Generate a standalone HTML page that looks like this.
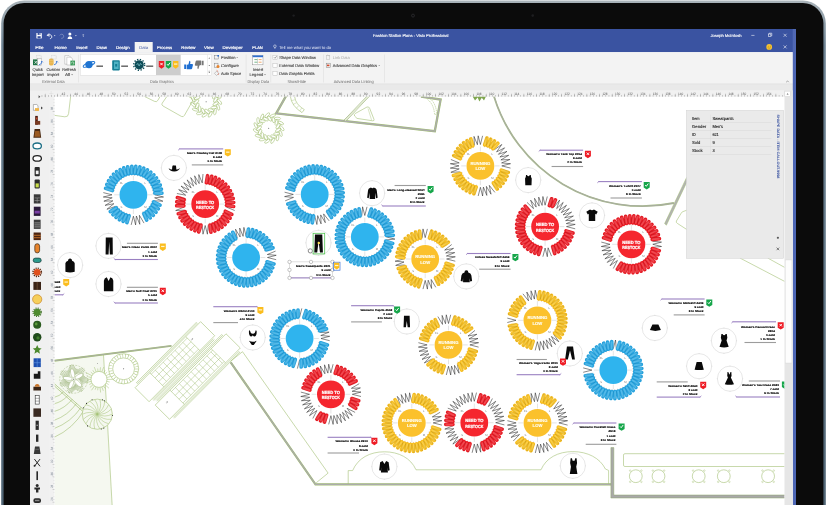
<!DOCTYPE html>
<html lang="en"><head><meta charset="utf-8"><title>Fashion Station Plans - Visio Professional</title>
<style>
html,body{margin:0;padding:0;background:#fff;overflow:hidden}
svg{display:block;font-family:"Liberation Sans", sans-serif;text-rendering:geometricPrecision}
text{white-space:pre}
</style></head>
<body>
<svg width="827" height="505" viewBox="0 0 827 505">
<defs>
<linearGradient id="edge" x1="0" y1="0" x2="0" y2="1"><stop offset="0" stop-color="#aab4ba"/><stop offset="0.08" stop-color="#6d8292"/><stop offset="1" stop-color="#4d6272"/></linearGradient>
<clipPath id="cv"><rect x="54.7" y="96.7" width="729.6" height="420"/></clipPath>
<clipPath id="scr"><rect x="30" y="29" width="766" height="480"/></clipPath>
</defs>
<rect x="0" y="0" width="827" height="505" fill="#ffffff"/>
<rect x="1.2" y="0.6" width="824.6" height="560" rx="23" ry="23" fill="url(#edge)"/>
<rect x="3.6" y="3" width="819.8" height="560" rx="20.5" ry="20.5" fill="#0b0b0b"/>
<circle cx="413" cy="15.6" r="1.5" fill="#0e0e10" stroke="#2c2c2f" stroke-width="0.8"/>
<circle cx="532.7" cy="15.6" r="1.3" fill="#1e1e20"/>
<circle cx="293.6" cy="15.6" r="1.2" fill="#1e1e20"/>
<g clip-path="url(#scr)">
<rect x="30" y="29" width="766" height="480" fill="#ffffff"/>
<rect x="30" y="29" width="766" height="23.2" fill="#3a53a1"/>
<rect x="30" y="52.2" width="766" height="31.8" fill="#f3f3f3"/>
<rect x="30" y="84" width="766" height="13" fill="#e9e9e9"/>
<rect x="30" y="83.6" width="766" height="0.6" fill="#dcdcdc"/>
<rect x="134.7" y="42" width="18" height="10.4" fill="#f3f3f3"/>
<g fill="none" stroke="#ffffff" stroke-width="0.9">
<rect x="36.4" y="33" width="5.4" height="5.4" rx="0.4" fill="#fff" stroke="none"/><rect x="37.6" y="33" width="3" height="1.9" fill="#3a53a1" stroke="none"/><rect x="37.5" y="36.2" width="3.2" height="2.2" fill="#3a53a1" stroke="none"/><rect x="39.5" y="33.3" width="0.8" height="1.3" fill="#fff" stroke="none"/>
<path d="M47.2 35.4 l1.9 -2 M47.2 35.4 l2.5 0.7 M47.6 35.2 c2 -1.2 4.2 -0.2 4.2 1.6 c0 1.1 -0.9 1.8 -1.9 1.9" />
<path d="M59.8 35.4 c0.8 -1.8 3.4 -1.6 3.9 0.4 c0.4 1.7 -1.2 2.9 -2.6 2.5" stroke-opacity="0.3"/>
</g>
<circle cx="69.9" cy="33.9" r="1.5" fill="#ffffff"/><path d="M67.6 38.9 c0 -3.6 4.6 -3.6 4.6 0 z" fill="#ffffff"/>
<path d="M53.9 35.2 h1.6 l-0.8 1z M75.1 35.2 h1.6 l-0.8 1z" fill="#ffffff"/>
<path d="M82.5 35.8 h1.6 l-0.8 1z" fill="#ffffff"/><rect x="82.5" y="34.6" width="1.6" height="0.5" fill="#ffffff"/>
<text x="373.00" y="36.70" font-size="4.1" fill="#fff" textLength="75.50" lengthAdjust="spacingAndGlyphs" stroke="#fff" stroke-width="0.12">Fashion Station Plans - Visio Professional</text>
<text x="710.50" y="36.70" font-size="4.1" fill="#fff" textLength="31.00" lengthAdjust="spacingAndGlyphs" stroke="#fff" stroke-width="0.12">Joseph McIntosh</text>
<g stroke="#ffffff" stroke-width="0.55" fill="none">
<path d="M751.3 35.4 h3.2"/>
<rect x="768.3" y="34" width="2.6" height="2.6"/><path d="M769.2 34 v-0.8 h2.6 v2.6 h-0.9"/>
<path d="M783.6 33.8 l3 3 M786.6 33.8 l-3 3"/>
<path d="M783.6 45.4 l3 3 M786.6 45.4 l-3 3"/>
</g>
<circle cx="769.2" cy="46.9" r="2.9" fill="#f6c232"/><circle cx="768.2" cy="46.2" r="0.35" fill="#7a5b00"/><circle cx="770.2" cy="46.2" r="0.35" fill="#7a5b00"/><path d="M767.7 47.6 q1.5 1.3 3 0" stroke="#7a5b00" stroke-width="0.35" fill="none"/>
<rect x="792.8" y="29" width="3.4" height="480" fill="#4d66b4"/>
<rect x="792.8" y="29" width="3.4" height="23.2" fill="#5068b3"/>
<text x="35.30" y="48.85" font-size="4.05" fill="#fff" textLength="8.20" lengthAdjust="spacingAndGlyphs" stroke="#fff" stroke-width="0.16">File</text>
<text x="54.60" y="48.85" font-size="4.05" fill="#fff" textLength="12.20" lengthAdjust="spacingAndGlyphs" stroke="#fff" stroke-width="0.16">Home</text>
<text x="76.20" y="48.85" font-size="4.05" fill="#fff" textLength="11.20" lengthAdjust="spacingAndGlyphs" stroke="#fff" stroke-width="0.16">Insert</text>
<text x="96.60" y="48.85" font-size="4.05" fill="#fff" textLength="10.20" lengthAdjust="spacingAndGlyphs" stroke="#fff" stroke-width="0.16">Draw</text>
<text x="116.00" y="48.85" font-size="4.05" fill="#fff" textLength="13.60" lengthAdjust="spacingAndGlyphs" stroke="#fff" stroke-width="0.16">Design</text>
<text x="157.00" y="48.85" font-size="4.05" fill="#fff" textLength="15.20" lengthAdjust="spacingAndGlyphs" stroke="#fff" stroke-width="0.16">Process</text>
<text x="181.30" y="48.85" font-size="4.05" fill="#fff" textLength="14.20" lengthAdjust="spacingAndGlyphs" stroke="#fff" stroke-width="0.16">Review</text>
<text x="204.10" y="48.85" font-size="4.05" fill="#fff" textLength="9.60" lengthAdjust="spacingAndGlyphs" stroke="#fff" stroke-width="0.16">View</text>
<text x="222.50" y="48.85" font-size="4.05" fill="#fff" textLength="20.20" lengthAdjust="spacingAndGlyphs" stroke="#fff" stroke-width="0.16">Developer</text>
<text x="252.20" y="48.85" font-size="4.05" fill="#fff" textLength="10.60" lengthAdjust="spacingAndGlyphs" stroke="#fff" stroke-width="0.16">PLAN</text>
<text x="139.20" y="48.85" font-size="4.05" fill="#3a53a1" textLength="9.00" lengthAdjust="spacingAndGlyphs">Data</text>
<circle cx="274.9" cy="46.2" r="1.3" fill="none" stroke="#fff" stroke-width="0.5"/><path d="M274.3 47.7 h1.2 M274.4 48.5 h1" stroke="#fff" stroke-width="0.4"/>
<text x="279.20" y="48.85" font-size="4.05" fill="#e4e9f7" textLength="52.00" lengthAdjust="spacingAndGlyphs">Tell me what you want to do</text>
<rect x="78.5" y="54.5" width="0.5" height="28" fill="#dadada"/>
<rect x="245.8" y="54.5" width="0.5" height="28" fill="#dadada"/>
<rect x="270.6" y="54.5" width="0.5" height="28" fill="#dadada"/>
<rect x="323.2" y="54.5" width="0.5" height="28" fill="#dadada"/>
<rect x="384.1" y="54.5" width="0.5" height="28" fill="#dadada"/>
<rect x="33" y="59.4" width="5.6" height="5.8" fill="#1f7244"/><path d="M34.4 60.8 l2.8 3 M37.2 60.8 l-2.8 3" stroke="#fff" stroke-width="0.7"/>
<rect x="37.4" y="58.6" width="4" height="6.6" fill="#fff" stroke="#9a9a9a" stroke-width="0.4"/>
<rect x="36.6" y="55.4" width="4.6" height="3.6" fill="none" stroke="#b5b5b5" stroke-width="0.4" stroke-dasharray="0.8 0.5"/>
<path d="M39 64.8 q2.8 -0.4 3 -3.4 l-1.1 0.5 m1.1 -0.5 l0.9 0.9" stroke="#2f6fd0" stroke-width="0.8" fill="none"/>
<rect x="49" y="58.4" width="4.6" height="7" rx="1.6" fill="#e8b44c"/><path d="M49 60.6 h4.6 M49 62.8 h4.6" stroke="#f6d995" stroke-width="0.4"/>
<rect x="51.6" y="55.4" width="4.6" height="3.6" fill="none" stroke="#b5b5b5" stroke-width="0.4" stroke-dasharray="0.8 0.5"/>
<path d="M54 64.8 q2.8 -0.4 3 -3.4 l-1.1 0.5 m1.1 -0.5 l0.9 0.9" stroke="#2f6fd0" stroke-width="0.8" fill="none"/>
<path d="M64.8 55.6 h4.2 l2 2 v6.6 h-6.2z" fill="#fff" stroke="#a2a2a2" stroke-width="0.45"/><path d="M66.8 57.2 h4 l1.8 1.8 v6 h-5.8z" fill="#fff" stroke="#a2a2a2" stroke-width="0.45"/>
<rect x="70.4" y="60.6" width="4.6" height="4.8" fill="#3c9b5a"/><path d="M71.6 63.4 a1.2 1.2 0 1 1 1.2 0.9" stroke="#fff" stroke-width="0.5" fill="none"/>
<text x="32.50" y="70.90" font-size="4.0" fill="#404040" textLength="10.40" lengthAdjust="spacingAndGlyphs" stroke="#404040" stroke-width="0.1">Quick</text>
<text x="31.70" y="76.40" font-size="4.0" fill="#404040" textLength="12.00" lengthAdjust="spacingAndGlyphs" stroke="#404040" stroke-width="0.1">Import</text>
<text x="46.40" y="70.90" font-size="4.0" fill="#404040" textLength="13.60" lengthAdjust="spacingAndGlyphs" stroke="#404040" stroke-width="0.1">Custom</text>
<text x="47.20" y="76.40" font-size="4.0" fill="#404040" textLength="12.00" lengthAdjust="spacingAndGlyphs" stroke="#404040" stroke-width="0.1">Import</text>
<text x="62.30" y="70.90" font-size="4.0" fill="#404040" textLength="13.60" lengthAdjust="spacingAndGlyphs" stroke="#404040" stroke-width="0.1">Refresh</text>
<text x="64.90" y="76.40" font-size="4.0" fill="#404040" textLength="5.20" lengthAdjust="spacingAndGlyphs" stroke="#404040" stroke-width="0.1">All</text>
<path d="M71.3 74.3 h1.6 l-0.8 0.9z" fill="#555"/>
<text x="42.15" y="83.00" font-size="4.1" fill="#666" textLength="22.50" lengthAdjust="spacingAndGlyphs">External Data</text>
<text x="150.00" y="83.00" font-size="4.1" fill="#666" textLength="24.00" lengthAdjust="spacingAndGlyphs">Data Graphics</text>
<text x="247.55" y="83.00" font-size="4.1" fill="#666" textLength="21.50" lengthAdjust="spacingAndGlyphs">Display Data</text>
<text x="287.45" y="83.00" font-size="4.1" fill="#666" textLength="18.50" lengthAdjust="spacingAndGlyphs">Show/Hide</text>
<text x="333.70" y="83.00" font-size="4.1" fill="#666" textLength="40.00" lengthAdjust="spacingAndGlyphs">Advanced Data Linking</text>
<rect x="80.4" y="54.6" width="131.2" height="20.6" fill="#ffffff" stroke="#d5d5d5" stroke-width="0.4"/>
<rect x="156" y="54.8" width="24.7" height="20.2" fill="#cdcdcd"/>
<rect x="207" y="54.8" width="0.4" height="20.2" fill="#d5d5d5"/>
<circle cx="89" cy="64.6" r="3.7" fill="#1f74d1"/><ellipse cx="89" cy="64.4" rx="6.2" ry="1.7" transform="rotate(-22 89 64.4)" fill="none" stroke="#1f74d1" stroke-width="1"/>
<rect x="96.4" y="65.6" width="6.6" height="1.1" fill="#333"/>
<rect x="112.2" y="60.2" width="7.6" height="10.2" rx="0.8" fill="#157f95"/><rect x="114" y="61.6" width="4.6" height="7.4" fill="#4fb3c4"/><rect x="115.2" y="64" width="2" height="2.6" fill="#157f95"/>
<rect x="121.2" y="65.6" width="6.8" height="1.1" fill="#333"/>
<circle cx="139.2" cy="64.8" r="4.6" fill="#0d4c57"/><circle cx="139.2" cy="64.8" r="5.5" fill="none" stroke="#0d4c57" stroke-width="1.4" stroke-dasharray="1.3 1.58"/><path d="M136.6 65 l1.2 -1.6 l1.3 2.6 l1.3 -2.6 l1.3 1.6" stroke="#8fd3dc" stroke-width="0.6" fill="none"/>
<rect x="146.2" y="65.6" width="7" height="1.1" fill="#333"/>
<path d="M158.80 60.90 h5.4 v5.85 l-2.70 2.05 l-2.70 -2.05z" fill="#ee1c25"/>
<path d="M160.30 62.86 l2.4 2.4 M162.70 62.86 l-2.4 2.4" stroke="#fff" stroke-width="0.95"/>
<path d="M165.80 60.90 h5.4 v5.85 l-2.70 2.05 l-2.70 -2.05z" fill="#16a64a"/>
<path d="M167.00 64.16 l1.1 1.2 l2 -2.7" stroke="#fff" stroke-width="0.95" fill="none"/>
<path d="M173.00 60.90 h5.4 v5.85 l-2.70 2.05 l-2.70 -2.05z" fill="#fbbd1e"/>
<rect x="174.00" y="63.46" width="3.4" height="1.2" fill="#fff4cf"/>
<path d="M184.2 64.6 h2 v4.4 h-2z M186.8 64.8 l1.6 -0.4 l1 -3.6 q1.2 0 1 1.6 l-0.3 1.6 h2.2 q1 0.2 0.6 1.2 l-0.8 3.4 q-0.2 0.6 -1 0.6 h-4.3z" fill="#1f6fd2"/>
<path d="M203.6 65.2 h-2 v-4.4 h2z M201 65 l-1.6 0.4 l-1 3.6 q-1.2 0 -1 -1.6 l0.3 -1.6 h-2.2 q-1 -0.2 -0.6 -1.2 l0.8 -3.4 q0.2 -0.6 1 -0.6 h4.3z" fill="#777"/>
<path d="M208.5 58.4 h1.6 l-0.8 -0.9z M208.5 65 h1.6 l-0.8 0.9z M208.5 72 h1.6 l-0.8 0.9z" fill="#555"/><rect x="208.5" y="70.9" width="1.6" height="0.4" fill="#555"/>
<rect x="214.6" y="55.6" width="3.6" height="3.4" fill="none" stroke="#777" stroke-width="0.45"/><rect x="217.4" y="55" width="1.6" height="1.6" fill="#2f6fd0"/>
<rect x="214.6" y="63.2" width="3.4" height="4" fill="none" stroke="#777" stroke-width="0.45"/><circle cx="218" cy="66.6" r="1.5" fill="#e8842c"/>
<path d="M214.4 73.4 l2.2 -2.2 l2.2 2.2 l-2.2 2.2z" fill="none" stroke="#999" stroke-width="0.5"/><path d="M216.6 70.4 l1.6 1.2 M218.6 73.4 l-0.6 1.6" stroke="#d24a2c" stroke-width="0.6"/>
<text x="221.00" y="59.20" font-size="4.0" fill="#404040" textLength="14.40" lengthAdjust="spacingAndGlyphs" stroke="#404040" stroke-width="0.1">Position</text>
<path d="M236.4 57.2 h1.6 l-0.8 0.9z" fill="#555"/>
<text x="221.00" y="67.30" font-size="4.0" fill="#404040" textLength="17.90" lengthAdjust="spacingAndGlyphs" stroke="#404040" stroke-width="0.1">Configure</text>
<text x="221.00" y="75.30" font-size="4.0" fill="#404040" textLength="20.10" lengthAdjust="spacingAndGlyphs" stroke="#404040" stroke-width="0.1">Auto Space</text>
<rect x="252.6" y="55.4" width="10.4" height="9.4" fill="#fff" stroke="#8a8a8a" stroke-width="0.45"/><rect x="252.6" y="55.4" width="10.4" height="1.8" fill="#2f6fd0"/>
<path d="M254.4 59.6 h3 M254.4 62.2 h3" stroke="#3c9b5a" stroke-width="0.7"/><path d="M258.6 59.6 h3 M258.6 62.2 h3" stroke="#e8842c" stroke-width="0.7"/><rect x="257.6" y="58.4" width="0.4" height="5.4" fill="#999"/>
<text x="252.80" y="70.90" font-size="4.0" fill="#404040" textLength="10.40" lengthAdjust="spacingAndGlyphs" stroke="#404040" stroke-width="0.1">Insert</text>
<text x="249.60" y="76.40" font-size="4.0" fill="#404040" textLength="13.60" lengthAdjust="spacingAndGlyphs" stroke="#404040" stroke-width="0.1">Legend</text>
<path d="M264.2 74.3 h1.6 l-0.8 0.9z" fill="#555"/>
<rect x="272.9" y="55.20" width="4.2" height="4.2" fill="#fff" stroke="#b0b0b0" stroke-width="0.4"/>
<path d="M274.1 57.30 l0.9 1 l1.6 -2.1" stroke="#444" stroke-width="0.5" fill="none"/>
<text x="279.30" y="58.95" font-size="4.0" fill="#404040" textLength="36.60" lengthAdjust="spacingAndGlyphs" stroke="#404040" stroke-width="0.1">Shape Data Window</text>
<rect x="272.9" y="63.25" width="4.2" height="4.2" fill="#fff" stroke="#b0b0b0" stroke-width="0.4"/>
<text x="279.30" y="67.00" font-size="4.0" fill="#404040" textLength="40.00" lengthAdjust="spacingAndGlyphs" stroke="#404040" stroke-width="0.1">External Data Window</text>
<rect x="272.9" y="71.30" width="4.2" height="4.2" fill="#fff" stroke="#b0b0b0" stroke-width="0.4"/>
<text x="279.30" y="75.05" font-size="4.0" fill="#404040" textLength="35.20" lengthAdjust="spacingAndGlyphs" stroke="#404040" stroke-width="0.1">Data Graphic Fields</text>
<rect x="326.4" y="55.4" width="3.4" height="3.8" fill="none" stroke="#b8b8b8" stroke-width="0.45"/><path d="M327 54.8 l2.6 1.4" stroke="#b8b8b8" stroke-width="0.5"/>
<text x="332.80" y="59.20" font-size="4.0" fill="#a6a6a6" textLength="16.90" lengthAdjust="spacingAndGlyphs">Link Data</text>
<rect x="326.2" y="63.2" width="4" height="4.4" fill="none" stroke="#777" stroke-width="0.45"/><rect x="327" y="64.6" width="2.4" height="1.6" fill="#d24a2c"/>
<text x="332.80" y="67.30" font-size="4.0" fill="#404040" textLength="44.20" lengthAdjust="spacingAndGlyphs" stroke="#404040" stroke-width="0.1">Advanced Data Graphics</text>
<path d="M378.4 65.2 h1.6 l-0.8 0.9z" fill="#555"/>
<path d="M786.2 82.2 l1.3 -1.3 l1.3 1.3" stroke="#555" stroke-width="0.5" fill="none"/>
<rect x="30" y="90.3" width="19" height="420" fill="#f0f0f0"/>
<rect x="30" y="84.2" width="19" height="6.1" fill="#e9e9e9"/>
<path d="M38.6 95.2 l1.7 1.5 l-1.7 1.5z" fill="#444"/>
<rect x="49" y="90.3" width="735.3" height="6.4" fill="#f1f1f1"/>
<rect x="49" y="96.7" width="5.7" height="420" fill="#f1f1f1"/>
<path d="M51.2 91.4 v4.2 M49.6 93.5 h3.8" stroke="#c0c0c0" stroke-width="0.4" stroke-dasharray="0.5 0.4"/>
<path d="M44.90 95.5 H784" stroke="#8a8a8a" stroke-width="3.6" stroke-dasharray="0.45 12.15" />
<path d="M41.75 96 H784" stroke="#999" stroke-width="2" stroke-dasharray="0.45 2.7" />
<text x="61.60" y="94.60" font-size="3.4" fill="#555" textLength="3.60" lengthAdjust="spacingAndGlyphs">42</text>
<text x="74.20" y="94.60" font-size="3.4" fill="#555" textLength="3.60" lengthAdjust="spacingAndGlyphs">44</text>
<text x="86.80" y="94.60" font-size="3.4" fill="#555" textLength="3.60" lengthAdjust="spacingAndGlyphs">46</text>
<text x="99.40" y="94.60" font-size="3.4" fill="#555" textLength="3.60" lengthAdjust="spacingAndGlyphs">48</text>
<text x="112.00" y="94.60" font-size="3.4" fill="#555" textLength="3.60" lengthAdjust="spacingAndGlyphs">50</text>
<text x="124.60" y="94.60" font-size="3.4" fill="#555" textLength="3.60" lengthAdjust="spacingAndGlyphs">52</text>
<text x="137.20" y="94.60" font-size="3.4" fill="#555" textLength="3.60" lengthAdjust="spacingAndGlyphs">54</text>
<text x="149.80" y="94.60" font-size="3.4" fill="#555" textLength="3.60" lengthAdjust="spacingAndGlyphs">56</text>
<text x="162.40" y="94.60" font-size="3.4" fill="#555" textLength="3.60" lengthAdjust="spacingAndGlyphs">58</text>
<text x="175.00" y="94.60" font-size="3.4" fill="#555" textLength="3.60" lengthAdjust="spacingAndGlyphs">60</text>
<text x="187.60" y="94.60" font-size="3.4" fill="#555" textLength="3.60" lengthAdjust="spacingAndGlyphs">62</text>
<text x="200.20" y="94.60" font-size="3.4" fill="#555" textLength="3.60" lengthAdjust="spacingAndGlyphs">64</text>
<text x="212.80" y="94.60" font-size="3.4" fill="#555" textLength="3.60" lengthAdjust="spacingAndGlyphs">66</text>
<text x="225.40" y="94.60" font-size="3.4" fill="#555" textLength="3.60" lengthAdjust="spacingAndGlyphs">68</text>
<text x="238.00" y="94.60" font-size="3.4" fill="#555" textLength="3.60" lengthAdjust="spacingAndGlyphs">70</text>
<text x="250.60" y="94.60" font-size="3.4" fill="#555" textLength="3.60" lengthAdjust="spacingAndGlyphs">72</text>
<text x="263.20" y="94.60" font-size="3.4" fill="#555" textLength="3.60" lengthAdjust="spacingAndGlyphs">74</text>
<text x="275.80" y="94.60" font-size="3.4" fill="#555" textLength="3.60" lengthAdjust="spacingAndGlyphs">76</text>
<text x="288.40" y="94.60" font-size="3.4" fill="#555" textLength="3.60" lengthAdjust="spacingAndGlyphs">78</text>
<text x="301.00" y="94.60" font-size="3.4" fill="#555" textLength="3.60" lengthAdjust="spacingAndGlyphs">80</text>
<text x="313.60" y="94.60" font-size="3.4" fill="#555" textLength="3.60" lengthAdjust="spacingAndGlyphs">82</text>
<text x="326.20" y="94.60" font-size="3.4" fill="#555" textLength="3.60" lengthAdjust="spacingAndGlyphs">84</text>
<text x="338.80" y="94.60" font-size="3.4" fill="#555" textLength="3.60" lengthAdjust="spacingAndGlyphs">86</text>
<text x="351.40" y="94.60" font-size="3.4" fill="#555" textLength="3.60" lengthAdjust="spacingAndGlyphs">88</text>
<text x="364.00" y="94.60" font-size="3.4" fill="#555" textLength="3.60" lengthAdjust="spacingAndGlyphs">90</text>
<text x="376.60" y="94.60" font-size="3.4" fill="#555" textLength="3.60" lengthAdjust="spacingAndGlyphs">92</text>
<text x="389.20" y="94.60" font-size="3.4" fill="#555" textLength="3.60" lengthAdjust="spacingAndGlyphs">94</text>
<text x="401.80" y="94.60" font-size="3.4" fill="#555" textLength="3.60" lengthAdjust="spacingAndGlyphs">96</text>
<text x="414.40" y="94.60" font-size="3.4" fill="#555" textLength="3.60" lengthAdjust="spacingAndGlyphs">98</text>
<text x="426.00" y="94.60" font-size="3.4" fill="#555" textLength="5.20" lengthAdjust="spacingAndGlyphs">100</text>
<text x="438.60" y="94.60" font-size="3.4" fill="#555" textLength="5.20" lengthAdjust="spacingAndGlyphs">102</text>
<text x="451.20" y="94.60" font-size="3.4" fill="#555" textLength="5.20" lengthAdjust="spacingAndGlyphs">104</text>
<text x="463.80" y="94.60" font-size="3.4" fill="#555" textLength="5.20" lengthAdjust="spacingAndGlyphs">106</text>
<text x="476.40" y="94.60" font-size="3.4" fill="#555" textLength="5.20" lengthAdjust="spacingAndGlyphs">108</text>
<text x="489.00" y="94.60" font-size="3.4" fill="#555" textLength="5.20" lengthAdjust="spacingAndGlyphs">110</text>
<text x="501.60" y="94.60" font-size="3.4" fill="#555" textLength="5.20" lengthAdjust="spacingAndGlyphs">112</text>
<text x="514.20" y="94.60" font-size="3.4" fill="#555" textLength="5.20" lengthAdjust="spacingAndGlyphs">114</text>
<text x="526.80" y="94.60" font-size="3.4" fill="#555" textLength="5.20" lengthAdjust="spacingAndGlyphs">116</text>
<text x="539.40" y="94.60" font-size="3.4" fill="#555" textLength="5.20" lengthAdjust="spacingAndGlyphs">118</text>
<text x="552.00" y="94.60" font-size="3.4" fill="#555" textLength="5.20" lengthAdjust="spacingAndGlyphs">120</text>
<text x="564.60" y="94.60" font-size="3.4" fill="#555" textLength="5.20" lengthAdjust="spacingAndGlyphs">122</text>
<text x="577.20" y="94.60" font-size="3.4" fill="#555" textLength="5.20" lengthAdjust="spacingAndGlyphs">124</text>
<text x="589.80" y="94.60" font-size="3.4" fill="#555" textLength="5.20" lengthAdjust="spacingAndGlyphs">126</text>
<text x="602.40" y="94.60" font-size="3.4" fill="#555" textLength="5.20" lengthAdjust="spacingAndGlyphs">128</text>
<text x="615.00" y="94.60" font-size="3.4" fill="#555" textLength="5.20" lengthAdjust="spacingAndGlyphs">130</text>
<text x="627.60" y="94.60" font-size="3.4" fill="#555" textLength="5.20" lengthAdjust="spacingAndGlyphs">132</text>
<text x="640.20" y="94.60" font-size="3.4" fill="#555" textLength="5.20" lengthAdjust="spacingAndGlyphs">134</text>
<text x="652.80" y="94.60" font-size="3.4" fill="#555" textLength="5.20" lengthAdjust="spacingAndGlyphs">136</text>
<text x="665.40" y="94.60" font-size="3.4" fill="#555" textLength="5.20" lengthAdjust="spacingAndGlyphs">138</text>
<text x="678.00" y="94.60" font-size="3.4" fill="#555" textLength="5.20" lengthAdjust="spacingAndGlyphs">140</text>
<text x="690.60" y="94.60" font-size="3.4" fill="#555" textLength="5.20" lengthAdjust="spacingAndGlyphs">142</text>
<text x="703.20" y="94.60" font-size="3.4" fill="#555" textLength="5.20" lengthAdjust="spacingAndGlyphs">144</text>
<text x="715.80" y="94.60" font-size="3.4" fill="#555" textLength="5.20" lengthAdjust="spacingAndGlyphs">146</text>
<text x="728.40" y="94.60" font-size="3.4" fill="#555" textLength="5.20" lengthAdjust="spacingAndGlyphs">148</text>
<text x="741.00" y="94.60" font-size="3.4" fill="#555" textLength="5.20" lengthAdjust="spacingAndGlyphs">150</text>
<text x="753.60" y="94.60" font-size="3.4" fill="#555" textLength="5.20" lengthAdjust="spacingAndGlyphs">152</text>
<text x="766.20" y="94.60" font-size="3.4" fill="#555" textLength="5.20" lengthAdjust="spacingAndGlyphs">154</text>
<path d="M54.1 99 V505" stroke="#b4b4b4" stroke-width="1.2" stroke-dasharray="0.35 2.8"/>
<text transform="translate(53.0 110.1) rotate(-90)" font-size="3.2" fill="#7d8794" textLength="3.4" lengthAdjust="spacingAndGlyphs">88</text>
<rect x="52.4" y="111.3" width="2.3" height="0.35" fill="#aaa"/>
<text transform="translate(53.0 122.7) rotate(-90)" font-size="3.2" fill="#7d8794" textLength="3.4" lengthAdjust="spacingAndGlyphs">86</text>
<rect x="52.4" y="123.9" width="2.3" height="0.35" fill="#aaa"/>
<text transform="translate(53.0 135.3) rotate(-90)" font-size="3.2" fill="#7d8794" textLength="3.4" lengthAdjust="spacingAndGlyphs">84</text>
<rect x="52.4" y="136.5" width="2.3" height="0.35" fill="#aaa"/>
<text transform="translate(53.0 147.9) rotate(-90)" font-size="3.2" fill="#7d8794" textLength="3.4" lengthAdjust="spacingAndGlyphs">82</text>
<rect x="52.4" y="149.1" width="2.3" height="0.35" fill="#aaa"/>
<text transform="translate(53.0 160.5) rotate(-90)" font-size="3.2" fill="#7d8794" textLength="3.4" lengthAdjust="spacingAndGlyphs">80</text>
<rect x="52.4" y="161.7" width="2.3" height="0.35" fill="#aaa"/>
<text transform="translate(53.0 173.1) rotate(-90)" font-size="3.2" fill="#7d8794" textLength="3.4" lengthAdjust="spacingAndGlyphs">78</text>
<rect x="52.4" y="174.3" width="2.3" height="0.35" fill="#aaa"/>
<text transform="translate(53.0 185.7) rotate(-90)" font-size="3.2" fill="#7d8794" textLength="3.4" lengthAdjust="spacingAndGlyphs">76</text>
<rect x="52.4" y="186.9" width="2.3" height="0.35" fill="#aaa"/>
<text transform="translate(53.0 198.3) rotate(-90)" font-size="3.2" fill="#7d8794" textLength="3.4" lengthAdjust="spacingAndGlyphs">74</text>
<rect x="52.4" y="199.5" width="2.3" height="0.35" fill="#aaa"/>
<text transform="translate(53.0 210.9) rotate(-90)" font-size="3.2" fill="#7d8794" textLength="3.4" lengthAdjust="spacingAndGlyphs">72</text>
<rect x="52.4" y="212.1" width="2.3" height="0.35" fill="#aaa"/>
<text transform="translate(53.0 223.5) rotate(-90)" font-size="3.2" fill="#7d8794" textLength="3.4" lengthAdjust="spacingAndGlyphs">70</text>
<rect x="52.4" y="224.7" width="2.3" height="0.35" fill="#aaa"/>
<text transform="translate(53.0 236.1) rotate(-90)" font-size="3.2" fill="#7d8794" textLength="3.4" lengthAdjust="spacingAndGlyphs">68</text>
<rect x="52.4" y="237.3" width="2.3" height="0.35" fill="#aaa"/>
<text transform="translate(53.0 248.7) rotate(-90)" font-size="3.2" fill="#7d8794" textLength="3.4" lengthAdjust="spacingAndGlyphs">66</text>
<rect x="52.4" y="249.9" width="2.3" height="0.35" fill="#aaa"/>
<text transform="translate(53.0 261.3) rotate(-90)" font-size="3.2" fill="#7d8794" textLength="3.4" lengthAdjust="spacingAndGlyphs">64</text>
<rect x="52.4" y="262.5" width="2.3" height="0.35" fill="#aaa"/>
<text transform="translate(53.0 273.9) rotate(-90)" font-size="3.2" fill="#7d8794" textLength="3.4" lengthAdjust="spacingAndGlyphs">62</text>
<rect x="52.4" y="275.1" width="2.3" height="0.35" fill="#aaa"/>
<text transform="translate(53.0 286.5) rotate(-90)" font-size="3.2" fill="#7d8794" textLength="3.4" lengthAdjust="spacingAndGlyphs">60</text>
<rect x="52.4" y="287.7" width="2.3" height="0.35" fill="#aaa"/>
<text transform="translate(53.0 299.1) rotate(-90)" font-size="3.2" fill="#7d8794" textLength="3.4" lengthAdjust="spacingAndGlyphs">58</text>
<rect x="52.4" y="300.3" width="2.3" height="0.35" fill="#aaa"/>
<text transform="translate(53.0 311.7) rotate(-90)" font-size="3.2" fill="#7d8794" textLength="3.4" lengthAdjust="spacingAndGlyphs">56</text>
<rect x="52.4" y="312.9" width="2.3" height="0.35" fill="#aaa"/>
<text transform="translate(53.0 324.3) rotate(-90)" font-size="3.2" fill="#7d8794" textLength="3.4" lengthAdjust="spacingAndGlyphs">54</text>
<rect x="52.4" y="325.5" width="2.3" height="0.35" fill="#aaa"/>
<text transform="translate(53.0 336.9) rotate(-90)" font-size="3.2" fill="#7d8794" textLength="3.4" lengthAdjust="spacingAndGlyphs">52</text>
<rect x="52.4" y="338.1" width="2.3" height="0.35" fill="#aaa"/>
<text transform="translate(53.0 349.5) rotate(-90)" font-size="3.2" fill="#7d8794" textLength="3.4" lengthAdjust="spacingAndGlyphs">50</text>
<rect x="52.4" y="350.7" width="2.3" height="0.35" fill="#aaa"/>
<text transform="translate(53.0 362.1) rotate(-90)" font-size="3.2" fill="#7d8794" textLength="3.4" lengthAdjust="spacingAndGlyphs">48</text>
<rect x="52.4" y="363.3" width="2.3" height="0.35" fill="#aaa"/>
<text transform="translate(53.0 374.7) rotate(-90)" font-size="3.2" fill="#7d8794" textLength="3.4" lengthAdjust="spacingAndGlyphs">46</text>
<rect x="52.4" y="375.9" width="2.3" height="0.35" fill="#aaa"/>
<text transform="translate(53.0 387.3) rotate(-90)" font-size="3.2" fill="#7d8794" textLength="3.4" lengthAdjust="spacingAndGlyphs">44</text>
<rect x="52.4" y="388.5" width="2.3" height="0.35" fill="#aaa"/>
<text transform="translate(53.0 399.9) rotate(-90)" font-size="3.2" fill="#7d8794" textLength="3.4" lengthAdjust="spacingAndGlyphs">42</text>
<rect x="52.4" y="401.1" width="2.3" height="0.35" fill="#aaa"/>
<text transform="translate(53.0 412.5) rotate(-90)" font-size="3.2" fill="#7d8794" textLength="3.4" lengthAdjust="spacingAndGlyphs">40</text>
<rect x="52.4" y="413.7" width="2.3" height="0.35" fill="#aaa"/>
<text transform="translate(53.0 425.1) rotate(-90)" font-size="3.2" fill="#7d8794" textLength="3.4" lengthAdjust="spacingAndGlyphs">38</text>
<rect x="52.4" y="426.3" width="2.3" height="0.35" fill="#aaa"/>
<text transform="translate(53.0 437.7) rotate(-90)" font-size="3.2" fill="#7d8794" textLength="3.4" lengthAdjust="spacingAndGlyphs">36</text>
<rect x="52.4" y="438.9" width="2.3" height="0.35" fill="#aaa"/>
<text transform="translate(53.0 450.3) rotate(-90)" font-size="3.2" fill="#7d8794" textLength="3.4" lengthAdjust="spacingAndGlyphs">34</text>
<rect x="52.4" y="451.5" width="2.3" height="0.35" fill="#aaa"/>
<text transform="translate(53.0 462.9) rotate(-90)" font-size="3.2" fill="#7d8794" textLength="3.4" lengthAdjust="spacingAndGlyphs">32</text>
<rect x="52.4" y="464.1" width="2.3" height="0.35" fill="#aaa"/>
<text transform="translate(53.0 475.5) rotate(-90)" font-size="3.2" fill="#7d8794" textLength="3.4" lengthAdjust="spacingAndGlyphs">30</text>
<rect x="52.4" y="476.7" width="2.3" height="0.35" fill="#aaa"/>
<text transform="translate(53.0 488.1) rotate(-90)" font-size="3.2" fill="#7d8794" textLength="3.4" lengthAdjust="spacingAndGlyphs">28</text>
<rect x="52.4" y="489.3" width="2.3" height="0.35" fill="#aaa"/>
<text transform="translate(53.0 500.7) rotate(-90)" font-size="3.2" fill="#7d8794" textLength="3.4" lengthAdjust="spacingAndGlyphs">26</text>
<rect x="52.4" y="501.9" width="2.3" height="0.35" fill="#aaa"/>
<rect x="784.3" y="90.3" width="8.5" height="420" fill="#e6e6e6"/>
<rect x="784.9" y="91.2" width="5.4" height="5.2" fill="#fff" stroke="#c8c8c8" stroke-width="0.3"/><path d="M786.6 94.4 h2 l-1 -1.2z" fill="#555"/>
<rect x="785.3" y="260" width="6.6" height="103" fill="#fdfdfd" stroke="#d0d0d0" stroke-width="0.3"/>
<path d="M33.4 104.5 h3.4 l1.2 1.2 v4.6 h-4.6z" fill="#fff" stroke="#666" stroke-width="0.45"/><rect x="35" y="108.1" width="4" height="2.8" fill="#f0b64a"/><path d="M41 106.5 l1.9 1.5 l-1.9 1.5z" fill="#444"/>
<rect x="35.2" y="115.9" width="2.6" height="8.8" fill="#4a1f12"/><rect x="35.2" y="120.9" width="5" height="3.8" fill="#7a3b22"/><rect x="36" y="117.5" width="1.4" height="2" fill="#c84a2a"/>
<path d="M34.6 128.9 h5.4 l1.2 8.8 h-7.8z" fill="#4a2a12"/><path d="M35.2 131.10000000000002 h4.2 l0.8 5.6 h-5.8z" fill="#9a5a22"/>
<ellipse cx="37.2" cy="145.9" rx="4.2" ry="2.9" fill="#fff" stroke="#1d6f86" stroke-width="1.3"/>
<ellipse cx="37.2" cy="158.4" rx="4.2" ry="2.7" fill="#fff" stroke="#222" stroke-width="1.3"/>
<rect x="34.6" y="167.00000000000003" width="5.2" height="9.2" rx="1" fill="#2a2a2a"/><rect x="35.8" y="170.60000000000002" width="2.8" height="3.6" fill="#f4f4f4"/>
<rect x="34.6" y="179.4" width="5.2" height="9.2" rx="1" fill="#2a2a2a"/><rect x="35.6" y="183.4" width="3.2" height="4" fill="#c9dd4a"/>
<rect x="33.8" y="194.3" width="6.8" height="9.2" fill="#3a3a3a"/><path d="M34.6 197.9 h5.2 M34.6 200.5 h5.2 M37.2 197.9 v4.6" stroke="#aaa" stroke-width="0.5"/>
<rect x="33.8" y="206.70000000000002" width="6.8" height="9.2" fill="#2a1a3a"/><rect x="34.6" y="210.70000000000002" width="5.2" height="2.8" fill="#7a3fa6"/>
<rect x="33.8" y="219.70000000000002" width="6.8" height="9.2" fill="#3c3c3c"/><path d="M34.4 222.9 h5.6 M34.4 224.9 h5.6 M34.4 226.9 h5.6" stroke="#ddd" stroke-width="0.5"/>
<rect x="33.6" y="232.5" width="7.2" height="7.6" fill="#4a2412"/><path d="M33.6 235.3 h7.2 M33.6 237.70000000000002 h7.2" stroke="#c8742a" stroke-width="0.9"/>
<rect x="34.8" y="243.70000000000002" width="4.8" height="9.2" rx="2.4" fill="#e8842c" stroke="#3a2a1a" stroke-width="0.7"/>
<rect x="33.2" y="258.1" width="8" height="4.4" rx="2.2" fill="#2b9a8c" stroke="#1a3a3a" stroke-width="0.7"/>
<circle cx="37.2" cy="272.3" r="3.4" fill="#e0501c"/><circle cx="37.2" cy="272.3" r="4.2" fill="none" stroke="#5a2a12" stroke-width="1.4" stroke-dasharray="1.2 1.0"/>
<rect x="33.4" y="281.90000000000003" width="7.6" height="8" fill="#3a2416"/><path d="M37.2 281.90000000000003 v8" stroke="#8a6a4a" stroke-width="0.5"/>
<circle cx="37.2" cy="299.3" r="4.6" fill="#f6cf5a" stroke="#c8862a" stroke-width="0.7"/>
<circle cx="37.2" cy="312.3" r="3.6" fill="#4e8a2e"/><circle cx="37.2" cy="312.3" r="4.2" fill="none" stroke="#3a6a22" stroke-width="1.2" stroke-dasharray="1 1.2"/>
<circle cx="37.2" cy="324.8" r="4" fill="#2a5a1e"/><circle cx="36.2" cy="324.0" r="1.4" fill="#5a9a3a"/>
<circle cx="37.2" cy="337.3" r="4.2" fill="#1f4a1a"/><circle cx="38.0" cy="337.90000000000003" r="1.6" fill="#3f7a2a"/>
<path d="M37.2 345.1 l1.4 3 l3 0.4 l-2.4 2 l0.8 3.2 l-2.8 -1.8 l-2.8 1.8 l0.8 -3.2 l-2.4 -2 l3 -0.4z" fill="#4e8a2e"/>
<rect x="33.6" y="358.3" width="7.2" height="8.8" fill="#1d4fb0"/><path d="M37.2 358.3 v8.8 M33.6 362.7 h7.2" stroke="#6aa0ea" stroke-width="0.5"/>
<path d="M33.8 373.7 h4 v-2.4 h2.6 v7.4 h-6.6z" fill="#1a1a1a"/>
<path d="M33.4 386.7 h7.6 v3.8 h-7.6z" fill="#3a2416"/><path d="M34.8 386.7 a2.4 2.6 0 0 1 4.8 0z" fill="#c8742a"/>
<rect x="35.2" y="395.3" width="4" height="8.8" fill="#fff" stroke="#333" stroke-width="0.6"/><path d="M35.2 398.3 h4 M35.2 401.09999999999997 h4" stroke="#333" stroke-width="0.4"/>
<rect x="33.4" y="408.40000000000003" width="7.6" height="8.4" fill="#3a2a22"/>
<rect x="35.6" y="420.7" width="3.2" height="9.2" fill="#2a2a2a"/><rect x="36.4" y="424.7" width="1.6" height="1.2" fill="#999"/>
<rect x="36" y="434.59999999999997" width="2.4" height="7.2" fill="#2a2a2a"/>
<path d="M35 446.5 h4.4 l1.2 7.6 h-6.8z" fill="#3a3a3a"/><path d="M35.4 449.3 h3.6" stroke="#aaa" stroke-width="0.4"/>
<path d="M34.4 459.09999999999997 l5.6 7.2 M40 459.09999999999997 l-5.6 7.2" stroke="#2a2a2a" stroke-width="1"/><circle cx="34.6" cy="465.7" r="1" fill="#2a2a2a"/>
<rect x="36.4" y="471.3" width="1.6" height="8.8" fill="#2a2a2a"/>
<circle cx="37.2" cy="485.4" r="1.5" fill="#2a2a2a"/><path d="M34.4 487.4 h5.6 v2 h-1.6 v3 h-2.4 v-3 h-1.6z" fill="#2a2a2a"/>
<rect x="33.4" y="498.20000000000005" width="7.6" height="4.8" rx="2" fill="#2a2a2a"/><rect x="35" y="499.8" width="4.4" height="1.4" fill="#888"/>
<rect x="54.7" y="96.7" width="729.6" height="420" fill="#ffffff"/>
<g clip-path="url(#cv)">
<g fill="none" stroke="#a3c073" stroke-width="0.6">
<path d="M70.8 95 L68.6 113.6 Q68.2 117.2 64.8 116.8 L54 115.3"/>
<path d="M143.6 96 L154.6 101.4 Q156.6 102.4 157.8 100.4 L161 95"/>
<path d="M170 92 L162.2 103.2 Q161.2 105 163 106 L181.4 116.4 Q183.4 117.4 184.4 115.4 L192.6 101 Q193.4 99.4 191.8 98.4 L186 95"/>
<path d="M290.4 96.5 Q291.5 106 302 112.6 L304.3 109.6 Q295.5 104.5 294.6 96.5" />
<path d="M291.6 100.6 l3.2 -0.8 M293.4 104.4 l2.8 -1.6 M296.6 108 l2.2 -2.4 M300 110.8 l1.6 -2.8" stroke-width="0.4"/>
<path d="M354.6 116 Q353.6 114.4 355.4 113.4 L367 107 Q369 106.4 369.6 108.2 L374 119.4 Q374.4 121 372.6 120.8 L357 118.4 Z"/>
<path d="M368 108.4 L371.6 120.2" stroke-width="0.4"/>
<path d="M427.6 99.6 Q433.8 104 434.6 114.6 L436.8 114 Q436 103 429.4 98" stroke-dasharray="1.4 0.8"/>
<path d="M739.9 258 L785 281.6 M767.7 258 L785 267.6"/>
<path d="M690 209 L683 211.6 Q681.4 212.2 680.8 213.8 L676.4 221 Q675.8 222.6 677.4 223.4 L690 231.6"/>
</g>
<g fill="none" stroke="#a3c073" stroke-width="0.55">
<ellipse cx="219.4" cy="101.8" rx="3.2" ry="1.3" transform="rotate(50 219.4 101.8)"/>
<ellipse cx="215.7" cy="103.7" rx="3.2" ry="1.3" transform="rotate(-29 215.7 103.7)"/>
<ellipse cx="218.2" cy="107.2" rx="3.2" ry="1.3" transform="rotate(74 218.2 107.2)"/>
<ellipse cx="214.1" cy="107.5" rx="3.2" ry="1.3" transform="rotate(-5 214.1 107.5)"/>
<ellipse cx="215.0" cy="111.7" rx="3.2" ry="1.3" transform="rotate(98 215.0 111.7)"/>
<ellipse cx="211.1" cy="110.2" rx="3.2" ry="1.3" transform="rotate(19 211.1 110.2)"/>
<ellipse cx="210.2" cy="114.4" rx="3.2" ry="1.3" transform="rotate(122 210.2 114.4)"/>
<ellipse cx="207.2" cy="111.5" rx="3.2" ry="1.3" transform="rotate(43 207.2 111.5)"/>
<ellipse cx="204.7" cy="115.0" rx="3.2" ry="1.3" transform="rotate(146 204.7 115.0)"/>
<ellipse cx="203.2" cy="111.1" rx="3.2" ry="1.3" transform="rotate(67 203.2 111.1)"/>
<ellipse cx="199.5" cy="113.3" rx="3.2" ry="1.3" transform="rotate(170 199.5 113.3)"/>
<ellipse cx="199.6" cy="109.1" rx="3.2" ry="1.3" transform="rotate(91 199.6 109.1)"/>
<ellipse cx="195.4" cy="109.6" rx="3.2" ry="1.3" transform="rotate(194 195.4 109.6)"/>
<ellipse cx="197.2" cy="105.9" rx="3.2" ry="1.3" transform="rotate(115 197.2 105.9)"/>
<ellipse cx="193.1" cy="104.6" rx="3.2" ry="1.3" transform="rotate(218 193.1 104.6)"/>
<ellipse cx="196.3" cy="101.9" rx="3.2" ry="1.3" transform="rotate(139 196.3 101.9)"/>
<ellipse cx="193.1" cy="99.0" rx="3.2" ry="1.3" transform="rotate(242 193.1 99.0)"/>
<ellipse cx="197.1" cy="97.9" rx="3.2" ry="1.3" transform="rotate(163 197.1 97.9)"/>
<ellipse cx="195.4" cy="94.0" rx="3.2" ry="1.3" transform="rotate(266 195.4 94.0)"/>
<ellipse cx="199.5" cy="94.6" rx="3.2" ry="1.3" transform="rotate(187 199.5 94.6)"/>
<ellipse cx="199.5" cy="90.3" rx="3.2" ry="1.3" transform="rotate(290 199.5 90.3)"/>
<ellipse cx="203.0" cy="92.5" rx="3.2" ry="1.3" transform="rotate(211 203.0 92.5)"/>
<ellipse cx="204.7" cy="88.6" rx="3.2" ry="1.3" transform="rotate(314 204.7 88.6)"/>
<ellipse cx="207.0" cy="92.0" rx="3.2" ry="1.3" transform="rotate(235 207.0 92.0)"/>
<ellipse cx="210.2" cy="89.2" rx="3.2" ry="1.3" transform="rotate(338 210.2 89.2)"/>
<ellipse cx="210.9" cy="93.3" rx="3.2" ry="1.3" transform="rotate(259 210.9 93.3)"/>
<ellipse cx="215.0" cy="91.9" rx="3.2" ry="1.3" transform="rotate(362 215.0 91.9)"/>
<ellipse cx="214.0" cy="96.0" rx="3.2" ry="1.3" transform="rotate(283 214.0 96.0)"/>
<ellipse cx="218.2" cy="96.4" rx="3.2" ry="1.3" transform="rotate(386 218.2 96.4)"/>
<ellipse cx="215.7" cy="99.7" rx="3.2" ry="1.3" transform="rotate(307 215.7 99.7)"/>
</g>
<circle cx="206.1" cy="101.8" r="0.5" fill="#555"/>
<g fill="none" stroke="#a3c073" stroke-width="0.55">
<ellipse cx="281.8" cy="128.2" rx="3.1" ry="1.3" transform="rotate(50 281.8 128.2)"/>
<ellipse cx="278.2" cy="130.1" rx="3.1" ry="1.3" transform="rotate(-29 278.2 130.1)"/>
<ellipse cx="280.7" cy="133.5" rx="3.1" ry="1.3" transform="rotate(74 280.7 133.5)"/>
<ellipse cx="276.6" cy="133.8" rx="3.1" ry="1.3" transform="rotate(-5 276.6 133.8)"/>
<ellipse cx="277.5" cy="137.9" rx="3.1" ry="1.3" transform="rotate(98 277.5 137.9)"/>
<ellipse cx="273.6" cy="136.5" rx="3.1" ry="1.3" transform="rotate(19 273.6 136.5)"/>
<ellipse cx="272.7" cy="140.7" rx="3.1" ry="1.3" transform="rotate(122 272.7 140.7)"/>
<ellipse cx="269.8" cy="137.8" rx="3.1" ry="1.3" transform="rotate(43 269.8 137.8)"/>
<ellipse cx="267.3" cy="141.2" rx="3.1" ry="1.3" transform="rotate(146 267.3 141.2)"/>
<ellipse cx="265.8" cy="137.4" rx="3.1" ry="1.3" transform="rotate(67 265.8 137.4)"/>
<ellipse cx="262.1" cy="139.5" rx="3.1" ry="1.3" transform="rotate(170 262.1 139.5)"/>
<ellipse cx="262.3" cy="135.4" rx="3.1" ry="1.3" transform="rotate(91 262.3 135.4)"/>
<ellipse cx="258.1" cy="135.9" rx="3.1" ry="1.3" transform="rotate(194 258.1 135.9)"/>
<ellipse cx="259.9" cy="132.2" rx="3.1" ry="1.3" transform="rotate(115 259.9 132.2)"/>
<ellipse cx="255.9" cy="130.9" rx="3.1" ry="1.3" transform="rotate(218 255.9 130.9)"/>
<ellipse cx="259.0" cy="128.3" rx="3.1" ry="1.3" transform="rotate(139 259.0 128.3)"/>
<ellipse cx="255.9" cy="125.5" rx="3.1" ry="1.3" transform="rotate(242 255.9 125.5)"/>
<ellipse cx="259.8" cy="124.3" rx="3.1" ry="1.3" transform="rotate(163 259.8 124.3)"/>
<ellipse cx="258.1" cy="120.5" rx="3.1" ry="1.3" transform="rotate(266 258.1 120.5)"/>
<ellipse cx="262.2" cy="121.1" rx="3.1" ry="1.3" transform="rotate(187 262.2 121.1)"/>
<ellipse cx="262.1" cy="116.9" rx="3.1" ry="1.3" transform="rotate(290 262.1 116.9)"/>
<ellipse cx="265.6" cy="119.0" rx="3.1" ry="1.3" transform="rotate(211 265.6 119.0)"/>
<ellipse cx="267.3" cy="115.2" rx="3.1" ry="1.3" transform="rotate(314 267.3 115.2)"/>
<ellipse cx="269.6" cy="118.6" rx="3.1" ry="1.3" transform="rotate(235 269.6 118.6)"/>
<ellipse cx="272.7" cy="115.7" rx="3.1" ry="1.3" transform="rotate(338 272.7 115.7)"/>
<ellipse cx="273.5" cy="119.8" rx="3.1" ry="1.3" transform="rotate(259 273.5 119.8)"/>
<ellipse cx="277.5" cy="118.5" rx="3.1" ry="1.3" transform="rotate(362 277.5 118.5)"/>
<ellipse cx="276.5" cy="122.4" rx="3.1" ry="1.3" transform="rotate(283 276.5 122.4)"/>
<ellipse cx="280.7" cy="122.9" rx="3.1" ry="1.3" transform="rotate(386 280.7 122.9)"/>
<ellipse cx="278.1" cy="126.1" rx="3.1" ry="1.3" transform="rotate(307 278.1 126.1)"/>
</g>
<circle cx="268.7" cy="128.2" r="0.5" fill="#555"/>
<path d="M472.4 96 L475 100.6 L477.6 97.6 L479.4 101.4 L481.8 97.8 L484 100.4 L486.2 96 Z" fill="#7fa650"/>
<path d="M286.6 95.0 L276.2 113.4 L434.8 131.2 L440.6 99.6 L421.0 96.6" fill="none" stroke="#a3c073" stroke-width="2.35" stroke-linejoin="miter"/>
<path d="M286.6 95.0 L276.2 113.4 L434.8 131.2 L440.6 99.6 L421.0 96.6" fill="none" stroke="#ababab" stroke-width="1.3499999999999999" stroke-linejoin="miter"/>
<path d="M369.6 96 L346.4 120.6 M367.2 96 L344 120.2" fill="none" stroke="#8fa868" stroke-width="0.7"/>
<path d="M368.4 96 L345.2 120.4" fill="none" stroke="#dfe8cf" stroke-width="1.4"/>
<path d="M493.6 95.2 A155.5 155.5 0 0 0 673.9 203.0" fill="none" stroke="#a9bd8c" stroke-width="1.8"/>
<path d="M493.6 95.2 A155.5 155.5 0 0 0 673.9 203.0" fill="none" stroke="#a8a9a4" stroke-width="0.9"/>
<path d="M688.6 178.4 L666.4 225.2 L664.6 223.6 L686.6 177.4 Z" fill="#b2b2b2" stroke="#a3c073" stroke-width="0.5"/>
<path d="M54 361 L103.4 354.8 L112.4 510 L54 510 Z" fill="#f5f8f0"/>
<path d="M103.5 355 L106.2 400 L112.4 510" fill="none" stroke="#a3c073" stroke-width="0.6"/>
<path d="M53.0 360.9 L171.4 345.8" fill="none" stroke="#a3c073" stroke-width="1.8499999999999999" stroke-linejoin="miter"/>
<path d="M53.0 360.9 L171.4 345.8" fill="none" stroke="#ababab" stroke-width="0.8499999999999999" stroke-linejoin="miter"/>
<g fill="none" stroke="#a3c073" stroke-width="0.6">
<path d="M54 397.4 Q59.6 396.2 63.4 391.9"/>
<path d="M54 403.8 Q62.2 401.9 67.8 395.6"/>
<path d="M54 411.6 Q65.1 408.3 72.3 399.2"/>
<path d="M54 420.4 Q68.1 415.4 76.7 403.2"/>
<path d="M54 428.6 Q71.0 422.3 81.2 407.2"/>
<path d="M54 437.4 Q73.4 428.6 84.0 410.2"/>
<path d="M54 383.4 L84.4 410.4 M54 385.6 L83 411.6" stroke-width="0.7"/>
</g>
<g fill="none" stroke="#8fa868" stroke-width="0.5">
<path d="M78.2 379.2 L88.7 380.4"/>
<path d="M79.1 379.8 L87.9 381.9"/>
<path d="M79.8 380.5 L86.3 382.9"/>
<path d="M80.3 381.4 L84.5 383.7"/>
<path d="M80.6 382.3 L83.2 384.4"/>
<path d="M80.5 383.1 L82.8 385.5"/>
<path d="M80.2 383.9 L83.0 387.2"/>
<path d="M79.6 384.5 L83.2 389.2"/>
<path d="M78.7 384.8 L82.7 391.0"/>
<path d="M77.8 384.8 L81.5 391.9"/>
<path d="M76.8 384.6 L79.7 391.8"/>
<path d="M75.9 384.1 L77.8 391.0"/>
<path d="M75.1 383.5 L76.3 390.1"/>
<path d="M74.8 384.5 L75.1 389.9"/>
<path d="M74.4 385.4 L74.0 390.7"/>
<path d="M73.7 386.2 L72.7 392.1"/>
<path d="M72.9 386.7 L71.1 393.3"/>
<path d="M72.1 386.9 L69.4 393.6"/>
<path d="M71.2 386.8 L68.1 392.7"/>
<path d="M70.5 386.4 L67.3 390.9"/>
<path d="M69.9 385.7 L67.0 389.0"/>
<path d="M69.6 384.8 L66.6 387.5"/>
<path d="M69.5 383.8 L65.7 386.7"/>
<path d="M69.7 382.8 L64.1 386.5"/>
<path d="M70.1 381.8 L62.1 386.3"/>
<path d="M69.0 381.9 L60.4 385.5"/>
<path d="M68.0 381.7 L59.6 384.2"/>
<path d="M67.1 381.4 L60.0 382.5"/>
<path d="M66.3 380.8 L61.1 380.8"/>
<path d="M65.9 380.0 L62.4 379.5"/>
<path d="M65.7 379.2 L62.9 378.3"/>
<path d="M65.9 378.4 L62.6 377.1"/>
<path d="M66.3 377.6 L61.5 375.6"/>
<path d="M67.1 377.0 L60.6 373.8"/>
<path d="M68.0 376.7 L60.6 372.0"/>
<path d="M69.0 376.5 L61.6 370.8"/>
<path d="M70.1 376.6 L63.4 370.4"/>
<path d="M69.7 375.6 L65.4 370.5"/>
<path d="M69.5 374.6 L67.0 370.5"/>
<path d="M69.6 373.6 L68.0 369.9"/>
<path d="M69.9 372.7 L68.6 368.5"/>
<path d="M70.5 372.0 L69.3 366.6"/>
<path d="M71.2 371.6 L70.3 365.0"/>
<path d="M72.1 371.5 L71.8 364.3"/>
<path d="M72.9 371.7 L73.3 364.9"/>
<path d="M73.7 372.2 L74.7 366.3"/>
<path d="M74.4 373.0 L75.8 367.9"/>
<path d="M74.8 373.9 L76.8 368.8"/>
<path d="M75.1 374.9 L78.0 368.9"/>
<path d="M75.9 374.3 L79.7 368.3"/>
<path d="M76.8 373.8 L81.6 367.7"/>
<path d="M77.8 373.6 L83.4 367.9"/>
<path d="M78.7 373.6 L84.5 369.0"/>
<path d="M79.6 373.9 L84.6 370.8"/>
<path d="M80.2 374.5 L84.2 372.8"/>
<path d="M80.5 375.3 L83.7 374.4"/>
<path d="M80.6 376.1 L83.9 375.6"/>
<path d="M80.3 377.0 L85.0 376.5"/>
<path d="M79.8 377.9 L86.7 377.5"/>
<path d="M79.1 378.6 L88.2 378.8"/>
<circle cx="73.7" cy="379.2" r="14.0" stroke-width="0.4" stroke-dasharray="2 1.2"/>
</g>
<ellipse cx="79.0" cy="376.3" rx="4.6" ry="1.9" transform="rotate(-29 79.0 376.3)" fill="#fff" stroke="#8fa868" stroke-width="0.4"/>
<ellipse cx="78.1" cy="383.3" rx="4.6" ry="1.9" transform="rotate(43 78.1 383.3)" fill="#fff" stroke="#8fa868" stroke-width="0.4"/>
<ellipse cx="71.1" cy="384.6" rx="4.6" ry="1.9" transform="rotate(115 71.1 384.6)" fill="#fff" stroke="#8fa868" stroke-width="0.4"/>
<ellipse cx="67.7" cy="378.4" rx="4.6" ry="1.9" transform="rotate(187 67.7 378.4)" fill="#fff" stroke="#8fa868" stroke-width="0.4"/>
<ellipse cx="72.6" cy="373.3" rx="4.6" ry="1.9" transform="rotate(259 72.6 373.3)" fill="#fff" stroke="#8fa868" stroke-width="0.4"/>
<circle cx="73.7" cy="379.2" r="0.5" fill="#555"/>
<g fill="none" stroke="#a3c073" stroke-width="0.5">
<path d="M107.0 379.4 L113.4 379.4"/>
<path d="M106.8 381.3 L109.7 382.0"/>
<path d="M106.1 383.1 L108.7 384.5"/>
<path d="M105.0 384.7 L108.9 388.2"/>
<path d="M103.5 386.0 L105.2 388.5"/>
<path d="M101.8 386.9 L103.3 390.8"/>
<path d="M100.0 387.3 L100.6 392.5"/>
<path d="M98.0 387.3 L97.7 390.3"/>
<path d="M96.2 386.9 L95.1 389.7"/>
<path d="M94.5 386.0 L91.5 390.3"/>
<path d="M93.0 384.7 L89.9 387.5"/>
<path d="M91.9 383.1 L89.3 384.5"/>
<path d="M91.2 381.3 L86.2 382.6"/>
<path d="M91.0 379.4 L88.0 379.4"/>
<path d="M91.2 377.5 L88.3 376.8"/>
<path d="M91.9 375.7 L86.2 372.7"/>
<path d="M93.0 374.1 L90.8 372.1"/>
<path d="M94.5 372.8 L92.8 370.3"/>
<path d="M96.2 371.9 L94.3 367.1"/>
<path d="M98.0 371.5 L97.7 368.5"/>
<path d="M100.0 371.5 L100.5 367.3"/>
<path d="M101.8 371.9 L103.7 367.1"/>
<path d="M103.5 372.8 L105.2 370.3"/>
<path d="M105.0 374.1 L107.2 372.1"/>
<path d="M106.1 375.7 L110.7 373.3"/>
<path d="M106.8 377.5 L110.8 376.5"/>
</g>
<circle cx="99.0" cy="379.4" r="8" fill="#fff" stroke="#a3c073" stroke-width="0.6"/>
<circle cx="97.6" cy="363.6" r="0.45" fill="#555"/>
<circle cx="123.6" cy="368.8" r="15.1" fill="#fff" stroke="#a3c073" stroke-width="0.6"/>
<circle cx="123.6" cy="368.8" r="13" fill="none" stroke="#a3c073" stroke-width="3.6" stroke-dasharray="0.5 2.22"/>
<circle cx="123.6" cy="368.8" r="10.9" fill="#fff" stroke="#a3c073" stroke-width="0.6"/>
<circle cx="123.6" cy="368.8" r="0.5" fill="#555"/>
<circle cx="97.3" cy="414.2" r="15.1" fill="#f5f8f0" stroke="#a3c073" stroke-width="0.6"/>
<g fill="none" stroke="#a3c073" stroke-width="0.5">
<path d="M97.3 414.2 Q104.8 417.8 112.1 414.2"/>
<path d="M97.3 414.2 Q103.1 420.2 111.2 419.3"/>
<path d="M97.3 414.2 Q100.7 421.8 108.6 423.7"/>
<path d="M97.3 414.2 Q97.9 422.5 104.7 427.0"/>
<path d="M97.3 414.2 Q95.0 422.2 99.9 428.8"/>
<path d="M97.3 414.2 Q92.4 420.9 94.7 428.8"/>
<path d="M97.3 414.2 Q90.4 418.9 89.9 427.0"/>
<path d="M97.3 414.2 Q89.2 416.2 86.0 423.7"/>
<path d="M97.3 414.2 Q89.0 413.4 83.4 419.3"/>
<path d="M97.3 414.2 Q89.8 410.6 82.5 414.2"/>
<path d="M97.3 414.2 Q91.5 408.2 83.4 409.1"/>
<path d="M97.3 414.2 Q93.9 406.6 86.0 404.7"/>
<path d="M97.3 414.2 Q96.7 405.9 89.9 401.4"/>
<path d="M97.3 414.2 Q99.6 406.2 94.7 399.6"/>
<path d="M97.3 414.2 Q102.2 407.5 99.9 399.6"/>
<path d="M97.3 414.2 Q104.2 409.5 104.7 401.4"/>
<path d="M97.3 414.2 Q105.4 412.2 108.6 404.7"/>
<path d="M97.3 414.2 Q105.6 415.0 111.2 409.1"/>
</g>
<circle cx="86.5" cy="403.4" r="0.55" fill="#333"/>
<circle cx="92.1" cy="399.8" r="0.55" fill="#333"/>
<circle cx="102.5" cy="399.8" r="0.55" fill="#333"/>
<circle cx="104.5" cy="400.7" r="0.55" fill="#333"/>
<circle cx="112.5" cy="415.5" r="0.55" fill="#333"/>
<circle cx="103.8" cy="428.1" r="0.55" fill="#333"/>
<circle cx="101.3" cy="429.0" r="0.55" fill="#333"/>
<circle cx="87.5" cy="425.9" r="0.55" fill="#333"/>
<circle cx="83.4" cy="407.7" r="0.55" fill="#333"/>
<path d="M136.1 383.0 L196.7 322.0" fill="none" stroke="#98b866" stroke-width="0.5"/>
<path d="M137.0 383.9 L197.6 322.9" fill="none" stroke="#98b866" stroke-width="0.5"/>
<path d="M152.9 399.7 L213.5 338.7" fill="none" stroke="#98b866" stroke-width="0.5"/>
<path d="M153.8 400.6 L214.4 339.6" fill="none" stroke="#98b866" stroke-width="0.5"/>
<path d="M135.1 387.7 L200.6 321.7 L214.7 335.7 L149.1 401.7 Z" fill="#fff" stroke="#a3c073" stroke-width="0.6"/>
<path d="M149.9 372.8 L163.9 386.8" fill="none" stroke="#98b866" stroke-width="0.5"/>
<path d="M185.8 336.6 L199.9 350.6" fill="none" stroke="#98b866" stroke-width="0.5"/>
<path d="M151.3 374.2 L187.3 338.0" fill="none" stroke="#98b866" stroke-width="0.45"/>
<path d="M162.5 385.3 L198.5 349.2" fill="none" stroke="#98b866" stroke-width="0.45"/>
<path d="M155.1 377.9 L191.0 341.7" fill="none" stroke="#98b866" stroke-width="0.45"/>
<path d="M158.8 381.6 L194.7 345.4" fill="none" stroke="#98b866" stroke-width="0.45"/>
<path d="M155.3 370.2 L166.5 381.4" fill="none" stroke="#98b866" stroke-width="0.45"/>
<path d="M159.2 366.3 L170.4 377.4" fill="none" stroke="#98b866" stroke-width="0.45"/>
<path d="M163.2 362.3 L174.4 373.4" fill="none" stroke="#98b866" stroke-width="0.45"/>
<path d="M167.1 358.3 L178.3 369.4" fill="none" stroke="#98b866" stroke-width="0.45"/>
<path d="M171.0 354.3 L182.3 365.5" fill="none" stroke="#98b866" stroke-width="0.45"/>
<path d="M175.0 350.4 L186.2 361.5" fill="none" stroke="#98b866" stroke-width="0.45"/>
<path d="M178.9 346.4 L190.1 357.5" fill="none" stroke="#98b866" stroke-width="0.45"/>
<path d="M182.9 342.4 L194.1 353.6" fill="none" stroke="#98b866" stroke-width="0.45"/>
<path d="M156.2 400.4 L222.1 334.1" fill="none" stroke="#98b866" stroke-width="0.5"/>
<path d="M157.1 401.3 L223.0 335.0" fill="none" stroke="#98b866" stroke-width="0.5"/>
<path d="M173.3 417.4 L239.2 351.1" fill="none" stroke="#98b866" stroke-width="0.5"/>
<path d="M174.2 418.3 L240.1 352.0" fill="none" stroke="#98b866" stroke-width="0.5"/>
<path d="M155.2 405.1 L226.0 333.8 L240.3 348.0 L169.5 419.3 Z" fill="#fff" stroke="#a3c073" stroke-width="0.6"/>
<path d="M170.0 390.2 L184.3 404.4" fill="none" stroke="#98b866" stroke-width="0.5"/>
<path d="M211.2 348.7 L225.6 362.9" fill="none" stroke="#98b866" stroke-width="0.5"/>
<path d="M171.4 391.6 L212.6 350.1" fill="none" stroke="#98b866" stroke-width="0.45"/>
<path d="M182.9 403.0 L224.1 361.5" fill="none" stroke="#98b866" stroke-width="0.45"/>
<path d="M175.2 395.4 L216.5 353.9" fill="none" stroke="#98b866" stroke-width="0.45"/>
<path d="M179.1 399.2 L220.3 357.7" fill="none" stroke="#98b866" stroke-width="0.45"/>
<path d="M175.4 387.6 L186.9 399.0" fill="none" stroke="#98b866" stroke-width="0.45"/>
<path d="M179.3 383.7 L190.8 395.1" fill="none" stroke="#98b866" stroke-width="0.45"/>
<path d="M183.3 379.7 L194.7 391.1" fill="none" stroke="#98b866" stroke-width="0.45"/>
<path d="M187.2 375.7 L198.7 387.1" fill="none" stroke="#98b866" stroke-width="0.45"/>
<path d="M191.1 371.7 L202.6 383.2" fill="none" stroke="#98b866" stroke-width="0.45"/>
<path d="M195.1 367.8 L206.6 379.2" fill="none" stroke="#98b866" stroke-width="0.45"/>
<path d="M199.0 363.8 L210.5 375.2" fill="none" stroke="#98b866" stroke-width="0.45"/>
<path d="M203.0 359.8 L214.5 371.2" fill="none" stroke="#98b866" stroke-width="0.45"/>
<path d="M206.9 355.8 L218.4 367.3" fill="none" stroke="#98b866" stroke-width="0.45"/>
<path d="M210.9 351.9 L222.4 363.3" fill="none" stroke="#98b866" stroke-width="0.45"/>
<text x="191.6" y="340.4" font-size="2.2" fill="#555" transform="rotate(-45 191.6 340.4)">up</text>
<text x="166.4" y="403.4" font-size="2.2" fill="#555" transform="rotate(-45 166.4 403.4)">up</text>
<path d="M230.7 361.2 L242.5 351.7 L328.1 473.1 L316.2 482.8" fill="none" stroke="#a3c073" stroke-width="0.6"/>
<path d="M230.7 362.4 L315.5 484.4 L611.4 484.4" fill="none" stroke="#a3c073" stroke-width="2.2" stroke-linejoin="miter"/>
<path d="M230.7 362.4 L315.5 484.4 L611.4 484.4" fill="none" stroke="#ababab" stroke-width="1.2" stroke-linejoin="miter"/>
<g fill="none" stroke="#a3c073" stroke-width="0.6">
<path d="M348.2 484 V470.6 H352.6 C358 458 370 451.8 384.4 451.8 C398.8 451.8 410.8 458 416 469.8 H541 C546 458 558 451.6 572.8 451.6 C587.6 451.6 600 458 605.4 469 L608.6 470.4 V484"/>
<rect x="623.5" y="453.7" width="175" height="12.8" rx="1.4"/>
<circle cx="635.8" cy="476.2" r="6.4"/>
<circle cx="630.2" cy="470.6" r="0.8" stroke-width="0.4"/>
<circle cx="641.4" cy="470.6" r="0.8" stroke-width="0.4"/>
<circle cx="630.2" cy="481.8" r="0.8" stroke-width="0.4"/>
<circle cx="641.4" cy="481.8" r="0.8" stroke-width="0.4"/>
<circle cx="658.5" cy="476.2" r="6.4"/>
<circle cx="652.9" cy="470.6" r="0.8" stroke-width="0.4"/>
<circle cx="664.1" cy="470.6" r="0.8" stroke-width="0.4"/>
<circle cx="652.9" cy="481.8" r="0.8" stroke-width="0.4"/>
<circle cx="664.1" cy="481.8" r="0.8" stroke-width="0.4"/>
<circle cx="698.7" cy="476.2" r="6.4"/>
<circle cx="693.1" cy="470.6" r="0.8" stroke-width="0.4"/>
<circle cx="704.3" cy="470.6" r="0.8" stroke-width="0.4"/>
<circle cx="693.1" cy="481.8" r="0.8" stroke-width="0.4"/>
<circle cx="704.3" cy="481.8" r="0.8" stroke-width="0.4"/>
<circle cx="723.8" cy="476.2" r="6.4"/>
<circle cx="718.2" cy="470.6" r="0.8" stroke-width="0.4"/>
<circle cx="729.4" cy="470.6" r="0.8" stroke-width="0.4"/>
<circle cx="718.2" cy="481.8" r="0.8" stroke-width="0.4"/>
<circle cx="729.4" cy="481.8" r="0.8" stroke-width="0.4"/>
<circle cx="768.1" cy="476.2" r="6.4"/>
<circle cx="762.5" cy="470.6" r="0.8" stroke-width="0.4"/>
<circle cx="773.7" cy="470.6" r="0.8" stroke-width="0.4"/>
<circle cx="762.5" cy="481.8" r="0.8" stroke-width="0.4"/>
<circle cx="773.7" cy="481.8" r="0.8" stroke-width="0.4"/>
</g>
<path d="M610.9 447.6 H613.8 V495 H800 V498 H610.9 Z" fill="#a8a8a8" stroke="#8fa868" stroke-width="0.5"/>
<path d="M154.8 194.8 L163.5 197.0 L154.6 197.8 L162.9 201.2 L153.9 200.8M144.0 223.1 L139.4 215.3 L139.8 224.3 L136.4 216.0 L135.6 224.9 L133.4 216.2 L131.2 224.9M115.4 206.4 L106.9 209.3 L113.9 203.7 L105.1 205.4 L112.9 200.8 L103.9 201.2 L112.2 197.8 L103.3 197.0 L112.0 194.8 L103.3 192.6" fill="none" stroke="#1c1c1c" stroke-width="0.52" stroke-linejoin="round"/>
<path d="M134.6 173.4 L135.8 166.4M137.7 173.8 L139.9 167.0M140.6 174.6 L143.7 168.2M143.4 175.8 L147.4 169.9M146.0 177.5 L150.8 172.2M148.4 179.4 L153.9 174.9M150.4 181.7 L156.5 178.0M152.1 184.3 L158.6 181.5M153.4 187.0 L160.3 185.2M154.3 189.9 L161.4 189.1M154.8 193.0 L161.9 193.2M153.6 202.0 L160.0 205.1M152.4 204.8 L158.3 208.8M150.7 207.4 L156.0 212.2M148.8 209.8 L153.3 215.3M146.5 211.8 L150.2 217.9M143.9 213.5 L146.7 220.0M129.1 215.8 L126.9 222.6M126.2 215.0 L123.1 221.4M123.4 213.8 L119.4 219.7M120.8 212.1 L116.0 217.4M118.4 210.2 L112.9 214.7M116.4 207.9 L110.3 211.6M112.4 190.5 L105.6 188.3M113.2 187.6 L106.8 184.5M114.4 184.8 L108.5 180.8M116.1 182.2 L110.8 177.4M118.0 179.8 L113.5 174.3M120.3 177.8 L116.6 171.7M122.9 176.1 L120.1 169.6M125.6 174.8 L123.8 167.9M128.5 173.9 L127.7 166.8M131.6 173.4 L131.8 166.3" fill="none" stroke="#27a6e2" stroke-width="3.7" stroke-linecap="round"/>
<path d="M136.1 174.8 L137.4 168.3M138.9 175.4 L141.1 169.1M141.6 176.3 L144.7 170.5M144.1 177.7 L148.0 172.4M146.5 179.4 L151.1 174.7M148.5 181.4 L153.8 177.4M150.3 183.7 L156.0 180.5M151.7 186.2 L157.9 183.8M152.7 188.9 L159.2 187.4M153.4 191.7 L160.0 191.2M153.6 194.6 L160.2 195.0M151.9 203.0 L157.7 206.1M150.5 205.5 L155.8 209.4M148.8 207.9 L153.5 212.5M146.8 209.9 L150.8 215.2M144.5 211.7 L147.7 217.4M142.0 213.1 L144.4 219.3M127.9 214.2 L125.7 220.5M125.2 213.3 L122.1 219.1M122.7 211.9 L118.8 217.2M120.3 210.2 L115.7 214.9M118.3 208.2 L113.0 212.2M116.5 205.9 L110.8 209.1M114.0 189.3 L107.7 187.1M114.9 186.6 L109.1 183.5M116.3 184.1 L111.0 180.2M118.0 181.7 L113.3 177.1M120.0 179.7 L116.0 174.4M122.3 177.9 L119.1 172.2M124.8 176.5 L122.4 170.3M127.5 175.5 L126.0 169.0M130.3 174.8 L129.8 168.2M133.2 174.6 L133.6 168.0" fill="none" stroke="#1a86c0" stroke-width="0.5" stroke-opacity="0.55"/>
<path d="M134.6 172.8 L135.6 166.8M137.7 173.2 L139.6 167.4M140.8 174.1 L143.4 168.6M143.6 175.3 L147.1 170.3M146.3 177.0 L150.4 172.5M148.7 179.0 L153.4 175.1M150.8 181.3 L156.0 178.2M152.5 184.0 L158.2 181.5M153.9 186.8 L159.8 185.2M154.8 189.8 L160.9 189.1M155.3 192.9 L161.4 193.0M154.1 202.2 L159.6 204.8M152.9 205.0 L157.9 208.5M151.2 207.7 L155.7 211.8M149.2 210.1 L153.1 214.8M146.9 212.2 L150.0 217.4M144.2 213.9 L146.7 219.6M129.1 216.4 L127.2 222.2M126.0 215.5 L123.4 221.0M123.2 214.3 L119.7 219.3M120.5 212.6 L116.4 217.1M118.1 210.6 L113.4 214.5M116.0 208.3 L110.8 211.4M111.8 190.5 L106.0 188.6M112.7 187.4 L107.2 184.8M113.9 184.6 L108.9 181.1M115.6 181.9 L111.1 177.8M117.6 179.5 L113.7 174.8M119.9 177.4 L116.8 172.2M122.6 175.7 L120.1 170.0M125.4 174.3 L123.8 168.4M128.4 173.4 L127.7 167.3M131.5 172.9 L131.6 166.8" fill="none" stroke="#8edaf9" stroke-width="1.9" stroke-opacity="0.42" stroke-linecap="round"/>
<path d="M133.4 173.4 L135.6 164.7 L136.4 173.6 L139.8 165.3 L139.4 174.3 L144.0 166.5 L142.3 175.3 L147.9 168.3 L145.0 176.8 L151.5 170.6 L147.4 178.6 L154.8 173.4 L149.6 180.8 L157.6 176.7 L151.4 183.2 L159.9 180.3 L152.9 185.9 L161.7 184.2 L153.9 188.8 L162.9 188.4 L154.6 191.8 L163.5 192.6M161.7 205.4 L152.9 203.7 L159.9 209.3 L151.4 206.4 L157.6 212.9 L149.6 208.8 L154.8 216.2 L147.4 211.0 L151.5 219.0 L145.0 212.8 L147.9 221.3 L142.3 214.3M130.4 216.0 L127.0 224.3 L127.4 215.3 L122.8 223.1 L124.5 214.3 L118.9 221.3 L121.8 212.8 L115.3 219.0 L119.4 211.0 L112.0 216.2 L117.2 208.8 L109.2 212.9M112.2 191.8 L103.9 188.4 L112.9 188.8 L105.1 184.2 L113.9 185.9 L106.9 180.3 L115.4 183.2 L109.2 176.7 L117.2 180.8 L112.0 173.4 L119.4 178.6 L115.3 170.6 L121.8 176.8 L118.9 168.3 L124.5 175.3 L122.8 166.5 L127.4 174.3 L127.0 165.3 L130.4 173.6 L131.2 164.7 L133.4 173.4" fill="none" stroke="#1a1a2a" stroke-width="0.45" stroke-opacity="0.12" stroke-linejoin="round"/>
<path d="M134.5 175.3 h0.6M137.2 175.7 h0.6M139.9 176.5 h0.6M142.4 177.7 h0.6M144.8 179.2 h0.6M146.9 181.0 h0.6M148.7 183.1 h0.6M150.2 185.5 h0.6M151.4 188.0 h0.6M152.2 190.7 h0.6M152.6 193.4 h0.6M151.4 201.6 h0.6M150.2 204.1 h0.6M148.7 206.5 h0.6M146.9 208.6 h0.6M144.8 210.4 h0.6M142.4 211.9 h0.6M129.0 213.9 h0.6M126.3 213.1 h0.6M123.8 211.9 h0.6M121.4 210.4 h0.6M119.3 208.6 h0.6M117.5 206.5 h0.6M114.0 190.7 h0.6M114.8 188.0 h0.6M116.0 185.5 h0.6M117.5 183.1 h0.6M119.3 181.0 h0.6M121.4 179.2 h0.6M123.8 177.7 h0.6M126.3 176.5 h0.6M129.0 175.7 h0.6M131.7 175.3 h0.6" stroke="#8a5a48" stroke-width="0.5" stroke-opacity="0.7"/>
<path d="M133.4 175.60000000000002 V180.4 M133.4 209.20000000000002 V214.0 M114.2 194.8 H119.0 M147.8 194.8 H152.6" stroke="#c9c9c9" stroke-width="0.5"/>
<text x="121.4" y="183.7" font-size="2.8" fill="#777" text-anchor="middle">XL</text>
<text x="145.4" y="183.7" font-size="2.8" fill="#777" text-anchor="middle">L</text>
<text x="145.4" y="207.7" font-size="2.8" fill="#777" text-anchor="middle">M</text>
<text x="121.4" y="207.7" font-size="2.8" fill="#777" text-anchor="middle">S</text>
<circle cx="133.4" cy="194.8" r="13.9" fill="#2fb4ee"/>
<path d="M226.4 207.1 L234.7 210.5M208.2 225.3 L207.4 234.2 L205.2 225.5 L203.0 234.2 L202.2 225.3M184.7 210.1 L175.7 210.5 L184.0 207.1M176.9 193.5 L185.7 195.2 L178.7 189.6 L187.2 192.5 L181.0 186.0 L189.0 190.1 L183.8 182.7 L191.2 187.9 L187.1 179.9 L193.6 186.1 L190.7 177.6 L196.3 184.6 L194.6 175.8 L199.2 183.6 L198.8 174.6 L202.2 182.9 L203.0 174.0" fill="none" stroke="#1c1c1c" stroke-width="0.52" stroke-linejoin="round"/>
<path d="M206.4 182.7 L207.6 175.7M209.5 183.1 L211.7 176.3M212.4 183.9 L215.5 177.5M215.2 185.1 L219.2 179.2M217.8 186.8 L222.6 181.5M220.2 188.7 L225.7 184.2M222.2 191.0 L228.3 187.3M223.9 193.6 L230.4 190.8M225.2 196.3 L232.1 194.5M226.1 199.2 L233.2 198.4M226.6 202.3 L233.7 202.5M226.6 205.3 L233.6 206.5M225.4 211.3 L231.8 214.4M224.2 214.1 L230.1 218.1M222.5 216.7 L227.8 221.5M220.6 219.1 L225.1 224.6M218.3 221.1 L222.0 227.2M215.7 222.8 L218.5 229.3M213.0 224.1 L214.8 231.0M210.1 225.0 L210.9 232.1M200.9 225.1 L198.7 231.9M198.0 224.3 L194.9 230.7M195.2 223.1 L191.2 229.0M192.6 221.4 L187.8 226.7M190.2 219.5 L184.7 224.0M188.2 217.2 L182.1 220.9M186.5 214.6 L180.0 217.4M185.2 211.9 L178.3 213.7M183.8 205.9 L176.7 205.7M183.8 202.9 L176.8 201.7M184.2 199.8 L177.4 197.6" fill="none" stroke="#ee1c25" stroke-width="3.7" stroke-linecap="round"/>
<path d="M207.9 184.1 L209.2 177.6M210.7 184.7 L212.9 178.4M213.4 185.6 L216.5 179.8M215.9 187.0 L219.8 181.7M218.3 188.7 L222.9 184.0M220.3 190.7 L225.6 186.7M222.1 193.0 L227.8 189.8M223.5 195.5 L229.7 193.1M224.5 198.2 L231.0 196.7M225.2 201.0 L231.8 200.5M225.4 203.9 L232.0 204.3M225.2 206.8 L231.7 208.1M223.7 212.3 L229.5 215.4M222.3 214.8 L227.6 218.7M220.6 217.2 L225.3 221.8M218.6 219.2 L222.6 224.5M216.3 221.0 L219.5 226.7M213.8 222.4 L216.2 228.6M211.1 223.4 L212.6 229.9M208.3 224.1 L208.8 230.7M199.7 223.5 L197.5 229.8M197.0 222.6 L193.9 228.4M194.5 221.2 L190.6 226.5M192.1 219.5 L187.5 224.2M190.1 217.5 L184.8 221.5M188.3 215.2 L182.6 218.4M186.9 212.7 L180.7 215.1M185.9 210.0 L179.4 211.5M185.0 204.3 L178.4 203.9M185.2 201.4 L178.7 200.1M185.8 198.6 L179.5 196.4" fill="none" stroke="#b80f17" stroke-width="0.5" stroke-opacity="0.55"/>
<path d="M206.4 182.1 L207.4 176.1M209.5 182.5 L211.4 176.7M212.6 183.4 L215.2 177.9M215.4 184.6 L218.9 179.6M218.1 186.3 L222.2 181.8M220.5 188.3 L225.2 184.4M222.6 190.6 L227.8 187.5M224.3 193.3 L230.0 190.8M225.7 196.1 L231.6 194.5M226.6 199.1 L232.7 198.4M227.1 202.2 L233.2 202.3M227.2 205.3 L233.2 206.3M225.9 211.5 L231.4 214.1M224.7 214.3 L229.7 217.8M223.0 217.0 L227.5 221.1M221.0 219.4 L224.9 224.1M218.7 221.5 L221.8 226.7M216.0 223.2 L218.5 228.9M213.2 224.6 L214.8 230.5M210.2 225.5 L210.9 231.6M200.9 225.7 L199.0 231.5M197.8 224.8 L195.2 230.3M195.0 223.6 L191.5 228.6M192.3 221.9 L188.2 226.4M189.9 219.9 L185.2 223.8M187.8 217.6 L182.6 220.7M186.1 214.9 L180.4 217.4M184.7 212.1 L178.8 213.7M183.3 206.0 L177.2 205.9M183.2 202.9 L177.2 201.9M183.6 199.8 L177.8 197.9" fill="none" stroke="#ff8488" stroke-width="1.9" stroke-opacity="0.42" stroke-linecap="round"/>
<path d="M205.2 182.7 L207.4 174.0 L208.2 182.9 L211.6 174.6 L211.2 183.6 L215.8 175.8 L214.1 184.6 L219.7 177.6 L216.8 186.1 L223.3 179.9 L219.2 187.9 L226.6 182.7 L221.4 190.1 L229.4 186.0 L223.2 192.5 L231.7 189.6 L224.7 195.2 L233.5 193.5 L225.7 198.1 L234.7 197.7 L226.4 201.1 L235.3 201.9 L226.6 204.1 L235.3 206.3M225.7 210.1 L233.5 214.7 L224.7 213.0 L231.7 218.6 L223.2 215.7 L229.4 222.2 L221.4 218.1 L226.6 225.5 L219.2 220.3 L223.3 228.3 L216.8 222.1 L219.7 230.6 L214.1 223.6 L215.8 232.4 L211.2 224.6 L211.6 233.6M198.8 233.6 L199.2 224.6 L194.6 232.4 L196.3 223.6 L190.7 230.6 L193.6 222.1 L187.1 228.3 L191.2 220.3 L183.8 225.5 L189.0 218.1 L181.0 222.2 L187.2 215.7 L178.7 218.6 L185.7 213.0 L176.9 214.7M175.1 206.3 L183.8 204.1 L175.1 201.9 L184.0 201.1 L175.7 197.7 L184.7 198.1" fill="none" stroke="#1a1a2a" stroke-width="0.45" stroke-opacity="0.16" stroke-linejoin="round"/>
<path d="M206.3 184.6 h0.6M209.0 185.0 h0.6M211.7 185.8 h0.6M214.2 187.0 h0.6M216.6 188.5 h0.6M218.7 190.3 h0.6M220.5 192.4 h0.6M222.0 194.8 h0.6M223.2 197.3 h0.6M224.0 200.0 h0.6M224.4 202.7 h0.6M224.4 205.5 h0.6M223.2 210.9 h0.6M222.0 213.4 h0.6M220.5 215.8 h0.6M218.7 217.9 h0.6M216.6 219.7 h0.6M214.2 221.2 h0.6M211.7 222.4 h0.6M209.0 223.2 h0.6M200.8 223.2 h0.6M198.1 222.4 h0.6M195.6 221.2 h0.6M193.2 219.7 h0.6M191.1 217.9 h0.6M189.3 215.8 h0.6M187.8 213.4 h0.6M186.6 210.9 h0.6M185.4 205.5 h0.6M185.4 202.7 h0.6M185.8 200.0 h0.6" stroke="#8a5a48" stroke-width="0.5" stroke-opacity="0.7"/>
<path d="M205.2 184.9 V189.7 M205.2 218.5 V223.29999999999998 M186.0 204.1 H190.79999999999998 M219.6 204.1 H224.39999999999998" stroke="#c9c9c9" stroke-width="0.5"/>
<text x="193.2" y="193.0" font-size="2.8" fill="#777" text-anchor="middle">XL</text>
<text x="217.2" y="193.0" font-size="2.8" fill="#777" text-anchor="middle">L</text>
<text x="217.2" y="217.0" font-size="2.8" fill="#777" text-anchor="middle">M</text>
<text x="193.2" y="217.0" font-size="2.8" fill="#777" text-anchor="middle">S</text>
<circle cx="205.2" cy="204.1" r="13.9" fill="#f5262e"/>
<text x="196.10" y="203.70" font-size="4.4" fill="#fff" font-weight="bold" textLength="18.20" lengthAdjust="spacingAndGlyphs" stroke="#fff" stroke-width="0.22">NEED TO</text>
<text x="196.10" y="209.00" font-size="4.4" fill="#fff" font-weight="bold" textLength="18.20" lengthAdjust="spacingAndGlyphs" stroke="#fff" stroke-width="0.22">RESTOCK</text>
<path d="M275.6 251.1 L267.3 254.5 L276.2 255.3 L267.5 257.5 L276.2 259.7M237.2 238.0 L235.5 229.2 L240.1 237.0 L239.7 228.0 L243.1 236.3 L243.9 227.4 L246.1 236.1" fill="none" stroke="#1c1c1c" stroke-width="0.52" stroke-linejoin="round"/>
<path d="M247.3 236.1 L248.5 229.1M250.4 236.5 L252.6 229.7M253.3 237.3 L256.4 230.9M256.1 238.5 L260.1 232.6M258.7 240.2 L263.5 234.9M261.1 242.1 L266.6 237.6M263.1 244.4 L269.2 240.7M264.8 247.0 L271.3 244.2M266.1 249.7 L273.0 247.9M267.1 261.8 L273.9 264.0M266.3 264.7 L272.7 267.8M265.1 267.5 L271.0 271.5M263.4 270.1 L268.7 274.9M261.5 272.5 L266.0 278.0M259.2 274.5 L262.9 280.6M256.6 276.2 L259.4 282.7M253.9 277.5 L255.7 284.4M251.0 278.4 L251.8 285.5M247.9 278.9 L247.7 286.0M244.9 278.9 L243.7 285.9M241.8 278.5 L239.6 285.3M238.9 277.7 L235.8 284.1M236.1 276.5 L232.1 282.4M233.5 274.8 L228.7 280.1M231.1 272.9 L225.6 277.4M229.1 270.6 L223.0 274.3M227.4 268.0 L220.9 270.8M226.1 265.3 L219.2 267.1M225.2 262.4 L218.1 263.2M224.7 259.3 L217.6 259.1M224.7 256.3 L217.7 255.1M225.1 253.2 L218.3 251.0M225.9 250.3 L219.5 247.2M227.1 247.5 L221.2 243.5M228.8 244.9 L223.5 240.1M230.7 242.5 L226.2 237.0M233.0 240.5 L229.3 234.4M235.6 238.8 L232.8 232.3" fill="none" stroke="#27a6e2" stroke-width="3.7" stroke-linecap="round"/>
<path d="M248.8 237.5 L250.1 231.0M251.6 238.1 L253.8 231.8M254.3 239.0 L257.4 233.2M256.8 240.4 L260.7 235.1M259.2 242.1 L263.8 237.4M261.2 244.1 L266.5 240.1M263.0 246.4 L268.7 243.2M264.4 248.9 L270.6 246.5M265.4 251.6 L271.9 250.1M265.5 263.0 L271.8 265.2M264.6 265.7 L270.4 268.8M263.2 268.2 L268.5 272.1M261.5 270.6 L266.2 275.2M259.5 272.6 L263.5 277.9M257.2 274.4 L260.4 280.1M254.7 275.8 L257.1 282.0M252.0 276.8 L253.5 283.3M249.2 277.5 L249.7 284.1M246.3 277.7 L245.9 284.3M243.4 277.5 L242.1 284.0M240.6 276.9 L238.4 283.2M237.9 276.0 L234.8 281.8M235.4 274.6 L231.5 279.9M233.0 272.9 L228.4 277.6M231.0 270.9 L225.7 274.9M229.2 268.6 L223.5 271.8M227.8 266.1 L221.6 268.5M226.8 263.4 L220.3 264.9M226.1 260.6 L219.5 261.1M225.9 257.7 L219.3 257.3M226.1 254.8 L219.6 253.5M226.7 252.0 L220.4 249.8M227.6 249.3 L221.8 246.2M229.0 246.8 L223.7 242.9M230.7 244.4 L226.0 239.8M232.7 242.4 L228.7 237.1M235.0 240.6 L231.8 234.9M237.5 239.2 L235.1 233.0" fill="none" stroke="#1a86c0" stroke-width="0.5" stroke-opacity="0.55"/>
<path d="M247.3 235.5 L248.3 229.5M250.4 235.9 L252.3 230.1M253.5 236.8 L256.1 231.3M256.3 238.0 L259.8 233.0M259.0 239.7 L263.1 235.2M261.4 241.7 L266.1 237.8M263.5 244.0 L268.7 240.9M265.2 246.7 L270.9 244.2M266.6 249.5 L272.5 247.9M267.7 261.8 L273.5 263.7M266.8 264.9 L272.3 267.5M265.6 267.7 L270.6 271.2M263.9 270.4 L268.4 274.5M261.9 272.8 L265.8 277.5M259.6 274.9 L262.7 280.1M256.9 276.6 L259.4 282.3M254.1 278.0 L255.7 283.9M251.1 278.9 L251.8 285.0M248.0 279.4 L247.9 285.5M244.9 279.5 L243.9 285.5M241.8 279.1 L239.9 284.9M238.7 278.2 L236.1 283.7M235.9 277.0 L232.4 282.0M233.2 275.3 L229.1 279.8M230.8 273.3 L226.1 277.2M228.7 271.0 L223.5 274.1M227.0 268.3 L221.3 270.8M225.6 265.5 L219.7 267.1M224.7 262.5 L218.6 263.2M224.2 259.4 L218.1 259.3M224.1 256.3 L218.1 255.3M224.5 253.2 L218.7 251.3M225.4 250.1 L219.9 247.5M226.6 247.3 L221.6 243.8M228.3 244.6 L223.8 240.5M230.3 242.2 L226.4 237.5M232.6 240.1 L229.5 234.9M235.3 238.4 L232.8 232.7" fill="none" stroke="#8edaf9" stroke-width="1.9" stroke-opacity="0.42" stroke-linecap="round"/>
<path d="M248.3 227.4 L249.1 236.3 L252.5 228.0 L252.1 237.0 L256.7 229.2 L255.0 238.0 L260.6 231.0 L257.7 239.5 L264.2 233.3 L260.1 241.3 L267.5 236.1 L262.3 243.5 L270.3 239.4 L264.1 245.9 L272.6 243.0 L265.6 248.6 L274.4 246.9 L266.6 251.5M267.3 260.5 L275.6 263.9 L266.6 263.5 L274.4 268.1 L265.6 266.4 L272.6 272.0 L264.1 269.1 L270.3 275.6 L262.3 271.5 L267.5 278.9 L260.1 273.7 L264.2 281.7 L257.7 275.5 L260.6 284.0 L255.0 277.0 L256.7 285.8 L252.1 278.0 L252.5 287.0 L249.1 278.7 L248.3 287.6 L246.1 278.9 L243.9 287.6 L243.1 278.7 L239.7 287.0 L240.1 278.0 L235.5 285.8 L237.2 277.0 L231.6 284.0 L234.5 275.5 L228.0 281.7 L232.1 273.7 L224.7 278.9 L229.9 271.5 L221.9 275.6 L228.1 269.1 L219.6 272.0 L226.6 266.4 L217.8 268.1 L225.6 263.5 L216.6 263.9 L224.9 260.5 L216.0 259.7 L224.7 257.5 L216.0 255.3 L224.9 254.5 L216.6 251.1 L225.6 251.5 L217.8 246.9 L226.6 248.6 L219.6 243.0 L228.1 245.9 L221.9 239.4 L229.9 243.5 L224.7 236.1 L232.1 241.3 L228.0 233.3 L234.5 239.5 L231.6 231.0" fill="none" stroke="#1a1a2a" stroke-width="0.45" stroke-opacity="0.12" stroke-linejoin="round"/>
<path d="M247.2 238.0 h0.6M249.9 238.4 h0.6M252.6 239.2 h0.6M255.1 240.4 h0.6M257.5 241.9 h0.6M259.6 243.7 h0.6M261.4 245.8 h0.6M262.9 248.2 h0.6M264.1 250.7 h0.6M264.9 261.6 h0.6M264.1 264.3 h0.6M262.9 266.8 h0.6M261.4 269.2 h0.6M259.6 271.3 h0.6M257.5 273.1 h0.6M255.1 274.6 h0.6M252.6 275.8 h0.6M249.9 276.6 h0.6M247.2 277.0 h0.6M244.4 277.0 h0.6M241.7 276.6 h0.6M239.0 275.8 h0.6M236.5 274.6 h0.6M234.1 273.1 h0.6M232.0 271.3 h0.6M230.2 269.2 h0.6M228.7 266.8 h0.6M227.5 264.3 h0.6M226.7 261.6 h0.6M226.3 258.9 h0.6M226.3 256.1 h0.6M226.7 253.4 h0.6M227.5 250.7 h0.6M228.7 248.2 h0.6M230.2 245.8 h0.6M232.0 243.7 h0.6M234.1 241.9 h0.6M236.5 240.4 h0.6" stroke="#8a5a48" stroke-width="0.5" stroke-opacity="0.7"/>
<path d="M246.1 238.3 V243.1 M246.1 271.9 V276.7 M226.9 257.5 H231.7 M260.5 257.5 H265.3" stroke="#c9c9c9" stroke-width="0.5"/>
<text x="234.1" y="246.4" font-size="2.8" fill="#777" text-anchor="middle">XL</text>
<text x="258.1" y="246.4" font-size="2.8" fill="#777" text-anchor="middle">L</text>
<text x="258.1" y="270.4" font-size="2.8" fill="#777" text-anchor="middle">M</text>
<text x="234.1" y="270.4" font-size="2.8" fill="#777" text-anchor="middle">S</text>
<circle cx="246.1" cy="257.5" r="13.9" fill="#2fb4ee"/>
<path d="M329.2 220.9 L323.6 213.9 L325.3 222.7 L320.7 214.9 L321.1 223.9 L317.7 215.6 L316.9 224.5 L314.7 215.8M285.2 200.8 L293.5 197.4 L284.6 196.6 L293.3 194.4 L284.6 192.2" fill="none" stroke="#1c1c1c" stroke-width="0.52" stroke-linejoin="round"/>
<path d="M315.9 173.0 L317.1 166.0M319.0 173.4 L321.2 166.6M321.9 174.2 L325.0 167.8M324.7 175.4 L328.7 169.5M327.3 177.1 L332.1 171.8M329.7 179.0 L335.2 174.5M331.7 181.3 L337.8 177.6M333.4 183.9 L339.9 181.1M334.7 186.6 L341.6 184.8M335.6 189.5 L342.7 188.7M336.1 192.6 L343.2 192.8M336.1 195.6 L343.1 196.8M335.7 198.7 L342.5 200.9M334.9 201.6 L341.3 204.7M333.7 204.4 L339.6 208.4M332.0 207.0 L337.3 211.8M330.1 209.4 L334.6 214.9M327.8 211.4 L331.5 217.5M313.5 215.8 L312.3 222.8M310.4 215.4 L308.2 222.2M307.5 214.6 L304.4 221.0M304.7 213.4 L300.7 219.3M302.1 211.7 L297.3 217.0M299.7 209.8 L294.2 214.3M297.7 207.5 L291.6 211.2M296.0 204.9 L289.5 207.7M294.7 202.2 L287.8 204.0M293.7 190.1 L286.9 187.9M294.5 187.2 L288.1 184.1M295.7 184.4 L289.8 180.4M297.4 181.8 L292.1 177.0M299.3 179.4 L294.8 173.9M301.6 177.4 L297.9 171.3M304.2 175.7 L301.4 169.2M306.9 174.4 L305.1 167.5M309.8 173.5 L309.0 166.4M312.9 173.0 L313.1 165.9" fill="none" stroke="#27a6e2" stroke-width="3.7" stroke-linecap="round"/>
<path d="M317.4 174.4 L318.7 167.9M320.2 175.0 L322.4 168.7M322.9 175.9 L326.0 170.1M325.4 177.3 L329.3 172.0M327.8 179.0 L332.4 174.3M329.8 181.0 L335.1 177.0M331.6 183.3 L337.3 180.1M333.0 185.8 L339.2 183.4M334.0 188.5 L340.5 187.0M334.7 191.3 L341.3 190.8M334.9 194.2 L341.5 194.6M334.7 197.1 L341.2 198.4M334.1 199.9 L340.4 202.1M333.2 202.6 L339.0 205.7M331.8 205.1 L337.1 209.0M330.1 207.5 L334.8 212.1M328.1 209.5 L332.1 214.8M325.8 211.3 L329.0 217.0M312.0 214.4 L310.7 220.9M309.2 213.8 L307.0 220.1M306.5 212.9 L303.4 218.7M304.0 211.5 L300.1 216.8M301.6 209.8 L297.0 214.5M299.6 207.8 L294.3 211.8M297.8 205.5 L292.1 208.7M296.4 203.0 L290.2 205.4M295.4 200.3 L288.9 201.8M295.3 188.9 L289.0 186.7M296.2 186.2 L290.4 183.1M297.6 183.7 L292.3 179.8M299.3 181.3 L294.6 176.7M301.3 179.3 L297.3 174.0M303.6 177.5 L300.4 171.8M306.1 176.1 L303.7 169.9M308.8 175.1 L307.3 168.6M311.6 174.4 L311.1 167.8M314.5 174.2 L314.9 167.6" fill="none" stroke="#1a86c0" stroke-width="0.5" stroke-opacity="0.55"/>
<path d="M315.9 172.4 L316.9 166.4M319.0 172.8 L320.9 167.0M322.1 173.7 L324.7 168.2M324.9 174.9 L328.4 169.9M327.6 176.6 L331.7 172.1M330.0 178.6 L334.7 174.7M332.1 180.9 L337.3 177.8M333.8 183.6 L339.5 181.1M335.2 186.4 L341.1 184.8M336.1 189.4 L342.2 188.7M336.6 192.5 L342.7 192.6M336.7 195.6 L342.7 196.6M336.3 198.7 L342.1 200.6M335.4 201.8 L340.9 204.4M334.2 204.6 L339.2 208.1M332.5 207.3 L337.0 211.4M330.5 209.7 L334.4 214.4M328.2 211.8 L331.3 217.0M313.5 216.4 L312.5 222.4M310.4 216.0 L308.5 221.8M307.3 215.1 L304.7 220.6M304.5 213.9 L301.0 218.9M301.8 212.2 L297.7 216.7M299.4 210.2 L294.7 214.1M297.3 207.9 L292.1 211.0M295.6 205.2 L289.9 207.7M294.2 202.4 L288.3 204.0M293.1 190.1 L287.3 188.2M294.0 187.0 L288.5 184.4M295.2 184.2 L290.2 180.7M296.9 181.5 L292.4 177.4M298.9 179.1 L295.0 174.4M301.2 177.0 L298.1 171.8M303.9 175.3 L301.4 169.6M306.7 173.9 L305.1 168.0M309.7 173.0 L309.0 166.9M312.8 172.5 L312.9 166.4" fill="none" stroke="#8edaf9" stroke-width="1.9" stroke-opacity="0.42" stroke-linecap="round"/>
<path d="M314.7 173.0 L316.9 164.3 L317.7 173.2 L321.1 164.9 L320.7 173.9 L325.3 166.1 L323.6 174.9 L329.2 167.9 L326.3 176.4 L332.8 170.2 L328.7 178.2 L336.1 173.0 L330.9 180.4 L338.9 176.3 L332.7 182.8 L341.2 179.9 L334.2 185.5 L343.0 183.8 L335.2 188.4 L344.2 188.0 L335.9 191.4 L344.8 192.2 L336.1 194.4 L344.8 196.6 L335.9 197.4 L344.2 200.8 L335.2 200.4 L343.0 205.0 L334.2 203.3 L341.2 208.9 L332.7 206.0 L338.9 212.5 L330.9 208.4 L336.1 215.8 L328.7 210.6 L332.8 218.6 L326.3 212.4M312.5 224.5 L311.7 215.6 L308.3 223.9 L308.7 214.9 L304.1 222.7 L305.8 213.9 L300.2 220.9 L303.1 212.4 L296.6 218.6 L300.7 210.6 L293.3 215.8 L298.5 208.4 L290.5 212.5 L296.7 206.0 L288.2 208.9 L295.2 203.3 L286.4 205.0 L294.2 200.4M293.5 191.4 L285.2 188.0 L294.2 188.4 L286.4 183.8 L295.2 185.5 L288.2 179.9 L296.7 182.8 L290.5 176.3 L298.5 180.4 L293.3 173.0 L300.7 178.2 L296.6 170.2 L303.1 176.4 L300.2 167.9 L305.8 174.9 L304.1 166.1 L308.7 173.9 L308.3 164.9 L311.7 173.2 L312.5 164.3 L314.7 173.0" fill="none" stroke="#1a1a2a" stroke-width="0.45" stroke-opacity="0.12" stroke-linejoin="round"/>
<path d="M315.8 174.9 h0.6M318.5 175.3 h0.6M321.2 176.1 h0.6M323.7 177.3 h0.6M326.1 178.8 h0.6M328.2 180.6 h0.6M330.0 182.7 h0.6M331.5 185.1 h0.6M332.7 187.6 h0.6M333.5 190.3 h0.6M333.9 193.0 h0.6M333.9 195.8 h0.6M333.5 198.5 h0.6M332.7 201.2 h0.6M331.5 203.7 h0.6M330.0 206.1 h0.6M328.2 208.2 h0.6M326.1 210.0 h0.6M313.0 213.9 h0.6M310.3 213.5 h0.6M307.6 212.7 h0.6M305.1 211.5 h0.6M302.7 210.0 h0.6M300.6 208.2 h0.6M298.8 206.1 h0.6M297.3 203.7 h0.6M296.1 201.2 h0.6M295.3 190.3 h0.6M296.1 187.6 h0.6M297.3 185.1 h0.6M298.8 182.7 h0.6M300.6 180.6 h0.6M302.7 178.8 h0.6M305.1 177.3 h0.6M307.6 176.1 h0.6M310.3 175.3 h0.6M313.0 174.9 h0.6" stroke="#8a5a48" stroke-width="0.5" stroke-opacity="0.7"/>
<path d="M314.7 175.20000000000002 V180.0 M314.7 208.8 V213.6 M295.5 194.4 H300.3 M329.09999999999997 194.4 H333.9" stroke="#c9c9c9" stroke-width="0.5"/>
<text x="302.7" y="183.3" font-size="2.8" fill="#777" text-anchor="middle">XL</text>
<text x="326.7" y="183.3" font-size="2.8" fill="#777" text-anchor="middle">L</text>
<text x="326.7" y="207.3" font-size="2.8" fill="#777" text-anchor="middle">M</text>
<text x="302.7" y="207.3" font-size="2.8" fill="#777" text-anchor="middle">S</text>
<circle cx="314.7" cy="194.4" r="13.9" fill="#2fb4ee"/>
<path d="M364.8 215.5 L367.0 206.8M386.2 236.9 L394.9 239.1 L386.0 239.9M361.8 215.7 L362.6 206.8 L364.8 215.5" fill="none" stroke="#1c1c1c" stroke-width="0.52" stroke-linejoin="round"/>
<path d="M369.1 215.9 L371.3 209.1M372.0 216.7 L375.1 210.3M374.8 217.9 L378.8 212.0M377.4 219.6 L382.2 214.3M379.8 221.5 L385.3 217.0M381.8 223.8 L387.9 220.1M383.5 226.4 L390.0 223.6M384.8 229.1 L391.7 227.3M385.7 232.0 L392.8 231.2M386.2 235.1 L393.3 235.3M385.8 241.2 L392.6 243.4M385.0 244.1 L391.4 247.2M383.8 246.9 L389.7 250.9M382.1 249.5 L387.4 254.3M380.2 251.9 L384.7 257.4M377.9 253.9 L381.6 260.0M375.3 255.6 L378.1 262.1M372.6 256.9 L374.4 263.8M369.7 257.8 L370.5 264.9M366.6 258.3 L366.4 265.4M363.6 258.3 L362.4 265.3M360.5 257.9 L358.3 264.7M357.6 257.1 L354.5 263.5M354.8 255.9 L350.8 261.8M352.2 254.2 L347.4 259.5M349.8 252.3 L344.3 256.8M347.8 250.0 L341.7 253.7M346.1 247.4 L339.6 250.2M344.8 244.7 L337.9 246.5M343.9 241.8 L336.8 242.6M343.4 238.7 L336.3 238.5M343.4 235.7 L336.4 234.5M343.8 232.6 L337.0 230.4M344.6 229.7 L338.2 226.6M345.8 226.9 L339.9 222.9M347.5 224.3 L342.2 219.5M349.4 221.9 L344.9 216.4M351.7 219.9 L348.0 213.8M354.3 218.2 L351.5 211.7M357.0 216.9 L355.2 210.0M359.9 216.0 L359.1 208.9" fill="none" stroke="#27a6e2" stroke-width="3.7" stroke-linecap="round"/>
<path d="M370.3 217.5 L372.5 211.2M373.0 218.4 L376.1 212.6M375.5 219.8 L379.4 214.5M377.9 221.5 L382.5 216.8M379.9 223.5 L385.2 219.5M381.7 225.8 L387.4 222.6M383.1 228.3 L389.3 225.9M384.1 231.0 L390.6 229.5M384.8 233.8 L391.4 233.3M385.0 236.7 L391.6 237.1M384.2 242.4 L390.5 244.6M383.3 245.1 L389.1 248.2M381.9 247.6 L387.2 251.5M380.2 250.0 L384.9 254.6M378.2 252.0 L382.2 257.3M375.9 253.8 L379.1 259.5M373.4 255.2 L375.8 261.4M370.7 256.2 L372.2 262.7M367.9 256.9 L368.4 263.5M365.0 257.1 L364.6 263.7M362.1 256.9 L360.8 263.4M359.3 256.3 L357.1 262.6M356.6 255.4 L353.5 261.2M354.1 254.0 L350.2 259.3M351.7 252.3 L347.1 257.0M349.7 250.3 L344.4 254.3M347.9 248.0 L342.2 251.2M346.5 245.5 L340.3 247.9M345.5 242.8 L339.0 244.3M344.8 240.0 L338.2 240.5M344.6 237.1 L338.0 236.7M344.8 234.2 L338.3 232.9M345.4 231.4 L339.1 229.2M346.3 228.7 L340.5 225.6M347.7 226.2 L342.4 222.3M349.4 223.8 L344.7 219.2M351.4 221.8 L347.4 216.5M353.7 220.0 L350.5 214.3M356.2 218.6 L353.8 212.4M358.9 217.6 L357.4 211.1M361.7 216.9 L361.2 210.3" fill="none" stroke="#1a86c0" stroke-width="0.5" stroke-opacity="0.55"/>
<path d="M369.1 215.3 L371.0 209.5M372.2 216.2 L374.8 210.7M375.0 217.4 L378.5 212.4M377.7 219.1 L381.8 214.6M380.1 221.1 L384.8 217.2M382.2 223.4 L387.4 220.3M383.9 226.1 L389.6 223.6M385.3 228.9 L391.2 227.3M386.2 231.9 L392.3 231.2M386.7 235.0 L392.8 235.1M386.4 241.2 L392.2 243.1M385.5 244.3 L391.0 246.9M384.3 247.1 L389.3 250.6M382.6 249.8 L387.1 253.9M380.6 252.2 L384.5 256.9M378.3 254.3 L381.4 259.5M375.6 256.0 L378.1 261.7M372.8 257.4 L374.4 263.3M369.8 258.3 L370.5 264.4M366.7 258.8 L366.6 264.9M363.6 258.9 L362.6 264.9M360.5 258.5 L358.6 264.3M357.4 257.6 L354.8 263.1M354.6 256.4 L351.1 261.4M351.9 254.7 L347.8 259.2M349.5 252.7 L344.8 256.6M347.4 250.4 L342.2 253.5M345.7 247.7 L340.0 250.2M344.3 244.9 L338.4 246.5M343.4 241.9 L337.3 242.6M342.9 238.8 L336.8 238.7M342.8 235.7 L336.8 234.7M343.2 232.6 L337.4 230.7M344.1 229.5 L338.6 226.9M345.3 226.7 L340.3 223.2M347.0 224.0 L342.5 219.9M349.0 221.6 L345.1 216.9M351.3 219.5 L348.2 214.3M354.0 217.8 L351.5 212.1M356.8 216.4 L355.2 210.5M359.8 215.5 L359.1 209.4" fill="none" stroke="#8edaf9" stroke-width="1.9" stroke-opacity="0.42" stroke-linecap="round"/>
<path d="M367.8 215.7 L371.2 207.4 L370.8 216.4 L375.4 208.6 L373.7 217.4 L379.3 210.4 L376.4 218.9 L382.9 212.7 L378.8 220.7 L386.2 215.5 L381.0 222.9 L389.0 218.8 L382.8 225.3 L391.3 222.4 L384.3 228.0 L393.1 226.3 L385.3 230.9 L394.3 230.5 L386.0 233.9 L394.9 234.7M394.3 243.3 L385.3 242.9 L393.1 247.5 L384.3 245.8 L391.3 251.4 L382.8 248.5 L389.0 255.0 L381.0 250.9 L386.2 258.3 L378.8 253.1 L382.9 261.1 L376.4 254.9 L379.3 263.4 L373.7 256.4 L375.4 265.2 L370.8 257.4 L371.2 266.4 L367.8 258.1 L367.0 267.0 L364.8 258.3 L362.6 267.0 L361.8 258.1 L358.4 266.4 L358.8 257.4 L354.2 265.2 L355.9 256.4 L350.3 263.4 L353.2 254.9 L346.7 261.1 L350.8 253.1 L343.4 258.3 L348.6 250.9 L340.6 255.0 L346.8 248.5 L338.3 251.4 L345.3 245.8 L336.5 247.5 L344.3 242.9 L335.3 243.3 L343.6 239.9 L334.7 239.1 L343.4 236.9 L334.7 234.7 L343.6 233.9 L335.3 230.5 L344.3 230.9 L336.5 226.3 L345.3 228.0 L338.3 222.4 L346.8 225.3 L340.6 218.8 L348.6 222.9 L343.4 215.5 L350.8 220.7 L346.7 212.7 L353.2 218.9 L350.3 210.4 L355.9 217.4 L354.2 208.6 L358.8 216.4 L358.4 207.4" fill="none" stroke="#1a1a2a" stroke-width="0.45" stroke-opacity="0.12" stroke-linejoin="round"/>
<path d="M368.6 217.8 h0.6M371.3 218.6 h0.6M373.8 219.8 h0.6M376.2 221.3 h0.6M378.3 223.1 h0.6M380.1 225.2 h0.6M381.6 227.6 h0.6M382.8 230.1 h0.6M383.6 232.8 h0.6M384.0 235.5 h0.6M383.6 241.0 h0.6M382.8 243.7 h0.6M381.6 246.2 h0.6M380.1 248.6 h0.6M378.3 250.7 h0.6M376.2 252.5 h0.6M373.8 254.0 h0.6M371.3 255.2 h0.6M368.6 256.0 h0.6M365.9 256.4 h0.6M363.1 256.4 h0.6M360.4 256.0 h0.6M357.7 255.2 h0.6M355.2 254.0 h0.6M352.8 252.5 h0.6M350.7 250.7 h0.6M348.9 248.6 h0.6M347.4 246.2 h0.6M346.2 243.7 h0.6M345.4 241.0 h0.6M345.0 238.3 h0.6M345.0 235.5 h0.6M345.4 232.8 h0.6M346.2 230.1 h0.6M347.4 227.6 h0.6M348.9 225.2 h0.6M350.7 223.1 h0.6M352.8 221.3 h0.6M355.2 219.8 h0.6M357.7 218.6 h0.6M360.4 217.8 h0.6" stroke="#8a5a48" stroke-width="0.5" stroke-opacity="0.7"/>
<path d="M364.8 217.70000000000002 V222.5 M364.8 251.3 V256.1 M345.6 236.9 H350.40000000000003 M379.2 236.9 H384.0" stroke="#c9c9c9" stroke-width="0.5"/>
<text x="352.8" y="225.8" font-size="2.8" fill="#777" text-anchor="middle">XL</text>
<text x="376.8" y="225.8" font-size="2.8" fill="#777" text-anchor="middle">L</text>
<text x="376.8" y="249.8" font-size="2.8" fill="#777" text-anchor="middle">M</text>
<text x="352.8" y="249.8" font-size="2.8" fill="#777" text-anchor="middle">S</text>
<circle cx="364.8" cy="236.9" r="13.9" fill="#2fb4ee"/>
<path d="M480.4 144.5 L482.6 135.8M494.4 149.7 L501.8 144.5 L496.6 151.9 L504.6 147.8 L498.4 154.3 L506.9 151.4 L499.9 157.0 L508.7 155.3 L500.9 159.9 L509.9 159.5 L501.6 162.9 L510.5 163.7 L501.8 165.9 L510.5 168.1M494.9 192.4 L489.3 185.4 L491.0 194.2 L486.4 186.4 L486.8 195.4 L483.4 187.1 L482.6 196.0 L480.4 187.3 L478.2 196.0M459.9 171.9 L450.9 172.3 L459.2 168.9 L450.3 168.1 L459.0 165.9 L450.3 163.7 L459.2 162.9 L450.9 159.5M474.4 145.4 L474.0 136.4 L477.4 144.7 L478.2 135.8 L480.4 144.5" fill="none" stroke="#1c1c1c" stroke-width="0.52" stroke-linejoin="round"/>
<path d="M484.7 144.9 L486.9 138.1M487.6 145.7 L490.7 139.3M490.4 146.9 L494.4 141.0M493.0 148.6 L497.8 143.3M501.4 170.2 L508.2 172.4M500.6 173.1 L507.0 176.2M499.4 175.9 L505.3 179.9M497.7 178.5 L503.0 183.3M495.8 180.9 L500.3 186.4M493.5 182.9 L497.2 189.0M476.1 186.9 L473.9 193.7M473.2 186.1 L470.1 192.5M470.4 184.9 L466.4 190.8M467.8 183.2 L463.0 188.5M465.4 181.3 L459.9 185.8M463.4 179.0 L457.3 182.7M461.7 176.4 L455.2 179.2M460.4 173.7 L453.5 175.5M460.2 158.7 L453.8 155.6M461.4 155.9 L455.5 151.9M463.1 153.3 L457.8 148.5M465.0 150.9 L460.5 145.4M467.3 148.9 L463.6 142.8M469.9 147.2 L467.1 140.7M472.6 145.9 L470.8 139.0" fill="none" stroke="#fac01f" stroke-width="3.7" stroke-linecap="round"/>
<path d="M485.9 146.5 L488.1 140.2M488.6 147.4 L491.7 141.6M491.1 148.8 L495.0 143.5M493.5 150.5 L498.1 145.8M499.8 171.4 L506.1 173.6M498.9 174.1 L504.7 177.2M497.5 176.6 L502.8 180.5M495.8 179.0 L500.5 183.6M493.8 181.0 L497.8 186.3M491.5 182.8 L494.7 188.5M474.9 185.3 L472.7 191.6M472.2 184.4 L469.1 190.2M469.7 183.0 L465.8 188.3M467.3 181.3 L462.7 186.0M465.3 179.3 L460.0 183.3M463.5 177.0 L457.8 180.2M462.1 174.5 L455.9 176.9M461.1 171.8 L454.6 173.3M461.9 157.7 L456.1 154.6M463.3 155.2 L458.0 151.3M465.0 152.8 L460.3 148.2M467.0 150.8 L463.0 145.5M469.3 149.0 L466.1 143.3M471.8 147.6 L469.4 141.4M474.5 146.6 L473.0 140.1" fill="none" stroke="#cf9f14" stroke-width="0.5" stroke-opacity="0.55"/>
<path d="M484.7 144.3 L486.6 138.5M487.8 145.2 L490.4 139.7M490.6 146.4 L494.1 141.4M493.3 148.1 L497.4 143.6M502.0 170.2 L507.8 172.1M501.1 173.3 L506.6 175.9M499.9 176.1 L504.9 179.6M498.2 178.8 L502.7 182.9M496.2 181.2 L500.1 185.9M493.9 183.3 L497.0 188.5M476.1 187.5 L474.2 193.3M473.0 186.6 L470.4 192.1M470.2 185.4 L466.7 190.4M467.5 183.7 L463.4 188.2M465.1 181.7 L460.4 185.6M463.0 179.4 L457.8 182.5M461.3 176.7 L455.6 179.2M459.9 173.9 L454.0 175.5M459.7 158.5 L454.2 155.9M460.9 155.7 L455.9 152.2M462.6 153.0 L458.1 148.9M464.6 150.6 L460.7 145.9M466.9 148.5 L463.8 143.3M469.6 146.8 L467.1 141.1M472.4 145.4 L470.8 139.5" fill="none" stroke="#ffe57a" stroke-width="1.9" stroke-opacity="0.42" stroke-linecap="round"/>
<path d="M483.4 144.7 L486.8 136.4 L486.4 145.4 L491.0 137.6 L489.3 146.4 L494.9 139.4 L492.0 147.9 L498.5 141.7M501.6 168.9 L509.9 172.3 L500.9 171.9 L508.7 176.5 L499.9 174.8 L506.9 180.4 L498.4 177.5 L504.6 184.0 L496.6 179.9 L501.8 187.3 L494.4 182.1 L498.5 190.1 L492.0 183.9M477.4 187.1 L474.0 195.4 L474.4 186.4 L469.8 194.2 L471.5 185.4 L465.9 192.4 L468.8 183.9 L462.3 190.1 L466.4 182.1 L459.0 187.3 L464.2 179.9 L456.2 184.0 L462.4 177.5 L453.9 180.4 L460.9 174.8 L452.1 176.5M459.9 159.9 L452.1 155.3 L460.9 157.0 L453.9 151.4 L462.4 154.3 L456.2 147.8 L464.2 151.9 L459.0 144.5 L466.4 149.7 L462.3 141.7 L468.8 147.9 L465.9 139.4 L471.5 146.4 L469.8 137.6" fill="none" stroke="#1a1a2a" stroke-width="0.45" stroke-opacity="0.2" stroke-linejoin="round"/>
<path d="M484.2 146.8 h0.6M486.9 147.6 h0.6M489.4 148.8 h0.6M491.8 150.3 h0.6M499.2 170.0 h0.6M498.4 172.7 h0.6M497.2 175.2 h0.6M495.7 177.6 h0.6M493.9 179.7 h0.6M491.8 181.5 h0.6M476.0 185.0 h0.6M473.3 184.2 h0.6M470.8 183.0 h0.6M468.4 181.5 h0.6M466.3 179.7 h0.6M464.5 177.6 h0.6M463.0 175.2 h0.6M461.8 172.7 h0.6M461.8 159.1 h0.6M463.0 156.6 h0.6M464.5 154.2 h0.6M466.3 152.1 h0.6M468.4 150.3 h0.6M470.8 148.8 h0.6M473.3 147.6 h0.6" stroke="#8a5a48" stroke-width="0.5" stroke-opacity="0.7"/>
<path d="M480.4 146.70000000000002 V151.5 M480.4 180.3 V185.1 M461.2 165.9 H466.0 M494.79999999999995 165.9 H499.59999999999997" stroke="#c9c9c9" stroke-width="0.5"/>
<text x="468.4" y="154.8" font-size="2.8" fill="#777" text-anchor="middle">XL</text>
<text x="492.4" y="154.8" font-size="2.8" fill="#777" text-anchor="middle">L</text>
<text x="492.4" y="178.8" font-size="2.8" fill="#777" text-anchor="middle">M</text>
<text x="468.4" y="178.8" font-size="2.8" fill="#777" text-anchor="middle">S</text>
<circle cx="480.4" cy="165.9" r="13.9" fill="#fbc12c"/>
<text x="470.40" y="164.70" font-size="4.3" fill="#fffdf2" font-weight="bold" textLength="20.00" lengthAdjust="spacingAndGlyphs" stroke="#fffdf2" stroke-width="0.12">RUNNING</text>
<text x="475.50" y="170.40" font-size="4.3" fill="#fffdf2" font-weight="bold" textLength="9.80" lengthAdjust="spacingAndGlyphs" stroke="#fffdf2" stroke-width="0.12">LOW</text>
<path d="M545.1 205.2 L547.3 196.5M554.0 207.1 L559.6 200.1 L556.7 208.6 L563.2 202.4 L559.1 210.4 L566.5 205.2 L561.3 212.6 L569.3 208.5 L563.1 215.0 L571.6 212.1 L564.6 217.7 L573.4 216.0 L565.6 220.6 L574.6 220.2 L566.3 223.6 L575.2 224.4 L566.5 226.6 L575.2 228.8M551.5 256.1 L548.1 247.8 L547.3 256.7 L545.1 248.0 L542.9 256.7M527.0 202.4 L533.5 208.6 L530.6 200.1 L536.2 207.1 L534.5 198.3 L539.1 206.1 L538.7 197.1 L542.1 205.4 L542.9 196.5 L545.1 205.2" fill="none" stroke="#1c1c1c" stroke-width="0.52" stroke-linejoin="round"/>
<path d="M549.4 205.6 L551.6 198.8M552.3 206.4 L555.4 200.0M566.1 230.9 L572.9 233.1M565.3 233.8 L571.7 236.9M564.1 236.6 L570.0 240.6M562.4 239.2 L567.7 244.0M560.5 241.6 L565.0 247.1M558.2 243.6 L561.9 249.7M555.6 245.3 L558.4 251.8M552.9 246.6 L554.7 253.5M540.8 247.6 L538.6 254.4M537.9 246.8 L534.8 253.2M535.1 245.6 L531.1 251.5M532.5 243.9 L527.7 249.2M530.1 242.0 L524.6 246.5M528.1 239.7 L522.0 243.4M526.4 237.1 L519.9 239.9M525.1 234.4 L518.2 236.2M524.2 231.5 L517.1 232.3M523.7 228.4 L516.6 228.2M523.7 225.4 L516.7 224.2M524.1 222.3 L517.3 220.1M524.9 219.4 L518.5 216.3M526.1 216.6 L520.2 212.6M527.8 214.0 L522.5 209.2M529.7 211.6 L525.2 206.1" fill="none" stroke="#ee1c25" stroke-width="3.7" stroke-linecap="round"/>
<path d="M550.6 207.2 L552.8 200.9M553.3 208.1 L556.4 202.3M564.5 232.1 L570.8 234.3M563.6 234.8 L569.4 237.9M562.2 237.3 L567.5 241.2M560.5 239.7 L565.2 244.3M558.5 241.7 L562.5 247.0M556.2 243.5 L559.4 249.2M553.7 244.9 L556.1 251.1M551.0 245.9 L552.5 252.4M539.6 246.0 L537.4 252.3M536.9 245.1 L533.8 250.9M534.4 243.7 L530.5 249.0M532.0 242.0 L527.4 246.7M530.0 240.0 L524.7 244.0M528.2 237.7 L522.5 240.9M526.8 235.2 L520.6 237.6M525.8 232.5 L519.3 234.0M525.1 229.7 L518.5 230.2M524.9 226.8 L518.3 226.4M525.1 223.9 L518.6 222.6M525.7 221.1 L519.4 218.9M526.6 218.4 L520.8 215.3M528.0 215.9 L522.7 212.0M529.7 213.5 L525.0 208.9M531.7 211.5 L527.7 206.2" fill="none" stroke="#b80f17" stroke-width="0.5" stroke-opacity="0.55"/>
<path d="M549.4 205.0 L551.3 199.2M552.5 205.9 L555.1 200.4M566.7 230.9 L572.5 232.8M565.8 234.0 L571.3 236.6M564.6 236.8 L569.6 240.3M562.9 239.5 L567.4 243.6M560.9 241.9 L564.8 246.6M558.6 244.0 L561.7 249.2M555.9 245.7 L558.4 251.4M553.1 247.1 L554.7 253.0M540.8 248.2 L538.9 254.0M537.7 247.3 L535.1 252.8M534.9 246.1 L531.4 251.1M532.2 244.4 L528.1 248.9M529.8 242.4 L525.1 246.3M527.7 240.1 L522.5 243.2M526.0 237.4 L520.3 239.9M524.6 234.6 L518.7 236.2M523.7 231.6 L517.6 232.3M523.2 228.5 L517.1 228.4M523.1 225.4 L517.1 224.4M523.5 222.3 L517.7 220.4M524.4 219.2 L518.9 216.6M525.6 216.4 L520.6 212.9M527.3 213.7 L522.8 209.6M529.3 211.3 L525.4 206.6" fill="none" stroke="#ff8488" stroke-width="1.9" stroke-opacity="0.42" stroke-linecap="round"/>
<path d="M548.1 205.4 L551.5 197.1 L551.1 206.1 L555.7 198.3M566.3 229.6 L574.6 233.0 L565.6 232.6 L573.4 237.2 L564.6 235.5 L571.6 241.1 L563.1 238.2 L569.3 244.7 L561.3 240.6 L566.5 248.0 L559.1 242.8 L563.2 250.8 L556.7 244.6 L559.6 253.1 L554.0 246.1 L555.7 254.9 L551.1 247.1M542.1 247.8 L538.7 256.1 L539.1 247.1 L534.5 254.9 L536.2 246.1 L530.6 253.1 L533.5 244.6 L527.0 250.8 L531.1 242.8 L523.7 248.0 L528.9 240.6 L520.9 244.7 L527.1 238.2 L518.6 241.1 L525.6 235.5 L516.8 237.2 L524.6 232.6 L515.6 233.0 L523.9 229.6 L515.0 228.8 L523.7 226.6 L515.0 224.4 L523.9 223.6 L515.6 220.2 L524.6 220.6 L516.8 216.0 L525.6 217.7 L518.6 212.1 L527.1 215.0 L520.9 208.5 L528.9 212.6 L523.7 205.2 L531.1 210.4" fill="none" stroke="#1a1a2a" stroke-width="0.45" stroke-opacity="0.16" stroke-linejoin="round"/>
<path d="M548.9 207.5 h0.6M551.6 208.3 h0.6M563.9 230.7 h0.6M563.1 233.4 h0.6M561.9 235.9 h0.6M560.4 238.3 h0.6M558.6 240.4 h0.6M556.5 242.2 h0.6M554.1 243.7 h0.6M551.6 244.9 h0.6M540.7 245.7 h0.6M538.0 244.9 h0.6M535.5 243.7 h0.6M533.1 242.2 h0.6M531.0 240.4 h0.6M529.2 238.3 h0.6M527.7 235.9 h0.6M526.5 233.4 h0.6M525.7 230.7 h0.6M525.3 228.0 h0.6M525.3 225.2 h0.6M525.7 222.5 h0.6M526.5 219.8 h0.6M527.7 217.3 h0.6M529.2 214.9 h0.6M531.0 212.8 h0.6" stroke="#8a5a48" stroke-width="0.5" stroke-opacity="0.7"/>
<path d="M545.1 207.4 V212.2 M545.1 241.0 V245.79999999999998 M525.9 226.6 H530.7 M559.5 226.6 H564.3000000000001" stroke="#c9c9c9" stroke-width="0.5"/>
<text x="533.1" y="215.5" font-size="2.8" fill="#777" text-anchor="middle">XL</text>
<text x="557.1" y="215.5" font-size="2.8" fill="#777" text-anchor="middle">L</text>
<text x="557.1" y="239.5" font-size="2.8" fill="#777" text-anchor="middle">M</text>
<text x="533.1" y="239.5" font-size="2.8" fill="#777" text-anchor="middle">S</text>
<circle cx="545.1" cy="226.6" r="13.9" fill="#f5262e"/>
<text x="536.00" y="226.20" font-size="4.4" fill="#fff" font-weight="bold" textLength="18.20" lengthAdjust="spacingAndGlyphs" stroke="#fff" stroke-width="0.22">NEED TO</text>
<text x="536.00" y="231.50" font-size="4.4" fill="#fff" font-weight="bold" textLength="18.20" lengthAdjust="spacingAndGlyphs" stroke="#fff" stroke-width="0.22">RESTOCK</text>
<path d="M652.6 241.3 L661.5 242.1 L652.8 244.3 L661.5 246.5 L652.6 247.3M613.3 268.5 L617.4 260.5 L610.0 265.7 L615.2 258.3 L607.2 262.4 L613.4 255.9 L604.9 258.8 L611.9 253.2 L603.1 254.9 L610.9 250.3 L601.9 250.7 L610.2 247.3 L601.3 246.5 L610.0 244.3 L601.3 242.1" fill="none" stroke="#1c1c1c" stroke-width="0.52" stroke-linejoin="round"/>
<path d="M632.6 222.9 L633.8 215.9M635.7 223.3 L637.9 216.5M638.6 224.1 L641.7 217.7M641.4 225.3 L645.4 219.4M644.0 227.0 L648.8 221.7M646.4 228.9 L651.9 224.4M648.4 231.2 L654.5 227.5M650.1 233.8 L656.6 231.0M651.4 236.5 L658.3 234.7M652.3 239.4 L659.4 238.6M652.4 248.6 L659.2 250.8M651.6 251.5 L658.0 254.6M650.4 254.3 L656.3 258.3M648.7 256.9 L654.0 261.7M646.8 259.3 L651.3 264.8M644.5 261.3 L648.2 267.4M641.9 263.0 L644.7 269.5M639.2 264.3 L641.0 271.2M636.3 265.2 L637.1 272.3M633.2 265.7 L633.0 272.8M630.2 265.7 L629.0 272.7M627.1 265.3 L624.9 272.1M624.2 264.5 L621.1 270.9M621.4 263.3 L617.4 269.2M610.4 240.0 L603.6 237.8M611.2 237.1 L604.8 234.0M612.4 234.3 L606.5 230.3M614.1 231.7 L608.8 226.9M616.0 229.3 L611.5 223.8M618.3 227.3 L614.6 221.2M620.9 225.6 L618.1 219.1M623.6 224.3 L621.8 217.4M626.5 223.4 L625.7 216.3M629.6 222.9 L629.8 215.8" fill="none" stroke="#ee1c25" stroke-width="3.7" stroke-linecap="round"/>
<path d="M634.1 224.3 L635.4 217.8M636.9 224.9 L639.1 218.6M639.6 225.8 L642.7 220.0M642.1 227.2 L646.0 221.9M644.5 228.9 L649.1 224.2M646.5 230.9 L651.8 226.9M648.3 233.2 L654.0 230.0M649.7 235.7 L655.9 233.3M650.7 238.4 L657.2 236.9M651.4 241.2 L658.0 240.7M650.8 249.8 L657.1 252.0M649.9 252.5 L655.7 255.6M648.5 255.0 L653.8 258.9M646.8 257.4 L651.5 262.0M644.8 259.4 L648.8 264.7M642.5 261.2 L645.7 266.9M640.0 262.6 L642.4 268.8M637.3 263.6 L638.8 270.1M634.5 264.3 L635.0 270.9M631.6 264.5 L631.2 271.1M628.7 264.3 L627.4 270.8M625.9 263.7 L623.7 270.0M623.2 262.8 L620.1 268.6M620.7 261.4 L616.8 266.7M612.0 238.8 L605.7 236.6M612.9 236.1 L607.1 233.0M614.3 233.6 L609.0 229.7M616.0 231.2 L611.3 226.6M618.0 229.2 L614.0 223.9M620.3 227.4 L617.1 221.7M622.8 226.0 L620.4 219.8M625.5 225.0 L624.0 218.5M628.3 224.3 L627.8 217.7M631.2 224.1 L631.6 217.5" fill="none" stroke="#b80f17" stroke-width="0.5" stroke-opacity="0.55"/>
<path d="M632.6 222.3 L633.6 216.3M635.7 222.7 L637.6 216.9M638.8 223.6 L641.4 218.1M641.6 224.8 L645.1 219.8M644.3 226.5 L648.4 222.0M646.7 228.5 L651.4 224.6M648.8 230.8 L654.0 227.7M650.5 233.5 L656.2 231.0M651.9 236.3 L657.8 234.7M652.8 239.3 L658.9 238.6M653.0 248.6 L658.8 250.5M652.1 251.7 L657.6 254.3M650.9 254.5 L655.9 258.0M649.2 257.2 L653.7 261.3M647.2 259.6 L651.1 264.3M644.9 261.7 L648.0 266.9M642.2 263.4 L644.7 269.1M639.4 264.8 L641.0 270.7M636.4 265.7 L637.1 271.8M633.3 266.2 L633.2 272.3M630.2 266.3 L629.2 272.3M627.1 265.9 L625.2 271.7M624.0 265.0 L621.4 270.5M621.2 263.8 L617.7 268.8M609.8 240.0 L604.0 238.1M610.7 236.9 L605.2 234.3M611.9 234.1 L606.9 230.6M613.6 231.4 L609.1 227.3M615.6 229.0 L611.7 224.3M617.9 226.9 L614.8 221.7M620.6 225.2 L618.1 219.5M623.4 223.8 L621.8 217.9M626.4 222.9 L625.7 216.8M629.5 222.4 L629.6 216.3" fill="none" stroke="#ff8488" stroke-width="1.9" stroke-opacity="0.42" stroke-linecap="round"/>
<path d="M631.4 222.9 L633.6 214.2 L634.4 223.1 L637.8 214.8 L637.4 223.8 L642.0 216.0 L640.3 224.8 L645.9 217.8 L643.0 226.3 L649.5 220.1 L645.4 228.1 L652.8 222.9 L647.6 230.3 L655.6 226.2 L649.4 232.7 L657.9 229.8 L650.9 235.4 L659.7 233.7 L651.9 238.3 L660.9 237.9M660.9 250.7 L651.9 250.3 L659.7 254.9 L650.9 253.2 L657.9 258.8 L649.4 255.9 L655.6 262.4 L647.6 258.3 L652.8 265.7 L645.4 260.5 L649.5 268.5 L643.0 262.3 L645.9 270.8 L640.3 263.8 L642.0 272.6 L637.4 264.8 L637.8 273.8 L634.4 265.5 L633.6 274.4M629.2 274.4 L628.4 265.5 L625.0 273.8 L625.4 264.8 L620.8 272.6 L622.5 263.8 L616.9 270.8 L619.8 262.3M610.2 241.3 L601.9 237.9 L610.9 238.3 L603.1 233.7 L611.9 235.4 L604.9 229.8 L613.4 232.7 L607.2 226.2 L615.2 230.3 L610.0 222.9 L617.4 228.1 L613.3 220.1 L619.8 226.3 L616.9 217.8 L622.5 224.8 L620.8 216.0 L625.4 223.8 L625.0 214.8 L628.4 223.1 L629.2 214.2 L631.4 222.9" fill="none" stroke="#1a1a2a" stroke-width="0.45" stroke-opacity="0.16" stroke-linejoin="round"/>
<path d="M632.5 224.8 h0.6M635.2 225.2 h0.6M637.9 226.0 h0.6M640.4 227.2 h0.6M642.8 228.7 h0.6M644.9 230.5 h0.6M646.7 232.6 h0.6M648.2 235.0 h0.6M649.4 237.5 h0.6M650.2 240.2 h0.6M650.2 248.4 h0.6M649.4 251.1 h0.6M648.2 253.6 h0.6M646.7 256.0 h0.6M644.9 258.1 h0.6M642.8 259.9 h0.6M640.4 261.4 h0.6M637.9 262.6 h0.6M635.2 263.4 h0.6M632.5 263.8 h0.6M629.7 263.8 h0.6M627.0 263.4 h0.6M624.3 262.6 h0.6M621.8 261.4 h0.6M612.0 240.2 h0.6M612.8 237.5 h0.6M614.0 235.0 h0.6M615.5 232.6 h0.6M617.3 230.5 h0.6M619.4 228.7 h0.6M621.8 227.2 h0.6M624.3 226.0 h0.6M627.0 225.2 h0.6M629.7 224.8 h0.6" stroke="#8a5a48" stroke-width="0.5" stroke-opacity="0.7"/>
<path d="M631.4 225.10000000000002 V229.9 M631.4 258.7 V263.5 M612.1999999999999 244.3 H617.0 M645.8 244.3 H650.6" stroke="#c9c9c9" stroke-width="0.5"/>
<text x="619.4" y="233.2" font-size="2.8" fill="#777" text-anchor="middle">XL</text>
<text x="643.4" y="233.2" font-size="2.8" fill="#777" text-anchor="middle">L</text>
<text x="643.4" y="257.2" font-size="2.8" fill="#777" text-anchor="middle">M</text>
<text x="619.4" y="257.2" font-size="2.8" fill="#777" text-anchor="middle">S</text>
<circle cx="631.4" cy="244.3" r="13.9" fill="#f5262e"/>
<text x="622.30" y="243.90" font-size="4.4" fill="#fff" font-weight="bold" textLength="18.20" lengthAdjust="spacingAndGlyphs" stroke="#fff" stroke-width="0.22">NEED TO</text>
<text x="622.30" y="249.20" font-size="4.4" fill="#fff" font-weight="bold" textLength="18.20" lengthAdjust="spacingAndGlyphs" stroke="#fff" stroke-width="0.22">RESTOCK</text>
<path d="M425.2 237.6 L427.4 228.9M451.7 244.5 L444.7 250.1 L453.5 248.4 L445.7 253.0 L454.7 252.6 L446.4 256.0 L455.3 256.8 L446.6 259.0 L455.3 261.2M435.8 287.3 L431.2 279.5 L431.6 288.5 L428.2 280.2 L427.4 289.1 L425.2 280.4 L423.0 289.1M404.7 265.0 L395.7 265.4 L404.0 262.0 L395.1 261.2 L403.8 259.0M422.2 237.8 L423.0 228.9 L425.2 237.6" fill="none" stroke="#1c1c1c" stroke-width="0.52" stroke-linejoin="round"/>
<path d="M429.5 238.0 L431.7 231.2M432.4 238.8 L435.5 232.4M435.2 240.0 L439.2 234.1M437.8 241.7 L442.6 236.4M440.2 243.6 L445.7 239.1M442.2 245.9 L448.3 242.2M446.2 263.3 L453.0 265.5M445.4 266.2 L451.8 269.3M444.2 269.0 L450.1 273.0M442.5 271.6 L447.8 276.4M440.6 274.0 L445.1 279.5M438.3 276.0 L442.0 282.1M435.7 277.7 L438.5 284.2M420.9 280.0 L418.7 286.8M418.0 279.2 L414.9 285.6M415.2 278.0 L411.2 283.9M412.6 276.3 L407.8 281.6M410.2 274.4 L404.7 278.9M408.2 272.1 L402.1 275.8M406.5 269.5 L400.0 272.3M405.2 266.8 L398.3 268.6M403.8 257.8 L396.8 256.6M404.2 254.7 L397.4 252.5M405.0 251.8 L398.6 248.7M406.2 249.0 L400.3 245.0M407.9 246.4 L402.6 241.6M409.8 244.0 L405.3 238.5M412.1 242.0 L408.4 235.9M414.7 240.3 L411.9 233.8M417.4 239.0 L415.6 232.1M420.3 238.1 L419.5 231.0" fill="none" stroke="#fac01f" stroke-width="3.7" stroke-linecap="round"/>
<path d="M430.7 239.6 L432.9 233.3M433.4 240.5 L436.5 234.7M435.9 241.9 L439.8 236.6M438.3 243.6 L442.9 238.9M440.3 245.6 L445.6 241.6M442.1 247.9 L447.8 244.7M444.6 264.5 L450.9 266.7M443.7 267.2 L449.5 270.3M442.3 269.7 L447.6 273.6M440.6 272.1 L445.3 276.7M438.6 274.1 L442.6 279.4M436.3 275.9 L439.5 281.6M433.8 277.3 L436.2 283.5M419.7 278.4 L417.5 284.7M417.0 277.5 L413.9 283.3M414.5 276.1 L410.6 281.4M412.1 274.4 L407.5 279.1M410.1 272.4 L404.8 276.4M408.3 270.1 L402.6 273.3M406.9 267.6 L400.7 270.0M405.9 264.9 L399.4 266.4M405.2 256.3 L398.7 255.0M405.8 253.5 L399.5 251.3M406.7 250.8 L400.9 247.7M408.1 248.3 L402.8 244.4M409.8 245.9 L405.1 241.3M411.8 243.9 L407.8 238.6M414.1 242.1 L410.9 236.4M416.6 240.7 L414.2 234.5M419.3 239.7 L417.8 233.2M422.1 239.0 L421.6 232.4" fill="none" stroke="#cf9f14" stroke-width="0.5" stroke-opacity="0.55"/>
<path d="M429.5 237.4 L431.4 231.6M432.6 238.3 L435.2 232.8M435.4 239.5 L438.9 234.5M438.1 241.2 L442.2 236.7M440.5 243.2 L445.2 239.3M442.6 245.5 L447.8 242.4M446.8 263.3 L452.6 265.2M445.9 266.4 L451.4 269.0M444.7 269.2 L449.7 272.7M443.0 271.9 L447.5 276.0M441.0 274.3 L444.9 279.0M438.7 276.4 L441.8 281.6M436.0 278.1 L438.5 283.8M420.9 280.6 L419.0 286.4M417.8 279.7 L415.2 285.2M415.0 278.5 L411.5 283.5M412.3 276.8 L408.2 281.3M409.9 274.8 L405.2 278.7M407.8 272.5 L402.6 275.6M406.1 269.8 L400.4 272.3M404.7 267.0 L398.8 268.6M403.2 257.8 L397.2 256.8M403.6 254.7 L397.8 252.8M404.5 251.6 L399.0 249.0M405.7 248.8 L400.7 245.3M407.4 246.1 L402.9 242.0M409.4 243.7 L405.5 239.0M411.7 241.6 L408.6 236.4M414.4 239.9 L411.9 234.2M417.2 238.5 L415.6 232.6M420.2 237.6 L419.5 231.5" fill="none" stroke="#ffe57a" stroke-width="1.9" stroke-opacity="0.42" stroke-linecap="round"/>
<path d="M428.2 237.8 L431.6 229.5 L431.2 238.5 L435.8 230.7 L434.1 239.5 L439.7 232.5 L436.8 241.0 L443.3 234.8 L439.2 242.8 L446.6 237.6 L441.4 245.0 L449.4 240.9 L443.2 247.4M446.4 262.0 L454.7 265.4 L445.7 265.0 L453.5 269.6 L444.7 267.9 L451.7 273.5 L443.2 270.6 L449.4 277.1 L441.4 273.0 L446.6 280.4 L439.2 275.2 L443.3 283.2 L436.8 277.0 L439.7 285.5 L434.1 278.5M422.2 280.2 L418.8 288.5 L419.2 279.5 L414.6 287.3 L416.3 278.5 L410.7 285.5 L413.6 277.0 L407.1 283.2 L411.2 275.2 L403.8 280.4 L409.0 273.0 L401.0 277.1 L407.2 270.6 L398.7 273.5 L405.7 267.9 L396.9 269.6M395.1 256.8 L404.0 256.0 L395.7 252.6 L404.7 253.0 L396.9 248.4 L405.7 250.1 L398.7 244.5 L407.2 247.4 L401.0 240.9 L409.0 245.0 L403.8 237.6 L411.2 242.8 L407.1 234.8 L413.6 241.0 L410.7 232.5 L416.3 239.5 L414.6 230.7 L419.2 238.5 L418.8 229.5" fill="none" stroke="#1a1a2a" stroke-width="0.45" stroke-opacity="0.2" stroke-linejoin="round"/>
<path d="M429.0 239.9 h0.6M431.7 240.7 h0.6M434.2 241.9 h0.6M436.6 243.4 h0.6M438.7 245.2 h0.6M440.5 247.3 h0.6M444.0 263.1 h0.6M443.2 265.8 h0.6M442.0 268.3 h0.6M440.5 270.7 h0.6M438.7 272.8 h0.6M436.6 274.6 h0.6M434.2 276.1 h0.6M420.8 278.1 h0.6M418.1 277.3 h0.6M415.6 276.1 h0.6M413.2 274.6 h0.6M411.1 272.8 h0.6M409.3 270.7 h0.6M407.8 268.3 h0.6M406.6 265.8 h0.6M405.4 257.6 h0.6M405.8 254.9 h0.6M406.6 252.2 h0.6M407.8 249.7 h0.6M409.3 247.3 h0.6M411.1 245.2 h0.6M413.2 243.4 h0.6M415.6 241.9 h0.6M418.1 240.7 h0.6M420.8 239.9 h0.6" stroke="#8a5a48" stroke-width="0.5" stroke-opacity="0.7"/>
<path d="M425.2 239.8 V244.6 M425.2 273.4 V278.2 M406.0 259.0 H410.8 M439.59999999999997 259.0 H444.4" stroke="#c9c9c9" stroke-width="0.5"/>
<text x="413.2" y="247.9" font-size="2.8" fill="#777" text-anchor="middle">XL</text>
<text x="437.2" y="247.9" font-size="2.8" fill="#777" text-anchor="middle">L</text>
<text x="437.2" y="271.9" font-size="2.8" fill="#777" text-anchor="middle">M</text>
<text x="413.2" y="271.9" font-size="2.8" fill="#777" text-anchor="middle">S</text>
<circle cx="425.2" cy="259.0" r="13.9" fill="#fbc12c"/>
<text x="415.20" y="257.80" font-size="4.3" fill="#fffdf2" font-weight="bold" textLength="20.00" lengthAdjust="spacingAndGlyphs" stroke="#fffdf2" stroke-width="0.12">RUNNING</text>
<text x="420.30" y="263.50" font-size="4.3" fill="#fffdf2" font-weight="bold" textLength="9.80" lengthAdjust="spacingAndGlyphs" stroke="#fffdf2" stroke-width="0.12">LOW</text>
<path d="M299.6 317.1 L301.8 308.4M320.1 332.5 L329.1 332.1 L320.8 335.5 L329.7 336.3 L321.0 338.5 L329.7 340.7M299.6 359.9 L297.4 368.6" fill="none" stroke="#1c1c1c" stroke-width="0.52" stroke-linejoin="round"/>
<path d="M303.9 317.5 L306.1 310.7M306.8 318.3 L309.9 311.9M309.6 319.5 L313.6 313.6M312.2 321.2 L317.0 315.9M314.6 323.1 L320.1 318.6M316.6 325.4 L322.7 321.7M318.3 328.0 L324.8 325.2M319.6 330.7 L326.5 328.9M320.6 342.8 L327.4 345.0M319.8 345.7 L326.2 348.8M318.6 348.5 L324.5 352.5M316.9 351.1 L322.2 355.9M315.0 353.5 L319.5 359.0M312.7 355.5 L316.4 361.6M310.1 357.2 L312.9 363.7M307.4 358.5 L309.2 365.4M304.5 359.4 L305.3 366.5M301.4 359.9 L301.2 367.0M295.3 359.5 L293.1 366.3M292.4 358.7 L289.3 365.1M289.6 357.5 L285.6 363.4M287.0 355.8 L282.2 361.1M284.6 353.9 L279.1 358.4M282.6 351.6 L276.5 355.3M280.9 349.0 L274.4 351.8M279.6 346.3 L272.7 348.1M278.7 343.4 L271.6 344.2M278.2 340.3 L271.1 340.1M278.2 337.3 L271.2 336.1M278.6 334.2 L271.8 332.0M279.4 331.3 L273.0 328.2M280.6 328.5 L274.7 324.5M282.3 325.9 L277.0 321.1M284.2 323.5 L279.7 318.0M286.5 321.5 L282.8 315.4M289.1 319.8 L286.3 313.3M291.8 318.5 L290.0 311.6M294.7 317.6 L293.9 310.5M297.8 317.1 L298.0 310.0" fill="none" stroke="#27a6e2" stroke-width="3.7" stroke-linecap="round"/>
<path d="M305.1 319.1 L307.3 312.8M307.8 320.0 L310.9 314.2M310.3 321.4 L314.2 316.1M312.7 323.1 L317.3 318.4M314.7 325.1 L320.0 321.1M316.5 327.4 L322.2 324.2M317.9 329.9 L324.1 327.5M318.9 332.6 L325.4 331.1M319.0 344.0 L325.3 346.2M318.1 346.7 L323.9 349.8M316.7 349.2 L322.0 353.1M315.0 351.6 L319.7 356.2M313.0 353.6 L317.0 358.9M310.7 355.4 L313.9 361.1M308.2 356.8 L310.6 363.0M305.5 357.8 L307.0 364.3M302.7 358.5 L303.2 365.1M299.8 358.7 L299.4 365.3M294.1 357.9 L291.9 364.2M291.4 357.0 L288.3 362.8M288.9 355.6 L285.0 360.9M286.5 353.9 L281.9 358.6M284.5 351.9 L279.2 355.9M282.7 349.6 L277.0 352.8M281.3 347.1 L275.1 349.5M280.3 344.4 L273.8 345.9M279.6 341.6 L273.0 342.1M279.4 338.7 L272.8 338.3M279.6 335.8 L273.1 334.5M280.2 333.0 L273.9 330.8M281.1 330.3 L275.3 327.2M282.5 327.8 L277.2 323.9M284.2 325.4 L279.5 320.8M286.2 323.4 L282.2 318.1M288.5 321.6 L285.3 315.9M291.0 320.2 L288.6 314.0M293.7 319.2 L292.2 312.7M296.5 318.5 L296.0 311.9M299.4 318.3 L299.8 311.7" fill="none" stroke="#1a86c0" stroke-width="0.5" stroke-opacity="0.55"/>
<path d="M303.9 316.9 L305.8 311.1M307.0 317.8 L309.6 312.3M309.8 319.0 L313.3 314.0M312.5 320.7 L316.6 316.2M314.9 322.7 L319.6 318.8M317.0 325.0 L322.2 321.9M318.7 327.7 L324.4 325.2M320.1 330.5 L326.0 328.9M321.2 342.8 L327.0 344.7M320.3 345.9 L325.8 348.5M319.1 348.7 L324.1 352.2M317.4 351.4 L321.9 355.5M315.4 353.8 L319.3 358.5M313.1 355.9 L316.2 361.1M310.4 357.6 L312.9 363.3M307.6 359.0 L309.2 364.9M304.6 359.9 L305.3 366.0M301.5 360.4 L301.4 366.5M295.3 360.1 L293.4 365.9M292.2 359.2 L289.6 364.7M289.4 358.0 L285.9 363.0M286.7 356.3 L282.6 360.8M284.3 354.3 L279.6 358.2M282.2 352.0 L277.0 355.1M280.5 349.3 L274.8 351.8M279.1 346.5 L273.2 348.1M278.2 343.5 L272.1 344.2M277.7 340.4 L271.6 340.3M277.6 337.3 L271.6 336.3M278.0 334.2 L272.2 332.3M278.9 331.1 L273.4 328.5M280.1 328.3 L275.1 324.8M281.8 325.6 L277.3 321.5M283.8 323.2 L279.9 318.5M286.1 321.1 L283.0 315.9M288.8 319.4 L286.3 313.7M291.6 318.0 L290.0 312.1M294.6 317.1 L293.9 311.0M297.7 316.6 L297.8 310.5" fill="none" stroke="#8edaf9" stroke-width="1.9" stroke-opacity="0.42" stroke-linecap="round"/>
<path d="M302.6 317.3 L306.0 309.0 L305.6 318.0 L310.2 310.2 L308.5 319.0 L314.1 312.0 L311.2 320.5 L317.7 314.3 L313.6 322.3 L321.0 317.1 L315.8 324.5 L323.8 320.4 L317.6 326.9 L326.1 324.0 L319.1 329.6 L327.9 327.9M320.8 341.5 L329.1 344.9 L320.1 344.5 L327.9 349.1 L319.1 347.4 L326.1 353.0 L317.6 350.1 L323.8 356.6 L315.8 352.5 L321.0 359.9 L313.6 354.7 L317.7 362.7 L311.2 356.5 L314.1 365.0 L308.5 358.0 L310.2 366.8 L305.6 359.0 L306.0 368.0 L302.6 359.7 L301.8 368.6M296.6 359.7 L293.2 368.0 L293.6 359.0 L289.0 366.8 L290.7 358.0 L285.1 365.0 L288.0 356.5 L281.5 362.7 L285.6 354.7 L278.2 359.9 L283.4 352.5 L275.4 356.6 L281.6 350.1 L273.1 353.0 L280.1 347.4 L271.3 349.1 L279.1 344.5 L270.1 344.9 L278.4 341.5 L269.5 340.7 L278.2 338.5 L269.5 336.3 L278.4 335.5 L270.1 332.1 L279.1 332.5 L271.3 327.9 L280.1 329.6 L273.1 324.0 L281.6 326.9 L275.4 320.4 L283.4 324.5 L278.2 317.1 L285.6 322.3 L281.5 314.3 L288.0 320.5 L285.1 312.0 L290.7 319.0 L289.0 310.2 L293.6 318.0 L293.2 309.0 L296.6 317.3 L297.4 308.4" fill="none" stroke="#1a1a2a" stroke-width="0.45" stroke-opacity="0.12" stroke-linejoin="round"/>
<path d="M303.4 319.4 h0.6M306.1 320.2 h0.6M308.6 321.4 h0.6M311.0 322.9 h0.6M313.1 324.7 h0.6M314.9 326.8 h0.6M316.4 329.2 h0.6M317.6 331.7 h0.6M318.4 342.6 h0.6M317.6 345.3 h0.6M316.4 347.8 h0.6M314.9 350.2 h0.6M313.1 352.3 h0.6M311.0 354.1 h0.6M308.6 355.6 h0.6M306.1 356.8 h0.6M303.4 357.6 h0.6M300.7 358.0 h0.6M295.2 357.6 h0.6M292.5 356.8 h0.6M290.0 355.6 h0.6M287.6 354.1 h0.6M285.5 352.3 h0.6M283.7 350.2 h0.6M282.2 347.8 h0.6M281.0 345.3 h0.6M280.2 342.6 h0.6M279.8 339.9 h0.6M279.8 337.1 h0.6M280.2 334.4 h0.6M281.0 331.7 h0.6M282.2 329.2 h0.6M283.7 326.8 h0.6M285.5 324.7 h0.6M287.6 322.9 h0.6M290.0 321.4 h0.6M292.5 320.2 h0.6M295.2 319.4 h0.6M297.9 319.0 h0.6" stroke="#8a5a48" stroke-width="0.5" stroke-opacity="0.7"/>
<path d="M299.6 319.3 V324.1 M299.6 352.9 V357.7 M280.40000000000003 338.5 H285.20000000000005 M314.0 338.5 H318.8" stroke="#c9c9c9" stroke-width="0.5"/>
<text x="287.6" y="327.4" font-size="2.8" fill="#777" text-anchor="middle">XL</text>
<text x="311.6" y="327.4" font-size="2.8" fill="#777" text-anchor="middle">L</text>
<text x="311.6" y="351.4" font-size="2.8" fill="#777" text-anchor="middle">M</text>
<text x="287.6" y="351.4" font-size="2.8" fill="#777" text-anchor="middle">S</text>
<circle cx="299.6" cy="338.5" r="13.9" fill="#2fb4ee"/>
<path d="M553.6 334.3 L558.8 341.7 L551.4 336.5 L555.5 344.5 L549.0 338.3 L551.9 346.8 L546.3 339.8 L548.0 348.6 L543.4 340.8 L543.8 349.8 L540.4 341.5 L539.6 350.4 L537.4 341.7 L535.2 350.4M507.3 322.5 L516.0 320.3 L507.3 318.1M522.9 293.8 L528.5 300.8 L526.8 292.0 L531.4 299.8 L531.0 290.8 L534.4 299.1 L535.2 290.2 L537.4 298.9" fill="none" stroke="#1c1c1c" stroke-width="0.52" stroke-linejoin="round"/>
<path d="M538.6 298.9 L539.8 291.9M541.7 299.3 L543.9 292.5M544.6 300.1 L547.7 293.7M547.4 301.3 L551.4 295.4M550.0 303.0 L554.8 297.7M552.4 304.9 L557.9 300.4M554.4 307.2 L560.5 303.5M556.1 309.8 L562.6 307.0M557.4 312.5 L564.3 310.7M558.3 315.4 L565.4 314.6M558.8 318.5 L565.9 318.7M558.8 321.5 L565.8 322.7M558.4 324.6 L565.2 326.8M557.6 327.5 L564.0 330.6M556.4 330.3 L562.3 334.3M554.7 332.9 L560.0 337.7M533.1 341.3 L530.9 348.1M530.2 340.5 L527.1 346.9M527.4 339.3 L523.4 345.2M524.8 337.6 L520.0 342.9M522.4 335.7 L516.9 340.2M520.4 333.4 L514.3 337.1M518.7 330.8 L512.2 333.6M517.4 328.1 L510.5 329.9M516.5 325.2 L509.4 326.0M516.4 316.0 L509.6 313.8M517.2 313.1 L510.8 310.0M518.4 310.3 L512.5 306.3M520.1 307.7 L514.8 302.9M522.0 305.3 L517.5 299.8M524.3 303.3 L520.6 297.2" fill="none" stroke="#fac01f" stroke-width="3.7" stroke-linecap="round"/>
<path d="M540.1 300.3 L541.4 293.8M542.9 300.9 L545.1 294.6M545.6 301.8 L548.7 296.0M548.1 303.2 L552.0 297.9M550.5 304.9 L555.1 300.2M552.5 306.9 L557.8 302.9M554.3 309.2 L560.0 306.0M555.7 311.7 L561.9 309.3M556.7 314.4 L563.2 312.9M557.4 317.2 L564.0 316.7M557.6 320.1 L564.2 320.5M557.4 323.0 L563.9 324.3M556.8 325.8 L563.1 328.0M555.9 328.5 L561.7 331.6M554.5 331.0 L559.8 334.9M552.8 333.4 L557.5 338.0M531.9 339.7 L529.7 346.0M529.2 338.8 L526.1 344.6M526.7 337.4 L522.8 342.7M524.3 335.7 L519.7 340.4M522.3 333.7 L517.0 337.7M520.5 331.4 L514.8 334.6M519.1 328.9 L512.9 331.3M518.1 326.2 L511.6 327.7M517.4 323.4 L510.8 323.9M518.0 314.8 L511.7 312.6M518.9 312.1 L513.1 309.0M520.3 309.6 L515.0 305.7M522.0 307.2 L517.3 302.6M524.0 305.2 L520.0 299.9M526.3 303.4 L523.1 297.7" fill="none" stroke="#cf9f14" stroke-width="0.5" stroke-opacity="0.55"/>
<path d="M538.6 298.3 L539.6 292.3M541.7 298.7 L543.6 292.9M544.8 299.6 L547.4 294.1M547.6 300.8 L551.1 295.8M550.3 302.5 L554.4 298.0M552.7 304.5 L557.4 300.6M554.8 306.8 L560.0 303.7M556.5 309.5 L562.2 307.0M557.9 312.3 L563.8 310.7M558.8 315.3 L564.9 314.6M559.3 318.4 L565.4 318.5M559.4 321.5 L565.4 322.5M559.0 324.6 L564.8 326.5M558.1 327.7 L563.6 330.3M556.9 330.5 L561.9 334.0M555.2 333.2 L559.7 337.3M533.1 341.9 L531.2 347.7M530.0 341.0 L527.4 346.5M527.2 339.8 L523.7 344.8M524.5 338.1 L520.4 342.6M522.1 336.1 L517.4 340.0M520.0 333.8 L514.8 336.9M518.3 331.1 L512.6 333.6M516.9 328.3 L511.0 329.9M516.0 325.3 L509.9 326.0M515.8 316.0 L510.0 314.1M516.7 312.9 L511.2 310.3M517.9 310.1 L512.9 306.6M519.6 307.4 L515.1 303.3M521.6 305.0 L517.7 300.3M523.9 302.9 L520.8 297.7" fill="none" stroke="#ffe57a" stroke-width="1.9" stroke-opacity="0.42" stroke-linecap="round"/>
<path d="M539.6 290.2 L540.4 299.1 L543.8 290.8 L543.4 299.8 L548.0 292.0 L546.3 300.8 L551.9 293.8 L549.0 302.3 L555.5 296.1 L551.4 304.1 L558.8 298.9 L553.6 306.3 L561.6 302.2 L555.4 308.7 L563.9 305.8 L556.9 311.4 L565.7 309.7 L557.9 314.3 L566.9 313.9 L558.6 317.3 L567.5 318.1 L558.8 320.3 L567.5 322.5 L558.6 323.3 L566.9 326.7 L557.9 326.3 L565.7 330.9 L556.9 329.2 L563.9 334.8 L555.4 331.9 L561.6 338.4M534.4 341.5 L531.0 349.8 L531.4 340.8 L526.8 348.6 L528.5 339.8 L522.9 346.8 L525.8 338.3 L519.3 344.5 L523.4 336.5 L516.0 341.7 L521.2 334.3 L513.2 338.4 L519.4 331.9 L510.9 334.8 L517.9 329.2 L509.1 330.9 L516.9 326.3 L507.9 326.7 L516.2 323.3M516.2 317.3 L507.9 313.9 L516.9 314.3 L509.1 309.7 L517.9 311.4 L510.9 305.8 L519.4 308.7 L513.2 302.2 L521.2 306.3 L516.0 298.9 L523.4 304.1 L519.3 296.1 L525.8 302.3" fill="none" stroke="#1a1a2a" stroke-width="0.45" stroke-opacity="0.2" stroke-linejoin="round"/>
<path d="M538.5 300.8 h0.6M541.2 301.2 h0.6M543.9 302.0 h0.6M546.4 303.2 h0.6M548.8 304.7 h0.6M550.9 306.5 h0.6M552.7 308.6 h0.6M554.2 311.0 h0.6M555.4 313.5 h0.6M556.2 316.2 h0.6M556.6 318.9 h0.6M556.6 321.7 h0.6M556.2 324.4 h0.6M555.4 327.1 h0.6M554.2 329.6 h0.6M552.7 332.0 h0.6M533.0 339.4 h0.6M530.3 338.6 h0.6M527.8 337.4 h0.6M525.4 335.9 h0.6M523.3 334.1 h0.6M521.5 332.0 h0.6M520.0 329.6 h0.6M518.8 327.1 h0.6M518.0 324.4 h0.6M518.0 316.2 h0.6M518.8 313.5 h0.6M520.0 311.0 h0.6M521.5 308.6 h0.6M523.3 306.5 h0.6M525.4 304.7 h0.6" stroke="#8a5a48" stroke-width="0.5" stroke-opacity="0.7"/>
<path d="M537.4 301.1 V305.90000000000003 M537.4 334.7 V339.5 M518.1999999999999 320.3 H523.0 M551.8 320.3 H556.6" stroke="#c9c9c9" stroke-width="0.5"/>
<text x="525.4" y="309.2" font-size="2.8" fill="#777" text-anchor="middle">XL</text>
<text x="549.4" y="309.2" font-size="2.8" fill="#777" text-anchor="middle">L</text>
<text x="549.4" y="333.2" font-size="2.8" fill="#777" text-anchor="middle">M</text>
<text x="525.4" y="333.2" font-size="2.8" fill="#777" text-anchor="middle">S</text>
<circle cx="537.4" cy="320.3" r="13.9" fill="#fbc12c"/>
<text x="527.40" y="319.10" font-size="4.3" fill="#fffdf2" font-weight="bold" textLength="20.00" lengthAdjust="spacingAndGlyphs" stroke="#fffdf2" stroke-width="0.12">RUNNING</text>
<text x="532.50" y="324.80" font-size="4.3" fill="#fffdf2" font-weight="bold" textLength="9.80" lengthAdjust="spacingAndGlyphs" stroke="#fffdf2" stroke-width="0.12">LOW</text>
<path d="M448.5 323.5 L450.7 314.8M475.0 330.4 L468.0 336.0 L476.8 334.3 L469.0 338.9 L478.0 338.5 L469.7 341.9 L478.6 342.7 L469.9 344.9 L478.6 347.1M457.4 364.4 L459.1 373.2 L454.5 365.4 L454.9 374.4 L451.5 366.1 L450.7 375.0 L448.5 366.3 L446.3 375.0M432.3 358.9 L424.3 363.0 L430.5 356.5 L422.0 359.4 L429.0 353.8 L420.2 355.5 L428.0 350.9 L419.0 351.3 L427.3 347.9 L418.4 347.1 L427.1 344.9 L418.4 342.7M437.9 316.6 L442.5 324.4 L442.1 315.4 L445.5 323.7 L446.3 314.8 L448.5 323.5" fill="none" stroke="#1c1c1c" stroke-width="0.52" stroke-linejoin="round"/>
<path d="M452.8 323.9 L455.0 317.1M455.7 324.7 L458.8 318.3M458.5 325.9 L462.5 320.0M461.1 327.6 L465.9 322.3M463.5 329.5 L469.0 325.0M465.5 331.8 L471.6 328.1M469.5 349.2 L476.3 351.4M468.7 352.1 L475.1 355.2M467.5 354.9 L473.4 358.9M465.8 357.5 L471.1 362.3M463.9 359.9 L468.4 365.4M461.6 361.9 L465.3 368.0M459.0 363.6 L461.8 370.1M444.2 365.9 L442.0 372.7M441.3 365.1 L438.2 371.5M438.5 363.9 L434.5 369.8M435.9 362.2 L431.1 367.5M433.5 360.3 L428.0 364.8M427.5 340.6 L420.7 338.4M428.3 337.7 L421.9 334.6M429.5 334.9 L423.6 330.9M431.2 332.3 L425.9 327.5M433.1 329.9 L428.6 324.4M435.4 327.9 L431.7 321.8M438.0 326.2 L435.2 319.7" fill="none" stroke="#fac01f" stroke-width="3.7" stroke-linecap="round"/>
<path d="M454.0 325.5 L456.2 319.2M456.7 326.4 L459.8 320.6M459.2 327.8 L463.1 322.5M461.6 329.5 L466.2 324.8M463.6 331.5 L468.9 327.5M465.4 333.8 L471.1 330.6M467.9 350.4 L474.2 352.6M467.0 353.1 L472.8 356.2M465.6 355.6 L470.9 359.5M463.9 358.0 L468.6 362.6M461.9 360.0 L465.9 365.3M459.6 361.8 L462.8 367.5M457.1 363.2 L459.5 369.4M443.0 364.3 L440.8 370.6M440.3 363.4 L437.2 369.2M437.8 362.0 L433.9 367.3M435.4 360.3 L430.8 365.0M433.4 358.3 L428.1 362.3M429.1 339.4 L422.8 337.2M430.0 336.7 L424.2 333.6M431.4 334.2 L426.1 330.3M433.1 331.8 L428.4 327.2M435.1 329.8 L431.1 324.5M437.4 328.0 L434.2 322.3M439.9 326.6 L437.5 320.4" fill="none" stroke="#cf9f14" stroke-width="0.5" stroke-opacity="0.55"/>
<path d="M452.8 323.3 L454.7 317.5M455.9 324.2 L458.5 318.7M458.7 325.4 L462.2 320.4M461.4 327.1 L465.5 322.6M463.8 329.1 L468.5 325.2M465.9 331.4 L471.1 328.3M470.1 349.2 L475.9 351.1M469.2 352.3 L474.7 354.9M468.0 355.1 L473.0 358.6M466.3 357.8 L470.8 361.9M464.3 360.2 L468.2 364.9M462.0 362.3 L465.1 367.5M459.3 364.0 L461.8 369.7M444.2 366.5 L442.3 372.3M441.1 365.6 L438.5 371.1M438.3 364.4 L434.8 369.4M435.6 362.7 L431.5 367.2M433.2 360.7 L428.5 364.6M426.9 340.6 L421.1 338.7M427.8 337.5 L422.3 334.9M429.0 334.7 L424.0 331.2M430.7 332.0 L426.2 327.9M432.7 329.6 L428.8 324.9M435.0 327.5 L431.9 322.3M437.7 325.8 L435.2 320.1" fill="none" stroke="#ffe57a" stroke-width="1.9" stroke-opacity="0.42" stroke-linecap="round"/>
<path d="M451.5 323.7 L454.9 315.4 L454.5 324.4 L459.1 316.6 L457.4 325.4 L463.0 318.4 L460.1 326.9 L466.6 320.7 L462.5 328.7 L469.9 323.5 L464.7 330.9 L472.7 326.8 L466.5 333.3M469.7 347.9 L478.0 351.3 L469.0 350.9 L476.8 355.5 L468.0 353.8 L475.0 359.4 L466.5 356.5 L472.7 363.0 L464.7 358.9 L469.9 366.3 L462.5 361.1 L466.6 369.1 L460.1 362.9 L463.0 371.4M445.5 366.1 L442.1 374.4 L442.5 365.4 L437.9 373.2 L439.6 364.4 L434.0 371.4 L436.9 362.9 L430.4 369.1 L434.5 361.1 L427.1 366.3M427.3 341.9 L419.0 338.5 L428.0 338.9 L420.2 334.3 L429.0 336.0 L422.0 330.4 L430.5 333.3 L424.3 326.8 L432.3 330.9 L427.1 323.5 L434.5 328.7 L430.4 320.7 L436.9 326.9 L434.0 318.4 L439.6 325.4" fill="none" stroke="#1a1a2a" stroke-width="0.45" stroke-opacity="0.2" stroke-linejoin="round"/>
<path d="M452.3 325.8 h0.6M455.0 326.6 h0.6M457.5 327.8 h0.6M459.9 329.3 h0.6M462.0 331.1 h0.6M463.8 333.2 h0.6M467.3 349.0 h0.6M466.5 351.7 h0.6M465.3 354.2 h0.6M463.8 356.6 h0.6M462.0 358.7 h0.6M459.9 360.5 h0.6M457.5 362.0 h0.6M444.1 364.0 h0.6M441.4 363.2 h0.6M438.9 362.0 h0.6M436.5 360.5 h0.6M434.4 358.7 h0.6M429.1 340.8 h0.6M429.9 338.1 h0.6M431.1 335.6 h0.6M432.6 333.2 h0.6M434.4 331.1 h0.6M436.5 329.3 h0.6M438.9 327.8 h0.6" stroke="#8a5a48" stroke-width="0.5" stroke-opacity="0.7"/>
<path d="M448.5 325.7 V330.5 M448.5 359.29999999999995 V364.09999999999997 M429.3 344.9 H434.1 M462.9 344.9 H467.7" stroke="#c9c9c9" stroke-width="0.5"/>
<text x="436.5" y="333.8" font-size="2.8" fill="#777" text-anchor="middle">XL</text>
<text x="460.5" y="333.8" font-size="2.8" fill="#777" text-anchor="middle">L</text>
<text x="460.5" y="357.8" font-size="2.8" fill="#777" text-anchor="middle">M</text>
<text x="436.5" y="357.8" font-size="2.8" fill="#777" text-anchor="middle">S</text>
<circle cx="448.5" cy="344.9" r="13.9" fill="#fbc12c"/>
<text x="438.50" y="343.70" font-size="4.3" fill="#fffdf2" font-weight="bold" textLength="20.00" lengthAdjust="spacingAndGlyphs" stroke="#fffdf2" stroke-width="0.12">RUNNING</text>
<text x="443.60" y="349.40" font-size="4.3" fill="#fffdf2" font-weight="bold" textLength="9.80" lengthAdjust="spacingAndGlyphs" stroke="#fffdf2" stroke-width="0.12">LOW</text>
<path d="M613.3 348.7 L615.5 340.0 L616.3 348.9M583.2 372.3 L591.9 370.1 L583.2 367.9" fill="none" stroke="#1c1c1c" stroke-width="0.52" stroke-linejoin="round"/>
<path d="M617.6 349.1 L619.8 342.3M620.5 349.9 L623.6 343.5M623.3 351.1 L627.3 345.2M625.9 352.8 L630.7 347.5M628.3 354.7 L633.8 350.2M630.3 357.0 L636.4 353.3M632.0 359.6 L638.5 356.8M633.3 362.3 L640.2 360.5M634.2 365.2 L641.3 364.4M634.7 368.3 L641.8 368.5M634.7 371.3 L641.7 372.5M634.3 374.4 L641.1 376.6M633.5 377.3 L639.9 380.4M632.3 380.1 L638.2 384.1M630.6 382.7 L635.9 387.5M628.7 385.1 L633.2 390.6M626.4 387.1 L630.1 393.2M623.8 388.8 L626.6 395.3M621.1 390.1 L622.9 397.0M618.2 391.0 L619.0 398.1M615.1 391.5 L614.9 398.6M612.1 391.5 L610.9 398.5M609.0 391.1 L606.8 397.9M606.1 390.3 L603.0 396.7M603.3 389.1 L599.3 395.0M600.7 387.4 L595.9 392.7M598.3 385.5 L592.8 390.0M596.3 383.2 L590.2 386.9M594.6 380.6 L588.1 383.4M593.3 377.9 L586.4 379.7M592.4 375.0 L585.3 375.8M592.3 365.8 L585.5 363.6M593.1 362.9 L586.7 359.8M594.3 360.1 L588.4 356.1M596.0 357.5 L590.7 352.7M597.9 355.1 L593.4 349.6M600.2 353.1 L596.5 347.0M602.8 351.4 L600.0 344.9M605.5 350.1 L603.7 343.2M608.4 349.2 L607.6 342.1M611.5 348.7 L611.7 341.6" fill="none" stroke="#27a6e2" stroke-width="3.7" stroke-linecap="round"/>
<path d="M618.8 350.7 L621.0 344.4M621.5 351.6 L624.6 345.8M624.0 353.0 L627.9 347.7M626.4 354.7 L631.0 350.0M628.4 356.7 L633.7 352.7M630.2 359.0 L635.9 355.8M631.6 361.5 L637.8 359.1M632.6 364.2 L639.1 362.7M633.3 367.0 L639.9 366.5M633.5 369.9 L640.1 370.3M633.3 372.8 L639.8 374.1M632.7 375.6 L639.0 377.8M631.8 378.3 L637.6 381.4M630.4 380.8 L635.7 384.7M628.7 383.2 L633.4 387.8M626.7 385.2 L630.7 390.5M624.4 387.0 L627.6 392.7M621.9 388.4 L624.3 394.6M619.2 389.4 L620.7 395.9M616.4 390.1 L616.9 396.7M613.5 390.3 L613.1 396.9M610.6 390.1 L609.3 396.6M607.8 389.5 L605.6 395.8M605.1 388.6 L602.0 394.4M602.6 387.2 L598.7 392.5M600.2 385.5 L595.6 390.2M598.2 383.5 L592.9 387.5M596.4 381.2 L590.7 384.4M595.0 378.7 L588.8 381.1M594.0 376.0 L587.5 377.5M593.3 373.2 L586.7 373.7M593.9 364.6 L587.6 362.4M594.8 361.9 L589.0 358.8M596.2 359.4 L590.9 355.5M597.9 357.0 L593.2 352.4M599.9 355.0 L595.9 349.7M602.2 353.2 L599.0 347.5M604.7 351.8 L602.3 345.6M607.4 350.8 L605.9 344.3M610.2 350.1 L609.7 343.5M613.1 349.9 L613.5 343.3" fill="none" stroke="#1a86c0" stroke-width="0.5" stroke-opacity="0.55"/>
<path d="M617.6 348.5 L619.5 342.7M620.7 349.4 L623.3 343.9M623.5 350.6 L627.0 345.6M626.2 352.3 L630.3 347.8M628.6 354.3 L633.3 350.4M630.7 356.6 L635.9 353.5M632.4 359.3 L638.1 356.8M633.8 362.1 L639.7 360.5M634.7 365.1 L640.8 364.4M635.2 368.2 L641.3 368.3M635.3 371.3 L641.3 372.3M634.9 374.4 L640.7 376.3M634.0 377.5 L639.5 380.1M632.8 380.3 L637.8 383.8M631.1 383.0 L635.6 387.1M629.1 385.4 L633.0 390.1M626.8 387.5 L629.9 392.7M624.1 389.2 L626.6 394.9M621.3 390.6 L622.9 396.5M618.3 391.5 L619.0 397.6M615.2 392.0 L615.1 398.1M612.1 392.1 L611.1 398.1M609.0 391.7 L607.1 397.5M605.9 390.8 L603.3 396.3M603.1 389.6 L599.6 394.6M600.4 387.9 L596.3 392.4M598.0 385.9 L593.3 389.8M595.9 383.6 L590.7 386.7M594.2 380.9 L588.5 383.4M592.8 378.1 L586.9 379.7M591.9 375.1 L585.8 375.8M591.7 365.8 L585.9 363.9M592.6 362.7 L587.1 360.1M593.8 359.9 L588.8 356.4M595.5 357.2 L591.0 353.1M597.5 354.8 L593.6 350.1M599.8 352.7 L596.7 347.5M602.5 351.0 L600.0 345.3M605.3 349.6 L603.7 343.7M608.3 348.7 L607.6 342.6M611.4 348.2 L611.5 342.1" fill="none" stroke="#8edaf9" stroke-width="1.9" stroke-opacity="0.42" stroke-linecap="round"/>
<path d="M619.7 340.6 L619.3 349.6 L623.9 341.8 L622.2 350.6 L627.8 343.6 L624.9 352.1 L631.4 345.9 L627.3 353.9 L634.7 348.7 L629.5 356.1 L637.5 352.0 L631.3 358.5 L639.8 355.6 L632.8 361.2 L641.6 359.5 L633.8 364.1 L642.8 363.7 L634.5 367.1 L643.4 367.9 L634.7 370.1 L643.4 372.3 L634.5 373.1 L642.8 376.5 L633.8 376.1 L641.6 380.7 L632.8 379.0 L639.8 384.6 L631.3 381.7 L637.5 388.2 L629.5 384.1 L634.7 391.5 L627.3 386.3 L631.4 394.3 L624.9 388.1 L627.8 396.6 L622.2 389.6 L623.9 398.4 L619.3 390.6 L619.7 399.6 L616.3 391.3 L615.5 400.2 L613.3 391.5 L611.1 400.2 L610.3 391.3 L606.9 399.6 L607.3 390.6 L602.7 398.4 L604.4 389.6 L598.8 396.6 L601.7 388.1 L595.2 394.3 L599.3 386.3 L591.9 391.5 L597.1 384.1 L589.1 388.2 L595.3 381.7 L586.8 384.6 L593.8 379.0 L585.0 380.7 L592.8 376.1 L583.8 376.5 L592.1 373.1M592.1 367.1 L583.8 363.7 L592.8 364.1 L585.0 359.5 L593.8 361.2 L586.8 355.6 L595.3 358.5 L589.1 352.0 L597.1 356.1 L591.9 348.7 L599.3 353.9 L595.2 345.9 L601.7 352.1 L598.8 343.6 L604.4 350.6 L602.7 341.8 L607.3 349.6 L606.9 340.6 L610.3 348.9 L611.1 340.0" fill="none" stroke="#1a1a2a" stroke-width="0.45" stroke-opacity="0.12" stroke-linejoin="round"/>
<path d="M617.1 351.0 h0.6M619.8 351.8 h0.6M622.3 353.0 h0.6M624.7 354.5 h0.6M626.8 356.3 h0.6M628.6 358.4 h0.6M630.1 360.8 h0.6M631.3 363.3 h0.6M632.1 366.0 h0.6M632.5 368.7 h0.6M632.5 371.5 h0.6M632.1 374.2 h0.6M631.3 376.9 h0.6M630.1 379.4 h0.6M628.6 381.8 h0.6M626.8 383.9 h0.6M624.7 385.7 h0.6M622.3 387.2 h0.6M619.8 388.4 h0.6M617.1 389.2 h0.6M614.4 389.6 h0.6M611.6 389.6 h0.6M608.9 389.2 h0.6M606.2 388.4 h0.6M603.7 387.2 h0.6M601.3 385.7 h0.6M599.2 383.9 h0.6M597.4 381.8 h0.6M595.9 379.4 h0.6M594.7 376.9 h0.6M593.9 374.2 h0.6M593.9 366.0 h0.6M594.7 363.3 h0.6M595.9 360.8 h0.6M597.4 358.4 h0.6M599.2 356.3 h0.6M601.3 354.5 h0.6M603.7 353.0 h0.6M606.2 351.8 h0.6M608.9 351.0 h0.6M611.6 350.6 h0.6" stroke="#8a5a48" stroke-width="0.5" stroke-opacity="0.7"/>
<path d="M613.3 350.90000000000003 V355.70000000000005 M613.3 384.5 V389.3 M594.0999999999999 370.1 H598.9 M627.6999999999999 370.1 H632.5" stroke="#c9c9c9" stroke-width="0.5"/>
<text x="601.3" y="359.0" font-size="2.8" fill="#777" text-anchor="middle">XL</text>
<text x="625.3" y="359.0" font-size="2.8" fill="#777" text-anchor="middle">L</text>
<text x="625.3" y="383.0" font-size="2.8" fill="#777" text-anchor="middle">M</text>
<text x="601.3" y="383.0" font-size="2.8" fill="#777" text-anchor="middle">S</text>
<circle cx="613.3" cy="370.1" r="13.9" fill="#2fb4ee"/>
<path d="M330.9 372.9 L333.1 364.2M359.2 383.7 L351.4 388.3 L360.4 387.9 L352.1 391.3 L361.0 392.1 L352.3 394.3 L361.0 396.5M355.1 412.4 L347.1 408.3 L352.3 415.7 L344.9 410.5 L349.0 418.5 L342.5 412.3 L345.4 420.8 L339.8 413.8 L341.5 422.6 L336.9 414.8 L337.3 423.8 L333.9 415.5 L333.1 424.4 L330.9 415.7 L328.7 424.4M312.8 418.5 L316.9 410.5 L309.5 415.7 L314.7 408.3 L306.7 412.4 L312.9 405.9 L304.4 408.8 L311.4 403.2 L302.6 404.9 L310.4 400.3 L301.4 400.7 L309.7 397.3 L300.8 396.5 L309.5 394.3 L300.8 392.1M322.0 374.8 L320.3 366.0 L324.9 373.8 L324.5 364.8 L327.9 373.1 L328.7 364.2 L330.9 372.9" fill="none" stroke="#1c1c1c" stroke-width="0.52" stroke-linejoin="round"/>
<path d="M335.2 373.3 L337.4 366.5M338.1 374.1 L341.2 367.7M340.9 375.3 L344.9 369.4M343.5 377.0 L348.3 371.7M345.9 378.9 L351.4 374.4M347.9 381.2 L354.0 377.5M349.6 383.8 L356.1 381.0M351.9 398.6 L358.7 400.8M351.1 401.5 L357.5 404.6M349.9 404.3 L355.8 408.3M326.6 415.3 L324.4 422.1M323.7 414.5 L320.6 420.9M320.9 413.3 L316.9 419.2M309.9 390.0 L303.1 387.8M310.7 387.1 L304.3 384.0M311.9 384.3 L306.0 380.3M313.6 381.7 L308.3 376.9M315.5 379.3 L311.0 373.8M317.8 377.3 L314.1 371.2M320.4 375.6 L317.6 369.1" fill="none" stroke="#ee1c25" stroke-width="3.7" stroke-linecap="round"/>
<path d="M336.4 374.9 L338.6 368.6M339.1 375.8 L342.2 370.0M341.6 377.2 L345.5 371.9M344.0 378.9 L348.6 374.2M346.0 380.9 L351.3 376.9M347.8 383.2 L353.5 380.0M349.2 385.7 L355.4 383.3M350.3 399.8 L356.6 402.0M349.4 402.5 L355.2 405.6M348.0 405.0 L353.3 408.9M325.4 413.7 L323.2 420.0M322.7 412.8 L319.6 418.6M320.2 411.4 L316.3 416.7M311.5 388.8 L305.2 386.6M312.4 386.1 L306.6 383.0M313.8 383.6 L308.5 379.7M315.5 381.2 L310.8 376.6M317.5 379.2 L313.5 373.9M319.8 377.4 L316.6 371.7M322.3 376.0 L319.9 369.8" fill="none" stroke="#b80f17" stroke-width="0.5" stroke-opacity="0.55"/>
<path d="M335.2 372.7 L337.1 366.9M338.3 373.6 L340.9 368.1M341.1 374.8 L344.6 369.8M343.8 376.5 L347.9 372.0M346.2 378.5 L350.9 374.6M348.3 380.8 L353.5 377.7M350.0 383.5 L355.7 381.0M352.5 398.6 L358.3 400.5M351.6 401.7 L357.1 404.3M350.4 404.5 L355.4 408.0M326.6 415.9 L324.7 421.7M323.5 415.0 L320.9 420.5M320.7 413.8 L317.2 418.8M309.3 390.0 L303.5 388.1M310.2 386.9 L304.7 384.3M311.4 384.1 L306.4 380.6M313.1 381.4 L308.6 377.3M315.1 379.0 L311.2 374.3M317.4 376.9 L314.3 371.7M320.1 375.2 L317.6 369.5" fill="none" stroke="#ff8488" stroke-width="1.9" stroke-opacity="0.42" stroke-linecap="round"/>
<path d="M333.9 373.1 L337.3 364.8 L336.9 373.8 L341.5 366.0 L339.8 374.8 L345.4 367.8 L342.5 376.3 L349.0 370.1 L344.9 378.1 L352.3 372.9 L347.1 380.3 L355.1 376.2 L348.9 382.7 L357.4 379.8 L350.4 385.4M352.1 397.3 L360.4 400.7 L351.4 400.3 L359.2 404.9 L350.4 403.2 L357.4 408.8 L348.9 405.9M327.9 415.5 L324.5 423.8 L324.9 414.8 L320.3 422.6 L322.0 413.8 L316.4 420.8 L319.3 412.3M309.7 391.3 L301.4 387.9 L310.4 388.3 L302.6 383.7 L311.4 385.4 L304.4 379.8 L312.9 382.7 L306.7 376.2 L314.7 380.3 L309.5 372.9 L316.9 378.1 L312.8 370.1 L319.3 376.3 L316.4 367.8" fill="none" stroke="#1a1a2a" stroke-width="0.45" stroke-opacity="0.16" stroke-linejoin="round"/>
<path d="M334.7 375.2 h0.6M337.4 376.0 h0.6M339.9 377.2 h0.6M342.3 378.7 h0.6M344.4 380.5 h0.6M346.2 382.6 h0.6M347.7 385.0 h0.6M349.7 398.4 h0.6M348.9 401.1 h0.6M347.7 403.6 h0.6M326.5 413.4 h0.6M323.8 412.6 h0.6M321.3 411.4 h0.6M311.5 390.2 h0.6M312.3 387.5 h0.6M313.5 385.0 h0.6M315.0 382.6 h0.6M316.8 380.5 h0.6M318.9 378.7 h0.6M321.3 377.2 h0.6" stroke="#8a5a48" stroke-width="0.5" stroke-opacity="0.7"/>
<path d="M330.9 375.1 V379.90000000000003 M330.9 408.7 V413.5 M311.7 394.3 H316.5 M345.29999999999995 394.3 H350.09999999999997" stroke="#c9c9c9" stroke-width="0.5"/>
<text x="318.9" y="383.2" font-size="2.8" fill="#777" text-anchor="middle">XL</text>
<text x="342.9" y="383.2" font-size="2.8" fill="#777" text-anchor="middle">L</text>
<text x="342.9" y="407.2" font-size="2.8" fill="#777" text-anchor="middle">M</text>
<text x="318.9" y="407.2" font-size="2.8" fill="#777" text-anchor="middle">S</text>
<circle cx="330.9" cy="394.3" r="13.9" fill="#f5262e"/>
<text x="321.80" y="393.90" font-size="4.4" fill="#fff" font-weight="bold" textLength="18.20" lengthAdjust="spacingAndGlyphs" stroke="#fff" stroke-width="0.22">NEED TO</text>
<text x="321.80" y="399.20" font-size="4.4" fill="#fff" font-weight="bold" textLength="18.20" lengthAdjust="spacingAndGlyphs" stroke="#fff" stroke-width="0.22">RESTOCK</text>
<path d="M440.1 412.3 L432.3 416.9 L441.3 416.5 L433.0 419.9 L441.9 420.7 L433.2 422.9 L441.9 425.1M400.2 404.9 L397.3 396.4 L402.9 403.4 L401.2 394.6 L405.8 402.4 L405.4 393.4 L408.8 401.7 L409.6 392.8 L411.8 401.5" fill="none" stroke="#1c1c1c" stroke-width="0.52" stroke-linejoin="round"/>
<path d="M413.0 401.5 L414.2 394.5M416.1 401.9 L418.3 395.1M419.0 402.7 L422.1 396.3M421.8 403.9 L425.8 398.0M424.4 405.6 L429.2 400.3M426.8 407.5 L432.3 403.0M428.8 409.8 L434.9 406.1M430.5 412.4 L437.0 409.6M432.8 427.2 L439.6 429.4M432.0 430.1 L438.4 433.2M430.8 432.9 L436.7 436.9M429.1 435.5 L434.4 440.3M427.2 437.9 L431.7 443.4M424.9 439.9 L428.6 446.0M422.3 441.6 L425.1 448.1M419.6 442.9 L421.4 449.8M416.7 443.8 L417.5 450.9M413.6 444.3 L413.4 451.4M410.6 444.3 L409.4 451.3M407.5 443.9 L405.3 450.7M404.6 443.1 L401.5 449.5M401.8 441.9 L397.8 447.8M399.2 440.2 L394.4 445.5M396.8 438.3 L391.3 442.8M394.8 436.0 L388.7 439.7M393.1 433.4 L386.6 436.2M391.8 430.7 L384.9 432.5M390.9 427.8 L383.8 428.6M390.4 424.7 L383.3 424.5M390.4 421.7 L383.4 420.5M390.8 418.6 L384.0 416.4M391.6 415.7 L385.2 412.6M392.8 412.9 L386.9 408.9M394.5 410.3 L389.2 405.5M396.4 407.9 L391.9 402.4M398.7 405.9 L395.0 399.8" fill="none" stroke="#fac01f" stroke-width="3.7" stroke-linecap="round"/>
<path d="M414.5 402.9 L415.8 396.4M417.3 403.5 L419.5 397.2M420.0 404.4 L423.1 398.6M422.5 405.8 L426.4 400.5M424.9 407.5 L429.5 402.8M426.9 409.5 L432.2 405.5M428.7 411.8 L434.4 408.6M430.1 414.3 L436.3 411.9M431.2 428.4 L437.5 430.6M430.3 431.1 L436.1 434.2M428.9 433.6 L434.2 437.5M427.2 436.0 L431.9 440.6M425.2 438.0 L429.2 443.3M422.9 439.8 L426.1 445.5M420.4 441.2 L422.8 447.4M417.7 442.2 L419.2 448.7M414.9 442.9 L415.4 449.5M412.0 443.1 L411.6 449.7M409.1 442.9 L407.8 449.4M406.3 442.3 L404.1 448.6M403.6 441.4 L400.5 447.2M401.1 440.0 L397.2 445.3M398.7 438.3 L394.1 443.0M396.7 436.3 L391.4 440.3M394.9 434.0 L389.2 437.2M393.5 431.5 L387.3 433.9M392.5 428.8 L386.0 430.3M391.8 426.0 L385.2 426.5M391.6 423.1 L385.0 422.7M391.8 420.2 L385.3 418.9M392.4 417.4 L386.1 415.2M393.3 414.7 L387.5 411.6M394.7 412.2 L389.4 408.3M396.4 409.8 L391.7 405.2M398.4 407.8 L394.4 402.5M400.7 406.0 L397.5 400.3" fill="none" stroke="#cf9f14" stroke-width="0.5" stroke-opacity="0.55"/>
<path d="M413.0 400.9 L414.0 394.9M416.1 401.3 L418.0 395.5M419.2 402.2 L421.8 396.7M422.0 403.4 L425.5 398.4M424.7 405.1 L428.8 400.6M427.1 407.1 L431.8 403.2M429.2 409.4 L434.4 406.3M430.9 412.1 L436.6 409.6M433.4 427.2 L439.2 429.1M432.5 430.3 L438.0 432.9M431.3 433.1 L436.3 436.6M429.6 435.8 L434.1 439.9M427.6 438.2 L431.5 442.9M425.3 440.3 L428.4 445.5M422.6 442.0 L425.1 447.7M419.8 443.4 L421.4 449.3M416.8 444.3 L417.5 450.4M413.7 444.8 L413.6 450.9M410.6 444.9 L409.6 450.9M407.5 444.5 L405.6 450.3M404.4 443.6 L401.8 449.1M401.6 442.4 L398.1 447.4M398.9 440.7 L394.8 445.2M396.5 438.7 L391.8 442.6M394.4 436.4 L389.2 439.5M392.7 433.7 L387.0 436.2M391.3 430.9 L385.4 432.5M390.4 427.9 L384.3 428.6M389.9 424.8 L383.8 424.7M389.8 421.7 L383.8 420.7M390.2 418.6 L384.4 416.7M391.1 415.5 L385.6 412.9M392.3 412.7 L387.3 409.2M394.0 410.0 L389.5 405.9M396.0 407.6 L392.1 402.9M398.3 405.5 L395.2 400.3" fill="none" stroke="#ffe57a" stroke-width="1.9" stroke-opacity="0.42" stroke-linecap="round"/>
<path d="M414.0 392.8 L414.8 401.7 L418.2 393.4 L417.8 402.4 L422.4 394.6 L420.7 403.4 L426.3 396.4 L423.4 404.9 L429.9 398.7 L425.8 406.7 L433.2 401.5 L428.0 408.9 L436.0 404.8 L429.8 411.3 L438.3 408.4 L431.3 414.0M433.0 425.9 L441.3 429.3 L432.3 428.9 L440.1 433.5 L431.3 431.8 L438.3 437.4 L429.8 434.5 L436.0 441.0 L428.0 436.9 L433.2 444.3 L425.8 439.1 L429.9 447.1 L423.4 440.9 L426.3 449.4 L420.7 442.4 L422.4 451.2 L417.8 443.4 L418.2 452.4 L414.8 444.1 L414.0 453.0 L411.8 444.3 L409.6 453.0 L408.8 444.1 L405.4 452.4 L405.8 443.4 L401.2 451.2 L402.9 442.4 L397.3 449.4 L400.2 440.9 L393.7 447.1 L397.8 439.1 L390.4 444.3 L395.6 436.9 L387.6 441.0 L393.8 434.5 L385.3 437.4 L392.3 431.8 L383.5 433.5 L391.3 428.9 L382.3 429.3 L390.6 425.9 L381.7 425.1 L390.4 422.9 L381.7 420.7 L390.6 419.9 L382.3 416.5 L391.3 416.9 L383.5 412.3 L392.3 414.0 L385.3 408.4 L393.8 411.3 L387.6 404.8 L395.6 408.9 L390.4 401.5 L397.8 406.7 L393.7 398.7" fill="none" stroke="#1a1a2a" stroke-width="0.45" stroke-opacity="0.2" stroke-linejoin="round"/>
<path d="M412.9 403.4 h0.6M415.6 403.8 h0.6M418.3 404.6 h0.6M420.8 405.8 h0.6M423.2 407.3 h0.6M425.3 409.1 h0.6M427.1 411.2 h0.6M428.6 413.6 h0.6M430.6 427.0 h0.6M429.8 429.7 h0.6M428.6 432.2 h0.6M427.1 434.6 h0.6M425.3 436.7 h0.6M423.2 438.5 h0.6M420.8 440.0 h0.6M418.3 441.2 h0.6M415.6 442.0 h0.6M412.9 442.4 h0.6M410.1 442.4 h0.6M407.4 442.0 h0.6M404.7 441.2 h0.6M402.2 440.0 h0.6M399.8 438.5 h0.6M397.7 436.7 h0.6M395.9 434.6 h0.6M394.4 432.2 h0.6M393.2 429.7 h0.6M392.4 427.0 h0.6M392.0 424.3 h0.6M392.0 421.5 h0.6M392.4 418.8 h0.6M393.2 416.1 h0.6M394.4 413.6 h0.6M395.9 411.2 h0.6M397.7 409.1 h0.6M399.8 407.3 h0.6" stroke="#8a5a48" stroke-width="0.5" stroke-opacity="0.7"/>
<path d="M411.8 403.7 V408.5 M411.8 437.29999999999995 V442.09999999999997 M392.6 422.9 H397.40000000000003 M426.2 422.9 H431.0" stroke="#c9c9c9" stroke-width="0.5"/>
<text x="399.8" y="411.8" font-size="2.8" fill="#777" text-anchor="middle">XL</text>
<text x="423.8" y="411.8" font-size="2.8" fill="#777" text-anchor="middle">L</text>
<text x="423.8" y="435.8" font-size="2.8" fill="#777" text-anchor="middle">M</text>
<text x="399.8" y="435.8" font-size="2.8" fill="#777" text-anchor="middle">S</text>
<circle cx="411.8" cy="422.9" r="13.9" fill="#fbc12c"/>
<text x="401.80" y="421.70" font-size="4.3" fill="#fffdf2" font-weight="bold" textLength="20.00" lengthAdjust="spacingAndGlyphs" stroke="#fffdf2" stroke-width="0.12">RUNNING</text>
<text x="406.90" y="427.40" font-size="4.3" fill="#fffdf2" font-weight="bold" textLength="9.80" lengthAdjust="spacingAndGlyphs" stroke="#fffdf2" stroke-width="0.12">LOW</text>
<path d="M474.3 401.3 L476.5 392.6M492.4 398.5 L488.3 406.5 L495.7 401.3 L490.5 408.7 L498.5 404.6 L492.3 411.1 L500.8 408.2 L493.8 413.8 L502.6 412.1 L494.8 416.7 L503.8 416.3 L495.5 419.7 L504.4 420.5 L495.7 422.7 L504.4 424.9M480.3 443.2 L480.7 452.2 L477.3 443.9 L476.5 452.8 L474.3 444.1 L472.1 452.8M460.3 438.9 L452.9 444.1 L458.1 436.7 L450.1 440.8 L456.3 434.3 L447.8 437.2 L454.8 431.6 L446.0 433.3 L453.8 428.7 L444.8 429.1 L453.1 425.7M447.8 408.2 L456.3 411.1 L450.1 404.6 L458.1 408.7 L452.9 401.3 L460.3 406.5 L456.2 398.5 L462.7 404.7 L459.8 396.2 L465.4 403.2 L463.7 394.4 L468.3 402.2 L467.9 393.2 L471.3 401.5 L472.1 392.6 L474.3 401.3" fill="none" stroke="#1c1c1c" stroke-width="0.52" stroke-linejoin="round"/>
<path d="M478.6 401.7 L480.8 394.9M481.5 402.5 L484.6 396.1M484.3 403.7 L488.3 397.8M495.3 427.0 L502.1 429.2M494.5 429.9 L500.9 433.0M493.3 432.7 L499.2 436.7M491.6 435.3 L496.9 440.1M489.7 437.7 L494.2 443.2M487.4 439.7 L491.1 445.8M484.8 441.4 L487.6 447.9M482.1 442.7 L483.9 449.6M470.0 443.7 L467.8 450.5M467.1 442.9 L464.0 449.3M464.3 441.7 L460.3 447.6M461.7 440.0 L456.9 445.3M452.9 424.5 L445.8 424.3M452.9 421.5 L445.9 420.3M453.3 418.4 L446.5 416.2M454.1 415.5 L447.7 412.4" fill="none" stroke="#ee1c25" stroke-width="3.7" stroke-linecap="round"/>
<path d="M479.8 403.3 L482.0 397.0M482.5 404.2 L485.6 398.4M485.0 405.6 L488.9 400.3M493.7 428.2 L500.0 430.4M492.8 430.9 L498.6 434.0M491.4 433.4 L496.7 437.3M489.7 435.8 L494.4 440.4M487.7 437.8 L491.7 443.1M485.4 439.6 L488.6 445.3M482.9 441.0 L485.3 447.2M480.2 442.0 L481.7 448.5M468.8 442.1 L466.6 448.4M466.1 441.2 L463.0 447.0M463.6 439.8 L459.7 445.1M461.2 438.1 L456.6 442.8M454.1 422.9 L447.5 422.5M454.3 420.0 L447.8 418.7M454.9 417.2 L448.6 415.0M455.8 414.5 L450.0 411.4" fill="none" stroke="#b80f17" stroke-width="0.5" stroke-opacity="0.55"/>
<path d="M478.6 401.1 L480.5 395.3M481.7 402.0 L484.3 396.5M484.5 403.2 L488.0 398.2M495.9 427.0 L501.7 428.9M495.0 430.1 L500.5 432.7M493.8 432.9 L498.8 436.4M492.1 435.6 L496.6 439.7M490.1 438.0 L494.0 442.7M487.8 440.1 L490.9 445.3M485.1 441.8 L487.6 447.5M482.3 443.2 L483.9 449.1M470.0 444.3 L468.1 450.1M466.9 443.4 L464.3 448.9M464.1 442.2 L460.6 447.2M461.4 440.5 L457.3 445.0M452.4 424.6 L446.3 424.5M452.3 421.5 L446.3 420.5M452.7 418.4 L446.9 416.5M453.6 415.3 L448.1 412.7" fill="none" stroke="#ff8488" stroke-width="1.9" stroke-opacity="0.42" stroke-linecap="round"/>
<path d="M477.3 401.5 L480.7 393.2 L480.3 402.2 L484.9 394.4 L483.2 403.2 L488.8 396.2 L485.9 404.7M495.5 425.7 L503.8 429.1 L494.8 428.7 L502.6 433.3 L493.8 431.6 L500.8 437.2 L492.3 434.3 L498.5 440.8 L490.5 436.7 L495.7 444.1 L488.3 438.9 L492.4 446.9 L485.9 440.7 L488.8 449.2 L483.2 442.2 L484.9 451.0M471.3 443.9 L467.9 452.2 L468.3 443.2 L463.7 451.0 L465.4 442.2 L459.8 449.2 L462.7 440.7 L456.2 446.9M444.2 424.9 L452.9 422.7 L444.2 420.5 L453.1 419.7 L444.8 416.3 L453.8 416.7 L446.0 412.1 L454.8 413.8" fill="none" stroke="#1a1a2a" stroke-width="0.45" stroke-opacity="0.16" stroke-linejoin="round"/>
<path d="M478.1 403.6 h0.6M480.8 404.4 h0.6M483.3 405.6 h0.6M493.1 426.8 h0.6M492.3 429.5 h0.6M491.1 432.0 h0.6M489.6 434.4 h0.6M487.8 436.5 h0.6M485.7 438.3 h0.6M483.3 439.8 h0.6M480.8 441.0 h0.6M469.9 441.8 h0.6M467.2 441.0 h0.6M464.7 439.8 h0.6M462.3 438.3 h0.6M454.5 424.1 h0.6M454.5 421.3 h0.6M454.9 418.6 h0.6M455.7 415.9 h0.6" stroke="#8a5a48" stroke-width="0.5" stroke-opacity="0.7"/>
<path d="M474.3 403.5 V408.3 M474.3 437.09999999999997 V441.9 M455.1 422.7 H459.90000000000003 M488.7 422.7 H493.5" stroke="#c9c9c9" stroke-width="0.5"/>
<text x="462.3" y="411.6" font-size="2.8" fill="#777" text-anchor="middle">XL</text>
<text x="486.3" y="411.6" font-size="2.8" fill="#777" text-anchor="middle">L</text>
<text x="486.3" y="435.6" font-size="2.8" fill="#777" text-anchor="middle">M</text>
<text x="462.3" y="435.6" font-size="2.8" fill="#777" text-anchor="middle">S</text>
<circle cx="474.3" cy="422.7" r="13.9" fill="#f5262e"/>
<text x="465.20" y="422.30" font-size="4.4" fill="#fff" font-weight="bold" textLength="18.20" lengthAdjust="spacingAndGlyphs" stroke="#fff" stroke-width="0.22">NEED TO</text>
<text x="465.20" y="427.60" font-size="4.4" fill="#fff" font-weight="bold" textLength="18.20" lengthAdjust="spacingAndGlyphs" stroke="#fff" stroke-width="0.22">RESTOCK</text>
<path d="M537.5 401.5 L539.7 392.8M558.9 401.5 L553.7 408.9 L561.7 404.8 L555.5 411.3 L564.0 408.4 L557.0 414.0 L565.8 412.3 L558.0 416.9 L567.0 416.5 L558.7 419.9 L567.6 420.7 L558.9 422.9 L567.6 425.1M552.0 449.4 L546.4 442.4 L548.1 451.2 L543.5 443.4 L543.9 452.4 L540.5 444.1 L539.7 453.0 L537.5 444.3 L535.3 453.0M513.3 441.0 L519.5 434.5 L511.0 437.4 L518.0 431.8 L509.2 433.5 L517.0 428.9 L508.0 429.3 L516.3 425.9 L507.4 425.1 L516.1 422.9 L507.4 420.7M531.5 402.4 L531.1 393.4 L534.5 401.7 L535.3 392.8 L537.5 401.5" fill="none" stroke="#1c1c1c" stroke-width="0.52" stroke-linejoin="round"/>
<path d="M541.8 401.9 L544.0 395.1M544.7 402.7 L547.8 396.3M547.5 403.9 L551.5 398.0M550.1 405.6 L554.9 400.3M558.5 427.2 L565.3 429.4M557.7 430.1 L564.1 433.2M556.5 432.9 L562.4 436.9M554.8 435.5 L560.1 440.3M552.9 437.9 L557.4 443.4M550.6 439.9 L554.3 446.0M533.2 443.9 L531.0 450.7M530.3 443.1 L527.2 449.5M527.5 441.9 L523.5 447.8M524.9 440.2 L520.1 445.5M522.5 438.3 L517.0 442.8M516.5 418.6 L509.7 416.4M517.3 415.7 L510.9 412.6M518.5 412.9 L512.6 408.9M520.2 410.3 L514.9 405.5M522.1 407.9 L517.6 402.4M524.4 405.9 L520.7 399.8M527.0 404.2 L524.2 397.7M529.7 402.9 L527.9 396.0" fill="none" stroke="#fac01f" stroke-width="3.7" stroke-linecap="round"/>
<path d="M543.0 403.5 L545.2 397.2M545.7 404.4 L548.8 398.6M548.2 405.8 L552.1 400.5M550.6 407.5 L555.2 402.8M556.9 428.4 L563.2 430.6M556.0 431.1 L561.8 434.2M554.6 433.6 L559.9 437.5M552.9 436.0 L557.6 440.6M550.9 438.0 L554.9 443.3M548.6 439.8 L551.8 445.5M532.0 442.3 L529.8 448.6M529.3 441.4 L526.2 447.2M526.8 440.0 L522.9 445.3M524.4 438.3 L519.8 443.0M522.4 436.3 L517.1 440.3M518.1 417.4 L511.8 415.2M519.0 414.7 L513.2 411.6M520.4 412.2 L515.1 408.3M522.1 409.8 L517.4 405.2M524.1 407.8 L520.1 402.5M526.4 406.0 L523.2 400.3M528.9 404.6 L526.5 398.4M531.6 403.6 L530.1 397.1" fill="none" stroke="#cf9f14" stroke-width="0.5" stroke-opacity="0.55"/>
<path d="M541.8 401.3 L543.7 395.5M544.9 402.2 L547.5 396.7M547.7 403.4 L551.2 398.4M550.4 405.1 L554.5 400.6M559.1 427.2 L564.9 429.1M558.2 430.3 L563.7 432.9M557.0 433.1 L562.0 436.6M555.3 435.8 L559.8 439.9M553.3 438.2 L557.2 442.9M551.0 440.3 L554.1 445.5M533.2 444.5 L531.3 450.3M530.1 443.6 L527.5 449.1M527.3 442.4 L523.8 447.4M524.6 440.7 L520.5 445.2M522.2 438.7 L517.5 442.6M515.9 418.6 L510.1 416.7M516.8 415.5 L511.3 412.9M518.0 412.7 L513.0 409.2M519.7 410.0 L515.2 405.9M521.7 407.6 L517.8 402.9M524.0 405.5 L520.9 400.3M526.7 403.8 L524.2 398.1M529.5 402.4 L527.9 396.5" fill="none" stroke="#ffe57a" stroke-width="1.9" stroke-opacity="0.42" stroke-linecap="round"/>
<path d="M540.5 401.7 L543.9 393.4 L543.5 402.4 L548.1 394.6 L546.4 403.4 L552.0 396.4 L549.1 404.9 L555.6 398.7 L551.5 406.7M558.7 425.9 L567.0 429.3 L558.0 428.9 L565.8 433.5 L557.0 431.8 L564.0 437.4 L555.5 434.5 L561.7 441.0 L553.7 436.9 L558.9 444.3 L551.5 439.1 L555.6 447.1 L549.1 440.9M534.5 444.1 L531.1 452.4 L531.5 443.4 L526.9 451.2 L528.6 442.4 L523.0 449.4 L525.9 440.9 L519.4 447.1 L523.5 439.1 L516.1 444.3 L521.3 436.9M516.3 419.9 L508.0 416.5 L517.0 416.9 L509.2 412.3 L518.0 414.0 L511.0 408.4 L519.5 411.3 L513.3 404.8 L521.3 408.9 L516.1 401.5 L523.5 406.7 L519.4 398.7 L525.9 404.9 L523.0 396.4 L528.6 403.4 L526.9 394.6" fill="none" stroke="#1a1a2a" stroke-width="0.45" stroke-opacity="0.2" stroke-linejoin="round"/>
<path d="M541.3 403.8 h0.6M544.0 404.6 h0.6M546.5 405.8 h0.6M548.9 407.3 h0.6M556.3 427.0 h0.6M555.5 429.7 h0.6M554.3 432.2 h0.6M552.8 434.6 h0.6M551.0 436.7 h0.6M548.9 438.5 h0.6M533.1 442.0 h0.6M530.4 441.2 h0.6M527.9 440.0 h0.6M525.5 438.5 h0.6M523.4 436.7 h0.6M518.1 418.8 h0.6M518.9 416.1 h0.6M520.1 413.6 h0.6M521.6 411.2 h0.6M523.4 409.1 h0.6M525.5 407.3 h0.6M527.9 405.8 h0.6M530.4 404.6 h0.6" stroke="#8a5a48" stroke-width="0.5" stroke-opacity="0.7"/>
<path d="M537.5 403.7 V408.5 M537.5 437.29999999999995 V442.09999999999997 M518.3 422.9 H523.1 M551.9 422.9 H556.7" stroke="#c9c9c9" stroke-width="0.5"/>
<text x="525.5" y="411.8" font-size="2.8" fill="#777" text-anchor="middle">XL</text>
<text x="549.5" y="411.8" font-size="2.8" fill="#777" text-anchor="middle">L</text>
<text x="549.5" y="435.8" font-size="2.8" fill="#777" text-anchor="middle">M</text>
<text x="525.5" y="435.8" font-size="2.8" fill="#777" text-anchor="middle">S</text>
<circle cx="537.5" cy="422.9" r="13.9" fill="#fbc12c"/>
<text x="527.50" y="421.70" font-size="4.3" fill="#fffdf2" font-weight="bold" textLength="20.00" lengthAdjust="spacingAndGlyphs" stroke="#fffdf2" stroke-width="0.12">RUNNING</text>
<text x="532.60" y="427.40" font-size="4.3" fill="#fffdf2" font-weight="bold" textLength="9.80" lengthAdjust="spacingAndGlyphs" stroke="#fffdf2" stroke-width="0.12">LOW</text>
<circle cx="173.9" cy="167.9" r="12.6" fill="#fff" stroke="#cfcfcf" stroke-width="0.5"/>
<path d="M173.9 154.70000000000002 v1.2 M173.9 179.9 v1.2 M160.70000000000002 167.9 h1.2 M185.9 167.9 h1.2" stroke="#cfcfcf" stroke-width="0.4"/>
<path transform="translate(174.20 168.51) scale(1.077 1.031)" d="M-5.2 -0.6 Q-3.6 1.2 -2 1 L-1.8 -1.6 Q-1.6 -3.4 -0.6 -3 Q0 -2.6 0.6 -3 Q1.6 -3.4 1.8 -1.6 L2 1 Q3.6 1.2 5.2 -0.6 Q4.4 2.6 0 3 Q-4.4 2.6 -5.2 -0.6Z" fill="#0a0a0a"/>
<rect x="179.3" y="148.35" width="43.9" height="1.1" fill="#9a80c2"/>
<path d="M179.6 148.9 l-1.1 1.0" stroke="#9a80c2" stroke-width="0.8" stroke-linecap="round"/>
<rect x="191.8" y="164.35" width="31.4" height="1.1" fill="#9c9c9c"/>
<text x="186.91" y="154.10" font-size="2.6" fill="#0a0a0a" font-weight="bold" textLength="35.19" lengthAdjust="spacingAndGlyphs" stroke="#0a0a0a" stroke-width="0.15">Men's Cowboy Hat #138</text>
<text x="213.14" y="158.30" font-size="2.6" fill="#0a0a0a" font-weight="bold" textLength="8.96" lengthAdjust="spacingAndGlyphs" stroke="#0a0a0a" stroke-width="0.15">9 sold</text>
<text x="207.46" y="162.30" font-size="2.6" fill="#0a0a0a" font-weight="bold" textLength="14.64" lengthAdjust="spacingAndGlyphs" stroke="#0a0a0a" stroke-width="0.15">5 in Stock</text>
<path d="M224.80 149.20 h6.0 v5.48 l-3.00 1.92 l-3.00 -1.92z" fill="#fbbd1e"/>
<rect x="226.10" y="151.56" width="3.4" height="1.2" fill="#fff4cf"/>
<circle cx="108.5" cy="245.9" r="12.6" fill="#fff" stroke="#cfcfcf" stroke-width="0.5"/>
<path d="M108.5 232.70000000000002 v1.2 M108.5 257.9 v1.2 M95.3 245.9 h1.2 M120.5 245.9 h1.2" stroke="#cfcfcf" stroke-width="0.4"/>
<path transform="translate(109.20 246.10) scale(1.565 1.635)" d="M-2.2 -5.2 H2.2 L2.3 5.2 H0.4 L0 -2.6 L-0.4 5.2 H-2.3Z" fill="#0a0a0a"/>
<rect x="126.9" y="242.75" width="31.0" height="1.1" fill="#9c9c9c"/>
<rect x="114.8" y="258.95" width="43.1" height="1.1" fill="#9a80c2"/>
<path d="M115.1 259.5 l-1.1 -1.0" stroke="#9a80c2" stroke-width="0.8" stroke-linecap="round"/>
<text x="121.90" y="248.40" font-size="2.6" fill="#0a0a0a" font-weight="bold" textLength="35.20" lengthAdjust="spacingAndGlyphs" stroke="#0a0a0a" stroke-width="0.15">Men's Dress Pants #612</text>
<text x="148.14" y="252.50" font-size="2.6" fill="#0a0a0a" font-weight="bold" textLength="8.96" lengthAdjust="spacingAndGlyphs" stroke="#0a0a0a" stroke-width="0.15">1 sold</text>
<text x="142.46" y="256.50" font-size="2.6" fill="#0a0a0a" font-weight="bold" textLength="14.64" lengthAdjust="spacingAndGlyphs" stroke="#0a0a0a" stroke-width="0.15">3 in Stock</text>
<path d="M159.80 243.50 h6.0 v5.48 l-3.00 1.92 l-3.00 -1.92z" fill="#fbbd1e"/>
<rect x="161.10" y="245.86" width="3.4" height="1.2" fill="#fff4cf"/>
<circle cx="70.1" cy="265.1" r="12.6" fill="#fff" stroke="#cfcfcf" stroke-width="0.5"/>
<path d="M70.1 251.90000000000003 v1.2 M70.1 277.1 v1.2 M56.89999999999999 265.1 h1.2 M82.1 265.1 h1.2" stroke="#cfcfcf" stroke-width="0.4"/>
<path transform="translate(70.05 265.94) scale(1.453 1.288)" d="M-1.2 -5 Q0 -6.4 1.2 -5 L1.4 -4 Q3 -3.6 3.2 -2 L3.2 4.6 Q0 5.4 -3.2 4.6 L-3.2 -2 Q-3 -3.6 -1.4 -4Z" fill="#0a0a0a"/>
<rect x="20.0" y="277.65" width="1.0" height="1.1" fill="#9c9c9c"/>
<rect x="22.0" y="294.25" width="41.2" height="1.1" fill="#9a80c2"/>
<path d="M62.9 294.8 l1.1 -1.0" stroke="#9a80c2" stroke-width="0.8" stroke-linecap="round"/>
<text x="36.64" y="283.20" font-size="2.6" fill="#0a0a0a" font-weight="bold" textLength="23.66" lengthAdjust="spacingAndGlyphs" stroke="#0a0a0a" stroke-width="0.15">Men's Vest #448</text>
<text x="51.34" y="287.50" font-size="2.6" fill="#0a0a0a" font-weight="bold" textLength="8.96" lengthAdjust="spacingAndGlyphs" stroke="#0a0a0a" stroke-width="0.15">4 sold</text>
<text x="45.66" y="291.70" font-size="2.6" fill="#0a0a0a" font-weight="bold" textLength="14.64" lengthAdjust="spacingAndGlyphs" stroke="#0a0a0a" stroke-width="0.15">5 in Stock</text>
<path d="M63.20 279.10 h6.0 v5.48 l-3.00 1.92 l-3.00 -1.92z" fill="#fbbd1e"/>
<rect x="64.50" y="281.46" width="3.4" height="1.2" fill="#fff4cf"/>
<circle cx="108.5" cy="284.0" r="12.6" fill="#fff" stroke="#cfcfcf" stroke-width="0.5"/>
<path d="M108.5 270.8 v1.2 M108.5 296.0 v1.2 M95.3 284.0 h1.2 M120.5 284.0 h1.2" stroke="#cfcfcf" stroke-width="0.4"/>
<path transform="translate(108.60 284.44) scale(1.306 1.418)" d="M-1.4 -5 L0 -2.4 L1.4 -5 Q3.4 -4.4 3.6 -2.6 L3.6 4.8 H-3.6 L-3.6 -2.6 Q-3.4 -4.4 -1.4 -5Z" fill="#0a0a0a"/>
<rect x="126.9" y="286.75" width="31.0" height="1.1" fill="#9c9c9c"/>
<rect x="114.8" y="302.45" width="43.1" height="1.1" fill="#9a80c2"/>
<path d="M115.1 303.0 l-1.1 -1.0" stroke="#9a80c2" stroke-width="0.8" stroke-linecap="round"/>
<text x="126.22" y="292.20" font-size="2.6" fill="#0a0a0a" font-weight="bold" textLength="30.88" lengthAdjust="spacingAndGlyphs" stroke="#0a0a0a" stroke-width="0.15">Men's Suit Coat #231</text>
<text x="148.14" y="296.30" font-size="2.6" fill="#0a0a0a" font-weight="bold" textLength="8.96" lengthAdjust="spacingAndGlyphs" stroke="#0a0a0a" stroke-width="0.15">5 sold</text>
<text x="142.46" y="300.50" font-size="2.6" fill="#0a0a0a" font-weight="bold" textLength="14.64" lengthAdjust="spacingAndGlyphs" stroke="#0a0a0a" stroke-width="0.15">0 in Stock</text>
<path d="M159.80 287.80 h6.0 v5.48 l-3.00 1.92 l-3.00 -1.92z" fill="#ee1c25"/>
<path d="M161.60 289.56 l2.4 2.4 M164.00 289.56 l-2.4 2.4" stroke="#fff" stroke-width="0.95"/>
<circle cx="372.1" cy="193.2" r="12.6" fill="#fff" stroke="#cfcfcf" stroke-width="0.5"/>
<path d="M372.1 180.0 v1.2 M372.1 205.2 v1.2 M358.90000000000003 193.2 h1.2 M384.1 193.2 h1.2" stroke="#cfcfcf" stroke-width="0.4"/>
<path transform="translate(372.40 193.30) scale(1.010 1.250)" d="M-1.4 -4.6 Q0 -3.6 1.4 -4.6 L3.4 -3.8 Q4.2 -3.2 4.4 -1.8 L5.2 3.6 L3.6 4 L2.7 -0.4 L2.7 4.6 H-2.7 L-2.7 -0.4 L-3.6 4 L-5.2 3.6 L-4.4 -1.8 Q-4.2 -3.2 -3.4 -3.8Z" fill="#0a0a0a"/>
<rect x="394.6" y="184.95" width="31.2" height="1.1" fill="#9c9c9c"/>
<rect x="382.5" y="205.45" width="43.3" height="1.1" fill="#9a80c2"/>
<path d="M382.8 206.0 l-1.1 -1.0" stroke="#9a80c2" stroke-width="0.8" stroke-linecap="round"/>
<text x="387.18" y="191.10" font-size="2.6" fill="#0a0a0a" font-weight="bold" textLength="37.42" lengthAdjust="spacingAndGlyphs" stroke="#0a0a0a" stroke-width="0.15">Men's Long-sleeved Shirt</text>
<text x="417.70" y="195.20" font-size="2.6" fill="#0a0a0a" font-weight="bold" textLength="6.90" lengthAdjust="spacingAndGlyphs" stroke="#0a0a0a" stroke-width="0.15">#595</text>
<text x="415.64" y="199.30" font-size="2.6" fill="#0a0a0a" font-weight="bold" textLength="8.96" lengthAdjust="spacingAndGlyphs" stroke="#0a0a0a" stroke-width="0.15">2 sold</text>
<text x="409.96" y="203.30" font-size="2.6" fill="#0a0a0a" font-weight="bold" textLength="14.64" lengthAdjust="spacingAndGlyphs" stroke="#0a0a0a" stroke-width="0.15">8 in Stock</text>
<path d="M427.60 186.00 h6.0 v5.48 l-3.00 1.92 l-3.00 -1.92z" fill="#16a64a"/>
<path d="M429.10 189.06 l1.1 1.2 l2 -2.7" stroke="#fff" stroke-width="0.95" fill="none"/>
<circle cx="528.2" cy="180.1" r="12.6" fill="#fff" stroke="#cfcfcf" stroke-width="0.5"/>
<path d="M528.2 166.9 v1.2 M528.2 192.1 v1.2 M515.0 180.1 h1.2 M540.2 180.1 h1.2" stroke="#cfcfcf" stroke-width="0.4"/>
<path transform="translate(528.40 180.20) scale(1.196 1.030)" d="M-2 -5 L-1.2 -5 Q0 -2.6 1.2 -5 L2 -5 Q2 -2.6 2.8 -1.6 L2.6 5 H-2.6 L-2.8 -1.6 Q-2 -2.6 -2 -5Z" fill="#0a0a0a"/>
<rect x="539.8" y="149.65" width="43.3" height="1.1" fill="#9a80c2"/>
<path d="M540.1 150.2 l-1.1 1.0" stroke="#9a80c2" stroke-width="0.8" stroke-linecap="round"/>
<rect x="551.6" y="165.95" width="31.5" height="1.1" fill="#9c9c9c"/>
<text x="546.37" y="155.10" font-size="2.6" fill="#0a0a0a" font-weight="bold" textLength="35.53" lengthAdjust="spacingAndGlyphs" stroke="#0a0a0a" stroke-width="0.15">Women's Tank Top #254</text>
<text x="572.94" y="159.20" font-size="2.6" fill="#0a0a0a" font-weight="bold" textLength="8.96" lengthAdjust="spacingAndGlyphs" stroke="#0a0a0a" stroke-width="0.15">9 sold</text>
<text x="567.26" y="163.20" font-size="2.6" fill="#0a0a0a" font-weight="bold" textLength="14.64" lengthAdjust="spacingAndGlyphs" stroke="#0a0a0a" stroke-width="0.15">2 in Stock</text>
<path d="M584.90 150.80 h6.0 v5.48 l-3.00 1.92 l-3.00 -1.92z" fill="#ee1c25"/>
<path d="M586.70 152.56 l2.4 2.4 M589.10 152.56 l-2.4 2.4" stroke="#fff" stroke-width="0.95"/>
<circle cx="592.0" cy="215.4" r="12.6" fill="#fff" stroke="#cfcfcf" stroke-width="0.5"/>
<path d="M592.0 202.20000000000002 v1.2 M592.0 227.4 v1.2 M578.8 215.4 h1.2 M604.0 215.4 h1.2" stroke="#cfcfcf" stroke-width="0.4"/>
<path transform="translate(592.00 215.30) scale(1.239 1.239)" d="M-1.6 -4.6 Q0 -3.4 1.6 -4.6 L4.6 -2.8 L3.4 -0.6 L2.6 -1.2 L2.6 4.6 H-2.6 L-2.6 -1.2 L-3.4 -0.6 L-4.6 -2.8Z" fill="#0a0a0a"/>
<rect x="598.4" y="181.05" width="43.5" height="1.1" fill="#9a80c2"/>
<path d="M598.7 181.6 l-1.1 1.0" stroke="#9a80c2" stroke-width="0.8" stroke-linecap="round"/>
<rect x="610.5" y="197.45" width="31.4" height="1.1" fill="#9c9c9c"/>
<text x="609.01" y="186.50" font-size="2.6" fill="#0a0a0a" font-weight="bold" textLength="31.69" lengthAdjust="spacingAndGlyphs" stroke="#0a0a0a" stroke-width="0.15">Women's T-shirt #327</text>
<text x="631.74" y="190.60" font-size="2.6" fill="#0a0a0a" font-weight="bold" textLength="8.96" lengthAdjust="spacingAndGlyphs" stroke="#0a0a0a" stroke-width="0.15">0 sold</text>
<text x="626.06" y="194.70" font-size="2.6" fill="#0a0a0a" font-weight="bold" textLength="14.64" lengthAdjust="spacingAndGlyphs" stroke="#0a0a0a" stroke-width="0.15">8 in Stock</text>
<path d="M643.70 182.00 h6.0 v5.48 l-3.00 1.92 l-3.00 -1.92z" fill="#16a64a"/>
<path d="M645.20 185.06 l1.1 1.2 l2 -2.7" stroke="#fff" stroke-width="0.95" fill="none"/>
<circle cx="466.3" cy="276.4" r="12.6" fill="#fff" stroke="#cfcfcf" stroke-width="0.5"/>
<path d="M466.3 263.2 v1.2 M466.3 288.4 v1.2 M453.1 276.4 h1.2 M478.3 276.4 h1.2" stroke="#cfcfcf" stroke-width="0.4"/>
<path transform="translate(466.40 276.99) scale(1.188 1.132)" d="M-1.6 -4 Q-1.8 -6 0 -6 Q1.8 -6 1.6 -4 Q3.8 -3.4 4.2 -1.4 L4.8 3.6 L3.2 4 L2.8 1.2 L2.8 4.6 H-2.8 L-2.8 1.2 L-3.2 4 L-4.8 3.6 L-4.2 -1.4 Q-3.8 -3.4 -1.6 -4Z" fill="#0a0a0a"/>
<rect x="467.1" y="252.95" width="43.5" height="1.1" fill="#9a80c2"/>
<path d="M467.4 253.5 l-1.1 1.0" stroke="#9a80c2" stroke-width="0.8" stroke-linecap="round"/>
<rect x="479.2" y="268.65" width="31.4" height="1.1" fill="#9c9c9c"/>
<text x="474.94" y="258.30" font-size="2.6" fill="#0a0a0a" font-weight="bold" textLength="34.46" lengthAdjust="spacingAndGlyphs" stroke="#0a0a0a" stroke-width="0.15">Unisex Sweatshirt #459</text>
<text x="500.44" y="262.40" font-size="2.6" fill="#0a0a0a" font-weight="bold" textLength="8.96" lengthAdjust="spacingAndGlyphs" stroke="#0a0a0a" stroke-width="0.15">9 sold</text>
<text x="494.76" y="266.50" font-size="2.6" fill="#0a0a0a" font-weight="bold" textLength="14.64" lengthAdjust="spacingAndGlyphs" stroke="#0a0a0a" stroke-width="0.15">8 in Stock</text>
<path d="M512.40 253.90 h6.0 v5.48 l-3.00 1.92 l-3.00 -1.92z" fill="#16a64a"/>
<path d="M513.90 256.96 l1.1 1.2 l2 -2.7" stroke="#fff" stroke-width="0.95" fill="none"/>
<circle cx="252.7" cy="337.5" r="12.6" fill="#fff" stroke="#cfcfcf" stroke-width="0.5"/>
<path d="M252.7 324.3 v1.2 M252.7 349.5 v1.2 M239.5 337.5 h1.2 M264.7 337.5 h1.2" stroke="#cfcfcf" stroke-width="0.4"/>
<path transform="translate(252.80 337.74) scale(1.206 1.415)" d="M-3.2 -4.6 L-2.6 -5.4 L-1.6 -3.4 Q-0.4 -2.6 0 -3 Q0.4 -2.6 1.6 -3.4 L2.6 -5.4 L3.2 -4.6 Q3.4 -1.4 1.6 -0.8 Q0.4 -0.8 0 -1.8 Q-0.4 -0.8 -1.6 -0.8 Q-3.4 -1.4 -3.2 -4.6Z M-3.2 2.2 Q0 3.6 3.2 2.2 L0.8 5.2 H-0.8Z" fill="#0a0a0a"/>
<rect x="213.3" y="306.15" width="44.0" height="1.1" fill="#9a80c2"/>
<path d="M257.0 306.7 l1.1 1.0" stroke="#9a80c2" stroke-width="0.8" stroke-linecap="round"/>
<rect x="213.3" y="322.05" width="24.7" height="1.1" fill="#9c9c9c"/>
<text x="223.74" y="311.60" font-size="2.6" fill="#0a0a0a" font-weight="bold" textLength="30.66" lengthAdjust="spacingAndGlyphs" stroke="#0a0a0a" stroke-width="0.15">Women's Bikini #103</text>
<text x="245.44" y="315.90" font-size="2.6" fill="#0a0a0a" font-weight="bold" textLength="8.96" lengthAdjust="spacingAndGlyphs" stroke="#0a0a0a" stroke-width="0.15">9 sold</text>
<text x="239.76" y="320.10" font-size="2.6" fill="#0a0a0a" font-weight="bold" textLength="14.64" lengthAdjust="spacingAndGlyphs" stroke="#0a0a0a" stroke-width="0.15">4 in Stock</text>
<path d="M257.40 306.90 h6.0 v5.48 l-3.00 1.92 l-3.00 -1.92z" fill="#fbbd1e"/>
<rect x="258.70" y="309.26" width="3.4" height="1.2" fill="#fff4cf"/>
<circle cx="406.8" cy="321.5" r="12.6" fill="#fff" stroke="#cfcfcf" stroke-width="0.5"/>
<path d="M406.8 308.3 v1.2 M406.8 333.5 v1.2 M393.6 321.5 h1.2 M418.8 321.5 h1.2" stroke="#cfcfcf" stroke-width="0.4"/>
<path transform="translate(406.80 321.74) scale(1.083 1.188)" d="M-2.6 -5 H2.6 L3 4.6 H0.8 L0 -0.6 L-0.8 4.6 H-3Z" fill="#0a0a0a"/>
<rect x="351.1" y="305.15" width="42.4" height="1.1" fill="#9a80c2"/>
<path d="M393.2 305.7 l1.1 1.0" stroke="#9a80c2" stroke-width="0.8" stroke-linecap="round"/>
<rect x="351.1" y="321.35" width="30.8" height="1.1" fill="#9c9c9c"/>
<text x="360.44" y="310.90" font-size="2.6" fill="#0a0a0a" font-weight="bold" textLength="31.86" lengthAdjust="spacingAndGlyphs" stroke="#0a0a0a" stroke-width="0.15">Women's Capris #558</text>
<text x="383.34" y="315.10" font-size="2.6" fill="#0a0a0a" font-weight="bold" textLength="8.96" lengthAdjust="spacingAndGlyphs" stroke="#0a0a0a" stroke-width="0.15">2 sold</text>
<text x="377.66" y="319.30" font-size="2.6" fill="#0a0a0a" font-weight="bold" textLength="14.64" lengthAdjust="spacingAndGlyphs" stroke="#0a0a0a" stroke-width="0.15">8 in Stock</text>
<path d="M394.10 306.40 h6.0 v5.48 l-3.00 1.92 l-3.00 -1.92z" fill="#16a64a"/>
<path d="M395.60 309.46 l1.1 1.2 l2 -2.7" stroke="#fff" stroke-width="0.95" fill="none"/>
<circle cx="569.8" cy="353.5" r="12.6" fill="#fff" stroke="#cfcfcf" stroke-width="0.5"/>
<path d="M569.8 340.3 v1.2 M569.8 365.5 v1.2 M556.5999999999999 353.5 h1.2 M581.8 353.5 h1.2" stroke="#cfcfcf" stroke-width="0.4"/>
<path transform="translate(570.00 353.13) scale(1.531 1.255)" d="M-2 -5.2 H2 L3.2 5 H1.4 L0 -2 L-1.4 5 H-3.2Z" fill="#0a0a0a"/>
<rect x="516.6" y="358.95" width="30.3" height="1.1" fill="#9c9c9c"/>
<rect x="516.6" y="374.15" width="43.6" height="1.1" fill="#9a80c2"/>
<path d="M559.9 374.7 l1.1 -1.0" stroke="#9a80c2" stroke-width="0.8" stroke-linecap="round"/>
<text x="518.99" y="364.10" font-size="2.6" fill="#0a0a0a" font-weight="bold" textLength="38.81" lengthAdjust="spacingAndGlyphs" stroke="#0a0a0a" stroke-width="0.15">Women's Yoga Pants #230</text>
<text x="548.84" y="368.20" font-size="2.6" fill="#0a0a0a" font-weight="bold" textLength="8.96" lengthAdjust="spacingAndGlyphs" stroke="#0a0a0a" stroke-width="0.15">8 sold</text>
<text x="543.16" y="372.30" font-size="2.6" fill="#0a0a0a" font-weight="bold" textLength="14.64" lengthAdjust="spacingAndGlyphs" stroke="#0a0a0a" stroke-width="0.15">0 in Stock</text>
<path d="M560.00 358.40 h6.0 v5.48 l-3.00 1.92 l-3.00 -1.92z" fill="#ee1c25"/>
<path d="M561.80 360.16 l2.4 2.4 M564.20 360.16 l-2.4 2.4" stroke="#fff" stroke-width="0.95"/>
<circle cx="654.8" cy="328.0" r="12.6" fill="#fff" stroke="#cfcfcf" stroke-width="0.5"/>
<path d="M654.8 314.8 v1.2 M654.8 340.0 v1.2 M641.5999999999999 328.0 h1.2 M666.8 328.0 h1.2" stroke="#cfcfcf" stroke-width="0.4"/>
<path transform="translate(655.40 327.59) scale(1.146 1.029)" d="M-2.6 -3 H2.6 L4.8 2.4 Q0 4 -4.8 2.4Z" fill="#0a0a0a"/>
<rect x="661.6" y="298.45" width="43.0" height="1.1" fill="#9a80c2"/>
<path d="M661.9 299.0 l-1.1 1.0" stroke="#9a80c2" stroke-width="0.8" stroke-linecap="round"/>
<rect x="673.7" y="314.35" width="30.9" height="1.1" fill="#9c9c9c"/>
<text x="668.44" y="304.10" font-size="2.6" fill="#0a0a0a" font-weight="bold" textLength="34.96" lengthAdjust="spacingAndGlyphs" stroke="#0a0a0a" stroke-width="0.15">Women's Miniskirt #439</text>
<text x="694.44" y="308.20" font-size="2.6" fill="#0a0a0a" font-weight="bold" textLength="8.96" lengthAdjust="spacingAndGlyphs" stroke="#0a0a0a" stroke-width="0.15">9 sold</text>
<text x="688.76" y="312.30" font-size="2.6" fill="#0a0a0a" font-weight="bold" textLength="14.64" lengthAdjust="spacingAndGlyphs" stroke="#0a0a0a" stroke-width="0.15">8 in Stock</text>
<path d="M706.30 299.40 h6.0 v5.48 l-3.00 1.92 l-3.00 -1.92z" fill="#16a64a"/>
<path d="M707.80 302.46 l1.1 1.2 l2 -2.7" stroke="#fff" stroke-width="0.95" fill="none"/>
<circle cx="723.9" cy="340.7" r="12.6" fill="#fff" stroke="#cfcfcf" stroke-width="0.5"/>
<path d="M723.9 327.5 v1.2 M723.9 352.7 v1.2 M710.6999999999999 340.7 h1.2 M735.9 340.7 h1.2" stroke="#cfcfcf" stroke-width="0.4"/>
<path transform="translate(724.10 340.76) scale(1.353 1.207)" d="M-2 -5.6 L-1.2 -5.6 Q0 -3.4 1.2 -5.6 L2 -5.6 L2.4 -2.4 L1.8 -0.2 L3.4 5 Q0 6 -3.4 5 L-1.8 -0.2 L-2.4 -2.4Z" fill="#0a0a0a"/>
<rect x="732.5" y="321.25" width="43.5" height="1.1" fill="#9a80c2"/>
<path d="M732.8 321.8 l-1.1 1.0" stroke="#9a80c2" stroke-width="0.8" stroke-linecap="round"/>
<rect x="744.5" y="341.95" width="31.5" height="1.1" fill="#9c9c9c"/>
<text x="740.90" y="327.60" font-size="2.6" fill="#0a0a0a" font-weight="bold" textLength="34.10" lengthAdjust="spacingAndGlyphs" stroke="#0a0a0a" stroke-width="0.15">Women's Casual Dress</text>
<text x="768.10" y="331.70" font-size="2.6" fill="#0a0a0a" font-weight="bold" textLength="6.90" lengthAdjust="spacingAndGlyphs" stroke="#0a0a0a" stroke-width="0.15">#804</text>
<text x="766.04" y="335.80" font-size="2.6" fill="#0a0a0a" font-weight="bold" textLength="8.96" lengthAdjust="spacingAndGlyphs" stroke="#0a0a0a" stroke-width="0.15">0 sold</text>
<text x="760.36" y="339.80" font-size="2.6" fill="#0a0a0a" font-weight="bold" textLength="14.64" lengthAdjust="spacingAndGlyphs" stroke="#0a0a0a" stroke-width="0.15">1 in Stock</text>
<path d="M777.70 322.20 h6.0 v5.48 l-3.00 1.92 l-3.00 -1.92z" fill="#ee1c25"/>
<path d="M779.50 323.96 l2.4 2.4 M781.90 323.96 l-2.4 2.4" stroke="#fff" stroke-width="0.95"/>
<circle cx="699.1" cy="366.2" r="12.6" fill="#fff" stroke="#cfcfcf" stroke-width="0.5"/>
<path d="M699.1 353.0 v1.2 M699.1 378.2 v1.2 M685.9 366.2 h1.2 M711.1 366.2 h1.2" stroke="#cfcfcf" stroke-width="0.4"/>
<path transform="translate(699.20 366.03) scale(1.278 0.904)" d="M-2 -4.4 H2 L3.6 4 Q0 5 -3.6 4Z" fill="#0a0a0a"/>
<rect x="656.7" y="381.35" width="31.0" height="1.1" fill="#9c9c9c"/>
<rect x="656.7" y="396.55" width="43.6" height="1.1" fill="#9a80c2"/>
<path d="M700.0 397.1 l1.1 -1.0" stroke="#9a80c2" stroke-width="0.8" stroke-linecap="round"/>
<text x="668.29" y="386.50" font-size="2.6" fill="#0a0a0a" font-weight="bold" textLength="29.11" lengthAdjust="spacingAndGlyphs" stroke="#0a0a0a" stroke-width="0.15">Women's Skirt #643</text>
<text x="688.44" y="390.60" font-size="2.6" fill="#0a0a0a" font-weight="bold" textLength="8.96" lengthAdjust="spacingAndGlyphs" stroke="#0a0a0a" stroke-width="0.15">8 sold</text>
<text x="682.76" y="394.70" font-size="2.6" fill="#0a0a0a" font-weight="bold" textLength="14.64" lengthAdjust="spacingAndGlyphs" stroke="#0a0a0a" stroke-width="0.15">2 in Stock</text>
<path d="M700.20 381.80 h6.0 v5.48 l-3.00 1.92 l-3.00 -1.92z" fill="#ee1c25"/>
<path d="M702.00 383.56 l2.4 2.4 M704.40 383.56 l-2.4 2.4" stroke="#fff" stroke-width="0.95"/>
<circle cx="730.0" cy="378.7" r="12.6" fill="#fff" stroke="#cfcfcf" stroke-width="0.5"/>
<path d="M730.0 365.5 v1.2 M730.0 390.7 v1.2 M716.8 378.7 h1.2 M742.0 378.7 h1.2" stroke="#cfcfcf" stroke-width="0.4"/>
<path transform="translate(729.40 378.59) scale(1.211 1.127)" d="M-1.6 -5.8 L-0.9 -5.8 L0 -3.4 L0.9 -5.8 L1.6 -5.8 L1.8 -2.4 L1.2 -1 L3.8 5 Q0 6 -3.8 5 L-1.2 -1 L-1.8 -2.4Z" fill="#0a0a0a"/>
<rect x="748.8" y="380.45" width="31.2" height="1.1" fill="#9c9c9c"/>
<rect x="736.4" y="396.45" width="43.6" height="1.1" fill="#9a80c2"/>
<path d="M736.7 397.0 l-1.1 -1.0" stroke="#9a80c2" stroke-width="0.8" stroke-linecap="round"/>
<text x="742.09" y="386.00" font-size="2.6" fill="#0a0a0a" font-weight="bold" textLength="36.81" lengthAdjust="spacingAndGlyphs" stroke="#0a0a0a" stroke-width="0.15">Women's Tea Dress #583</text>
<text x="769.94" y="390.10" font-size="2.6" fill="#0a0a0a" font-weight="bold" textLength="8.96" lengthAdjust="spacingAndGlyphs" stroke="#0a0a0a" stroke-width="0.15">7 sold</text>
<text x="764.26" y="394.20" font-size="2.6" fill="#0a0a0a" font-weight="bold" textLength="14.64" lengthAdjust="spacingAndGlyphs" stroke="#0a0a0a" stroke-width="0.15">9 in Stock</text>
<path d="M781.90 381.50 h6.0 v5.48 l-3.00 1.92 l-3.00 -1.92z" fill="#16a64a"/>
<path d="M783.40 384.56 l1.1 1.2 l2 -2.7" stroke="#fff" stroke-width="0.95" fill="none"/>
<circle cx="384.4" cy="466.6" r="12.6" fill="#fff" stroke="#cfcfcf" stroke-width="0.5"/>
<path d="M384.4 453.40000000000003 v1.2 M384.4 478.6 v1.2 M371.2 466.6 h1.2 M396.4 466.6 h1.2" stroke="#cfcfcf" stroke-width="0.4"/>
<path transform="translate(384.40 466.58) scale(1.250 1.213)" d="M-1.4 -4.6 L0 -2.2 L1.4 -4.6 L3.4 -3.6 L4.2 3 L2.9 3.4 L2.5 0.6 L2.8 4.8 H-2.8 L-2.5 0.6 L-2.9 3.4 L-4.2 3 L-3.4 -3.6Z" fill="#0a0a0a"/>
<rect x="327.6" y="436.75" width="43.5" height="1.1" fill="#9a80c2"/>
<path d="M370.8 437.3 l1.1 1.0" stroke="#9a80c2" stroke-width="0.8" stroke-linecap="round"/>
<rect x="327.6" y="452.45" width="31.4" height="1.1" fill="#9c9c9c"/>
<text x="335.45" y="442.40" font-size="2.6" fill="#0a0a0a" font-weight="bold" textLength="32.55" lengthAdjust="spacingAndGlyphs" stroke="#0a0a0a" stroke-width="0.15">Women's Blouse #910</text>
<text x="359.04" y="446.50" font-size="2.6" fill="#0a0a0a" font-weight="bold" textLength="8.96" lengthAdjust="spacingAndGlyphs" stroke="#0a0a0a" stroke-width="0.15">8 sold</text>
<text x="353.36" y="450.60" font-size="2.6" fill="#0a0a0a" font-weight="bold" textLength="14.64" lengthAdjust="spacingAndGlyphs" stroke="#0a0a0a" stroke-width="0.15">0 in Stock</text>
<path d="M371.40 437.80 h6.0 v5.48 l-3.00 1.92 l-3.00 -1.92z" fill="#ee1c25"/>
<path d="M373.20 439.56 l2.4 2.4 M375.60 439.56 l-2.4 2.4" stroke="#fff" stroke-width="0.95"/>
<circle cx="572.8" cy="465.8" r="12.6" fill="#fff" stroke="#cfcfcf" stroke-width="0.5"/>
<path d="M572.8 452.6 v1.2 M572.8 477.8 v1.2 M559.5999999999999 465.8 h1.2 M584.8 465.8 h1.2" stroke="#cfcfcf" stroke-width="0.4"/>
<path transform="translate(573.60 466.24) scale(1.652 1.386)" d="M-1.8 -5.8 H-1 L-0.6 -4 H0.6 L1 -5.8 H1.8 L2.1 -2.4 L1.6 0.4 L2.3 5.6 H-2.3 L-1.6 0.4 L-2.1 -2.4Z" fill="#0a0a0a"/>
<rect x="573.6" y="422.45" width="42.8" height="1.1" fill="#9a80c2"/>
<path d="M573.9 423.0 l-1.1 1.0" stroke="#9a80c2" stroke-width="0.8" stroke-linecap="round"/>
<rect x="585.7" y="443.75" width="30.7" height="1.1" fill="#9c9c9c"/>
<text x="579.40" y="428.30" font-size="2.6" fill="#0a0a0a" font-weight="bold" textLength="36.00" lengthAdjust="spacingAndGlyphs" stroke="#0a0a0a" stroke-width="0.15">Women's Cocktail Dress</text>
<text x="608.50" y="432.40" font-size="2.6" fill="#0a0a0a" font-weight="bold" textLength="6.90" lengthAdjust="spacingAndGlyphs" stroke="#0a0a0a" stroke-width="0.15">#918</text>
<text x="606.44" y="436.60" font-size="2.6" fill="#0a0a0a" font-weight="bold" textLength="8.96" lengthAdjust="spacingAndGlyphs" stroke="#0a0a0a" stroke-width="0.15">1 sold</text>
<text x="600.76" y="440.70" font-size="2.6" fill="#0a0a0a" font-weight="bold" textLength="14.64" lengthAdjust="spacingAndGlyphs" stroke="#0a0a0a" stroke-width="0.15">8 in Stock</text>
<path d="M618.60 423.40 h6.0 v5.48 l-3.00 1.92 l-3.00 -1.92z" fill="#16a64a"/>
<path d="M620.10 426.46 l1.1 1.2 l2 -2.7" stroke="#fff" stroke-width="0.95" fill="none"/>
<circle cx="318.5" cy="242.8" r="12.6" fill="#fff" stroke="#cfcfcf" stroke-width="0.5"/>
<path d="M318.5 229.60000000000002 v1.2 M318.5 254.8 v1.2 M305.3 242.8 h1.2 M330.5 242.8 h1.2" stroke="#cfcfcf" stroke-width="0.4"/>
<path transform="translate(318.60 243.60) scale(1.536 1.667)" d="M-2.4 -5.4 H2.4 L2.8 5.4 H0.9 L0 -1.4 L-0.9 5.4 H-2.8Z" fill="#0a0a0a"/>
<rect x="313.1" y="233.3" width="11.6" height="20.6" fill="none" stroke="#4fc24f" stroke-width="0.8"/>
<circle cx="318.8" cy="243" r="1.2" fill="#ffe25a"/>
<circle cx="310.3" cy="250.9" r="2.1" fill="#fff" stroke="#8a8a8a" stroke-width="1"/>
<rect x="289.5" y="261.9" width="43" height="16" fill="#fff" stroke="#b8b8b8" stroke-width="0.45"/>
<rect x="289.5" y="277.4" width="43" height="1" fill="#9a80c2"/>
<text x="296.10" y="267.30" font-size="2.6" fill="#0a0a0a" font-weight="bold" textLength="34.50" lengthAdjust="spacingAndGlyphs" stroke="#0a0a0a" stroke-width="0.15">Men's Sweatpants #621</text>
<text x="321.64" y="271.40" font-size="2.6" fill="#0a0a0a" font-weight="bold" textLength="8.96" lengthAdjust="spacingAndGlyphs" stroke="#0a0a0a" stroke-width="0.15">9 sold</text>
<text x="315.96" y="275.50" font-size="2.6" fill="#0a0a0a" font-weight="bold" textLength="14.64" lengthAdjust="spacingAndGlyphs" stroke="#0a0a0a" stroke-width="0.15">3 in Stock</text>
<circle cx="289.5" cy="261.9" r="1.7" fill="#fff" stroke="#8d8d8d" stroke-width="0.5"/>
<circle cx="289.5" cy="269.9" r="1.7" fill="#fff" stroke="#8d8d8d" stroke-width="0.5"/>
<circle cx="289.5" cy="277.9" r="1.7" fill="#fff" stroke="#8d8d8d" stroke-width="0.5"/>
<circle cx="311" cy="261.9" r="1.7" fill="#fff" stroke="#8d8d8d" stroke-width="0.5"/>
<circle cx="311" cy="277.9" r="1.7" fill="#fff" stroke="#8d8d8d" stroke-width="0.5"/>
<circle cx="332.5" cy="261.9" r="1.7" fill="#fff" stroke="#8d8d8d" stroke-width="0.5"/>
<circle cx="332.5" cy="269.9" r="1.7" fill="#fff" stroke="#8d8d8d" stroke-width="0.5"/>
<circle cx="332.5" cy="277.9" r="1.7" fill="#fff" stroke="#8d8d8d" stroke-width="0.5"/>
<rect x="333.4" y="262.2" width="6.6" height="8" fill="none" stroke="#3a6fd8" stroke-width="0.7"/>
<path d="M334.10 262.80 h5.2 v5.03 l-2.60 1.77 l-2.60 -1.77z" fill="#fbbd1e"/>
<rect x="335.00" y="264.92" width="3.4" height="1.2" fill="#fff4cf"/>
</g>
<rect x="686.4" y="110.3" width="97.3" height="148" fill="#eaeaea" stroke="#d2d2d2" stroke-width="0.5"/>
<text x="692.00" y="120.20" font-size="4.3" fill="#111" textLength="7.60" lengthAdjust="spacingAndGlyphs" stroke="#111" stroke-width="0.1">Item</text>
<text x="712.40" y="120.20" font-size="4.3" fill="#111" textLength="21.20" lengthAdjust="spacingAndGlyphs" stroke="#111" stroke-width="0.1">Sweatpants</text>
<rect x="690.4" y="122.50" width="81" height="0.4" fill="#d4d4d4"/>
<text x="692.00" y="128.12" font-size="4.3" fill="#111" textLength="14.20" lengthAdjust="spacingAndGlyphs" stroke="#111" stroke-width="0.1">Gender</text>
<text x="712.40" y="128.12" font-size="4.3" fill="#111" textLength="10.60" lengthAdjust="spacingAndGlyphs" stroke="#111" stroke-width="0.1">Men's</text>
<rect x="690.4" y="130.42" width="81" height="0.4" fill="#d4d4d4"/>
<text x="692.00" y="136.04" font-size="4.3" fill="#111" textLength="3.80" lengthAdjust="spacingAndGlyphs" stroke="#111" stroke-width="0.1">ID</text>
<text x="712.40" y="136.04" font-size="4.3" fill="#111" textLength="6.20" lengthAdjust="spacingAndGlyphs" stroke="#111" stroke-width="0.1">621</text>
<rect x="690.4" y="138.34" width="81" height="0.4" fill="#d4d4d4"/>
<text x="692.00" y="143.96" font-size="4.3" fill="#111" textLength="8.20" lengthAdjust="spacingAndGlyphs" stroke="#111" stroke-width="0.1">Sold</text>
<text x="712.40" y="143.96" font-size="4.3" fill="#111" textLength="2.20" lengthAdjust="spacingAndGlyphs" stroke="#111" stroke-width="0.1">9</text>
<rect x="690.4" y="146.26" width="81" height="0.4" fill="#d4d4d4"/>
<text x="692.00" y="151.88" font-size="4.3" fill="#111" textLength="10.60" lengthAdjust="spacingAndGlyphs" stroke="#111" stroke-width="0.1">Stock</text>
<text x="712.40" y="151.88" font-size="4.3" fill="#111" textLength="2.20" lengthAdjust="spacingAndGlyphs" stroke="#111" stroke-width="0.1">3</text>
<rect x="690.4" y="154.18" width="81" height="0.4" fill="#d4d4d4"/>
<rect x="710.2" y="114.6" width="0.4" height="39.6" fill="#dcdcdc"/>
<text transform="translate(776.6 114.4) rotate(90)" font-size="3.5" fill="#3a53a1" font-weight="bold" textLength="64" lengthAdjust="spacingAndGlyphs">SHAPE DATA - ITEM CALLOUT.9998</text>
<path d="M776.8 237.8 h2.2 M777.9 236.7 v2.2" stroke="#444" stroke-width="0.6"/><circle cx="777.9" cy="237.8" r="0.7" fill="#444"/>
<path d="M776.6 247.6 l2.6 2.6 M779.2 247.6 l-2.6 2.6" stroke="#333" stroke-width="0.6"/>
</g>
</svg>
</body></html>
